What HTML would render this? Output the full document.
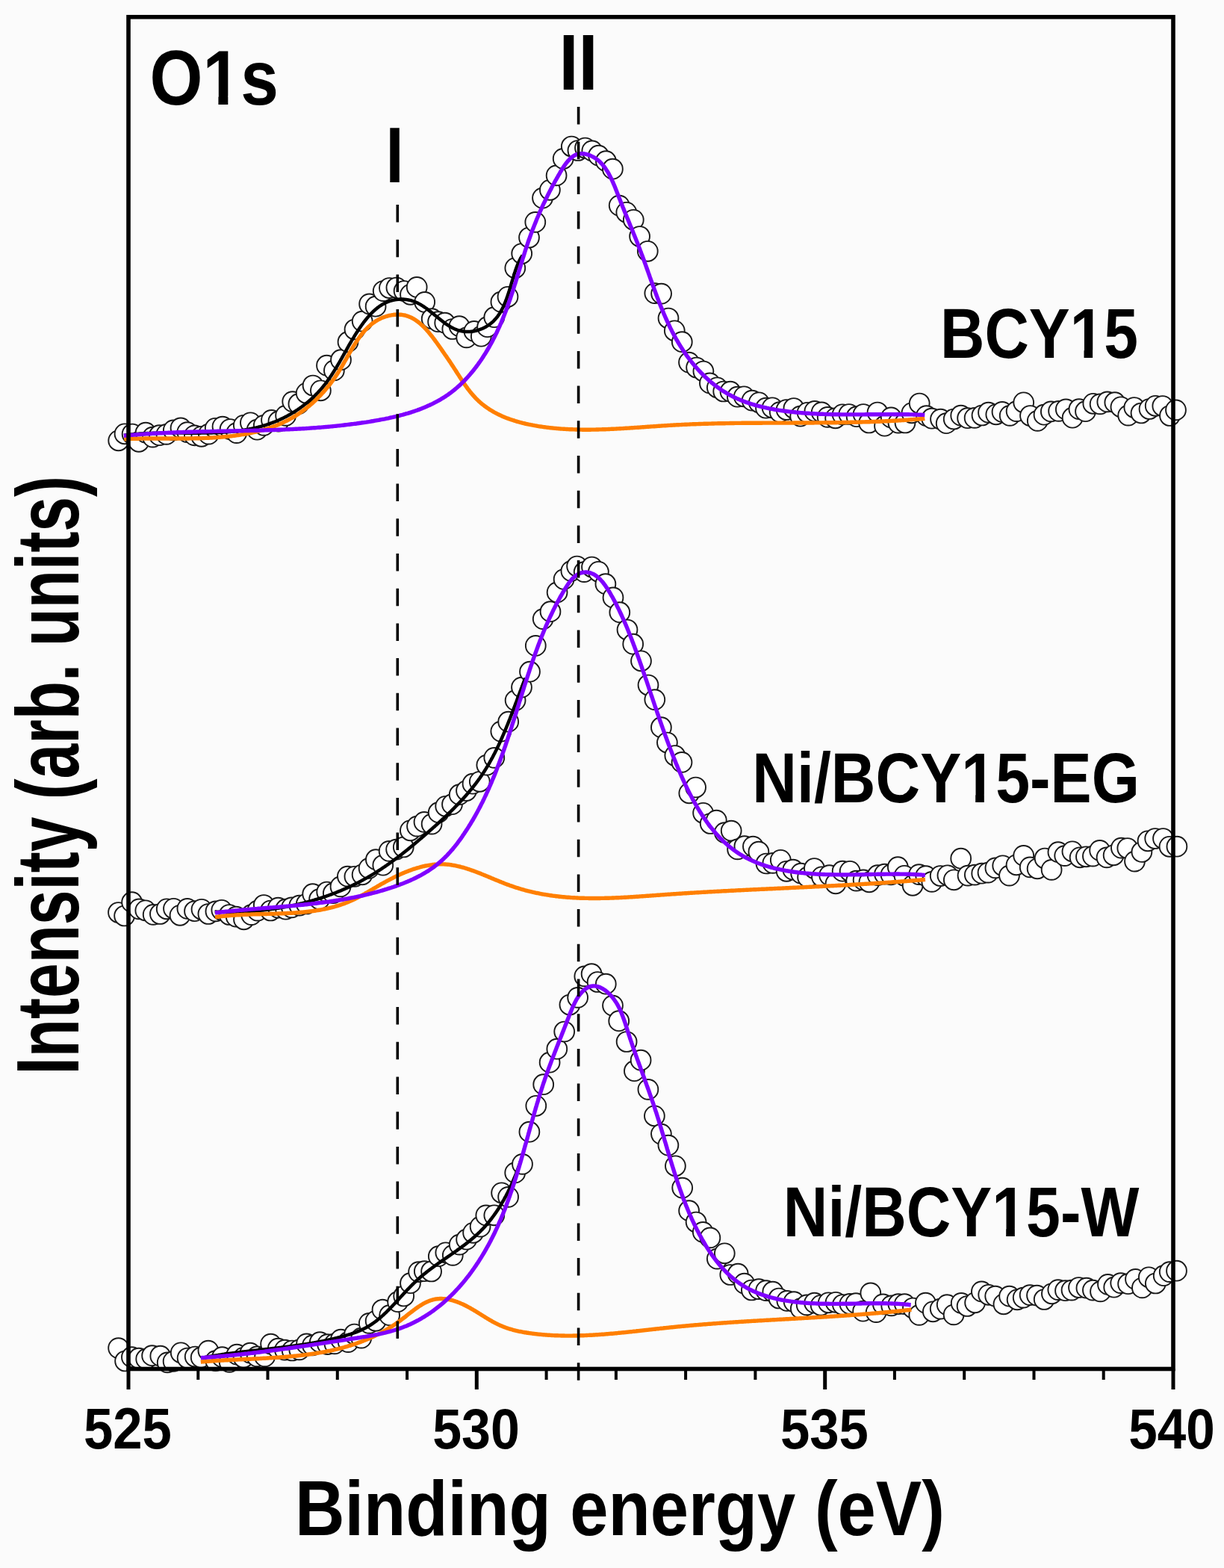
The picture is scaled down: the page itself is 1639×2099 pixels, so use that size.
<!DOCTYPE html>
<html><head><meta charset="utf-8"><title>O1s XPS spectra</title>
<style>html,body{margin:0;padding:0;background:#fbfbfb;}svg{display:block;}</style></head>
<body><svg width="1639" height="2099" viewBox="0 0 1639 2099"><rect x="0" y="0" width="1639" height="2099" fill="#fbfbfb"/>
<rect x="175" y="25.5" width="1393" height="1804.5" fill="#fbfbfb"/>
<g fill="#fff" stroke="#1a1a1a" stroke-width="1.9">
<circle cx="158.7" cy="589.8" r="13.4"/>
<circle cx="167.0" cy="580.8" r="13.4"/>
<circle cx="177.1" cy="581.0" r="13.4"/>
<circle cx="185.9" cy="591.3" r="13.4"/>
<circle cx="195.1" cy="579.2" r="13.4"/>
<circle cx="204.5" cy="585.1" r="13.4"/>
<circle cx="213.4" cy="582.7" r="13.4"/>
<circle cx="222.9" cy="581.4" r="13.4"/>
<circle cx="232.3" cy="575.9" r="13.4"/>
<circle cx="242.0" cy="572.9" r="13.4"/>
<circle cx="250.8" cy="578.6" r="13.4"/>
<circle cx="260.4" cy="582.9" r="13.4"/>
<circle cx="269.8" cy="584.3" r="13.4"/>
<circle cx="279.4" cy="581.1" r="13.4"/>
<circle cx="288.2" cy="573.3" r="13.4"/>
<circle cx="298.0" cy="571.1" r="13.4"/>
<circle cx="308.1" cy="574.5" r="13.4"/>
<circle cx="316.8" cy="579.6" r="13.4"/>
<circle cx="326.3" cy="569.3" r="13.4"/>
<circle cx="335.4" cy="565.8" r="13.4"/>
<circle cx="344.3" cy="575.2" r="13.4"/>
<circle cx="353.3" cy="569.4" r="13.4"/>
<circle cx="363.5" cy="562.4" r="13.4"/>
<circle cx="372.9" cy="564.2" r="13.4"/>
<circle cx="382.6" cy="556.4" r="13.4"/>
<circle cx="391.7" cy="537.6" r="13.4"/>
<circle cx="399.9" cy="540.7" r="13.4"/>
<circle cx="410.2" cy="526.3" r="13.4"/>
<circle cx="419.0" cy="516.0" r="13.4"/>
<circle cx="429.4" cy="522.8" r="13.4"/>
<circle cx="437.5" cy="489.2" r="13.4"/>
<circle cx="447.4" cy="495.9" r="13.4"/>
<circle cx="456.5" cy="481.7" r="13.4"/>
<circle cx="466.0" cy="457.7" r="13.4"/>
<circle cx="475.0" cy="441.0" r="13.4"/>
<circle cx="485.2" cy="430.1" r="13.4"/>
<circle cx="494.6" cy="406.9" r="13.4"/>
<circle cx="503.1" cy="410.2" r="13.4"/>
<circle cx="513.2" cy="389.6" r="13.4"/>
<circle cx="521.4" cy="385.5" r="13.4"/>
<circle cx="530.9" cy="385.0" r="13.4"/>
<circle cx="541.1" cy="389.5" r="13.4"/>
<circle cx="549.5" cy="394.3" r="13.4"/>
<circle cx="558.2" cy="384.4" r="13.4"/>
<circle cx="568.7" cy="404.4" r="13.4"/>
<circle cx="578.2" cy="426.7" r="13.4"/>
<circle cx="586.6" cy="430.7" r="13.4"/>
<circle cx="595.7" cy="432.2" r="13.4"/>
<circle cx="605.8" cy="440.5" r="13.4"/>
<circle cx="615.0" cy="436.6" r="13.4"/>
<circle cx="624.7" cy="451.9" r="13.4"/>
<circle cx="634.9" cy="443.4" r="13.4"/>
<circle cx="644.3" cy="450.2" r="13.4"/>
<circle cx="652.6" cy="437.7" r="13.4"/>
<circle cx="661.8" cy="424.7" r="13.4"/>
<circle cx="670.9" cy="404.2" r="13.4"/>
<circle cx="680.0" cy="397.3" r="13.4"/>
<circle cx="689.8" cy="358.8" r="13.4"/>
<circle cx="698.7" cy="339.5" r="13.4"/>
<circle cx="708.5" cy="318.0" r="13.4"/>
<circle cx="716.8" cy="297.4" r="13.4"/>
<circle cx="726.5" cy="265.1" r="13.4"/>
<circle cx="736.4" cy="254.3" r="13.4"/>
<circle cx="745.1" cy="234.9" r="13.4"/>
<circle cx="754.2" cy="212.4" r="13.4"/>
<circle cx="765.3" cy="196.0" r="13.4"/>
<circle cx="773.9" cy="201.5" r="13.4"/>
<circle cx="783.5" cy="198.0" r="13.4"/>
<circle cx="792.8" cy="201.9" r="13.4"/>
<circle cx="801.5" cy="208.2" r="13.4"/>
<circle cx="811.4" cy="215.7" r="13.4"/>
<circle cx="820.4" cy="226.2" r="13.4"/>
<circle cx="829.2" cy="275.1" r="13.4"/>
<circle cx="838.8" cy="284.3" r="13.4"/>
<circle cx="848.3" cy="294.3" r="13.4"/>
<circle cx="856.6" cy="316.5" r="13.4"/>
<circle cx="867.3" cy="336.3" r="13.4"/>
<circle cx="876.8" cy="392.6" r="13.4"/>
<circle cx="885.6" cy="393.1" r="13.4"/>
<circle cx="895.0" cy="426.0" r="13.4"/>
<circle cx="903.3" cy="442.8" r="13.4"/>
<circle cx="913.3" cy="457.7" r="13.4"/>
<circle cx="922.5" cy="485.1" r="13.4"/>
<circle cx="932.6" cy="492.0" r="13.4"/>
<circle cx="941.9" cy="497.0" r="13.4"/>
<circle cx="950.4" cy="512.9" r="13.4"/>
<circle cx="960.3" cy="518.8" r="13.4"/>
<circle cx="968.7" cy="524.0" r="13.4"/>
<circle cx="978.0" cy="524.2" r="13.4"/>
<circle cx="987.4" cy="531.2" r="13.4"/>
<circle cx="996.3" cy="530.8" r="13.4"/>
<circle cx="1007.1" cy="536.1" r="13.4"/>
<circle cx="1016.3" cy="538.8" r="13.4"/>
<circle cx="1025.5" cy="546.2" r="13.4"/>
<circle cx="1034.1" cy="545.8" r="13.4"/>
<circle cx="1044.2" cy="551.6" r="13.4"/>
<circle cx="1053.1" cy="548.5" r="13.4"/>
<circle cx="1062.9" cy="546.5" r="13.4"/>
<circle cx="1071.7" cy="557.2" r="13.4"/>
<circle cx="1081.1" cy="552.3" r="13.4"/>
<circle cx="1090.9" cy="550.4" r="13.4"/>
<circle cx="1100.2" cy="551.9" r="13.4"/>
<circle cx="1108.2" cy="558.4" r="13.4"/>
<circle cx="1118.6" cy="559.8" r="13.4"/>
<circle cx="1128.1" cy="554.8" r="13.4"/>
<circle cx="1136.8" cy="554.5" r="13.4"/>
<circle cx="1147.1" cy="557.7" r="13.4"/>
<circle cx="1156.1" cy="554.5" r="13.4"/>
<circle cx="1163.6" cy="566.0" r="13.4"/>
<circle cx="1175.0" cy="552.0" r="13.4"/>
<circle cx="1184.5" cy="570.2" r="13.4"/>
<circle cx="1193.2" cy="558.9" r="13.4"/>
<circle cx="1202.9" cy="566.1" r="13.4"/>
<circle cx="1212.0" cy="566.0" r="13.4"/>
<circle cx="1220.9" cy="552.8" r="13.4"/>
<circle cx="1231.2" cy="540.0" r="13.4"/>
<circle cx="1240.5" cy="556.6" r="13.4"/>
<circle cx="1247.7" cy="560.2" r="13.4"/>
<circle cx="1259.5" cy="561.1" r="13.4"/>
<circle cx="1267.2" cy="566.7" r="13.4"/>
<circle cx="1277.2" cy="561.0" r="13.4"/>
<circle cx="1286.7" cy="556.2" r="13.4"/>
<circle cx="1295.6" cy="559.7" r="13.4"/>
<circle cx="1305.1" cy="559.4" r="13.4"/>
<circle cx="1315.0" cy="556.0" r="13.4"/>
<circle cx="1323.5" cy="552.2" r="13.4"/>
<circle cx="1333.8" cy="554.8" r="13.4"/>
<circle cx="1342.0" cy="551.4" r="13.4"/>
<circle cx="1352.2" cy="556.4" r="13.4"/>
<circle cx="1361.1" cy="550.6" r="13.4"/>
<circle cx="1370.7" cy="538.8" r="13.4"/>
<circle cx="1379.5" cy="556.5" r="13.4"/>
<circle cx="1389.3" cy="563.4" r="13.4"/>
<circle cx="1398.0" cy="555.2" r="13.4"/>
<circle cx="1407.3" cy="550.9" r="13.4"/>
<circle cx="1417.6" cy="550.4" r="13.4"/>
<circle cx="1427.3" cy="547.9" r="13.4"/>
<circle cx="1436.1" cy="559.2" r="13.4"/>
<circle cx="1444.9" cy="547.7" r="13.4"/>
<circle cx="1453.5" cy="550.7" r="13.4"/>
<circle cx="1463.8" cy="540.3" r="13.4"/>
<circle cx="1473.1" cy="540.9" r="13.4"/>
<circle cx="1482.8" cy="537.9" r="13.4"/>
<circle cx="1492.8" cy="538.7" r="13.4"/>
<circle cx="1500.9" cy="544.8" r="13.4"/>
<circle cx="1510.7" cy="556.1" r="13.4"/>
<circle cx="1518.8" cy="545.5" r="13.4"/>
<circle cx="1528.0" cy="553.0" r="13.4"/>
<circle cx="1539.0" cy="547.5" r="13.4"/>
<circle cx="1547.2" cy="543.3" r="13.4"/>
<circle cx="1556.8" cy="543.5" r="13.4"/>
<circle cx="1566.5" cy="556.5" r="13.4"/>
<circle cx="1574.5" cy="548.9" r="13.4"/>
</g>
<g fill="#fff" stroke="#1a1a1a" stroke-width="1.9">
<circle cx="158.5" cy="1221.5" r="13.4"/>
<circle cx="166.6" cy="1226.0" r="13.4"/>
<circle cx="176.6" cy="1207.7" r="13.4"/>
<circle cx="186.3" cy="1216.9" r="13.4"/>
<circle cx="194.8" cy="1218.8" r="13.4"/>
<circle cx="205.2" cy="1224.4" r="13.4"/>
<circle cx="214.4" cy="1223.5" r="13.4"/>
<circle cx="223.2" cy="1216.8" r="13.4"/>
<circle cx="232.5" cy="1216.3" r="13.4"/>
<circle cx="241.0" cy="1225.3" r="13.4"/>
<circle cx="250.9" cy="1216.4" r="13.4"/>
<circle cx="260.5" cy="1219.7" r="13.4"/>
<circle cx="270.0" cy="1217.3" r="13.4"/>
<circle cx="278.9" cy="1223.5" r="13.4"/>
<circle cx="288.9" cy="1219.9" r="13.4"/>
<circle cx="296.8" cy="1218.3" r="13.4"/>
<circle cx="307.0" cy="1224.5" r="13.4"/>
<circle cx="316.2" cy="1227.1" r="13.4"/>
<circle cx="326.5" cy="1230.8" r="13.4"/>
<circle cx="336.6" cy="1224.6" r="13.4"/>
<circle cx="344.9" cy="1219.1" r="13.4"/>
<circle cx="353.3" cy="1211.5" r="13.4"/>
<circle cx="362.3" cy="1219.0" r="13.4"/>
<circle cx="372.4" cy="1215.1" r="13.4"/>
<circle cx="382.6" cy="1217.2" r="13.4"/>
<circle cx="390.5" cy="1214.9" r="13.4"/>
<circle cx="400.9" cy="1212.1" r="13.4"/>
<circle cx="410.3" cy="1210.0" r="13.4"/>
<circle cx="418.7" cy="1196.7" r="13.4"/>
<circle cx="427.6" cy="1203.7" r="13.4"/>
<circle cx="437.7" cy="1194.0" r="13.4"/>
<circle cx="446.3" cy="1195.7" r="13.4"/>
<circle cx="456.0" cy="1186.9" r="13.4"/>
<circle cx="465.4" cy="1173.1" r="13.4"/>
<circle cx="474.9" cy="1173.3" r="13.4"/>
<circle cx="485.1" cy="1170.8" r="13.4"/>
<circle cx="494.1" cy="1162.4" r="13.4"/>
<circle cx="503.4" cy="1150.7" r="13.4"/>
<circle cx="512.8" cy="1158.2" r="13.4"/>
<circle cx="521.1" cy="1139.4" r="13.4"/>
<circle cx="530.6" cy="1137.1" r="13.4"/>
<circle cx="540.3" cy="1134.0" r="13.4"/>
<circle cx="549.4" cy="1111.8" r="13.4"/>
<circle cx="558.5" cy="1106.1" r="13.4"/>
<circle cx="568.0" cy="1100.4" r="13.4"/>
<circle cx="578.1" cy="1103.1" r="13.4"/>
<circle cx="587.2" cy="1087.7" r="13.4"/>
<circle cx="596.7" cy="1079.3" r="13.4"/>
<circle cx="605.5" cy="1076.7" r="13.4"/>
<circle cx="615.2" cy="1063.7" r="13.4"/>
<circle cx="624.5" cy="1058.5" r="13.4"/>
<circle cx="633.0" cy="1049.2" r="13.4"/>
<circle cx="642.3" cy="1046.3" r="13.4"/>
<circle cx="651.8" cy="1024.1" r="13.4"/>
<circle cx="661.8" cy="1014.4" r="13.4"/>
<circle cx="670.8" cy="979.1" r="13.4"/>
<circle cx="680.7" cy="966.2" r="13.4"/>
<circle cx="690.1" cy="937.6" r="13.4"/>
<circle cx="698.5" cy="920.1" r="13.4"/>
<circle cx="709.5" cy="899.2" r="13.4"/>
<circle cx="717.3" cy="864.4" r="13.4"/>
<circle cx="727.2" cy="828.6" r="13.4"/>
<circle cx="737.0" cy="818.7" r="13.4"/>
<circle cx="746.1" cy="792.9" r="13.4"/>
<circle cx="755.1" cy="775.4" r="13.4"/>
<circle cx="764.9" cy="764.4" r="13.4"/>
<circle cx="772.6" cy="758.0" r="13.4"/>
<circle cx="782.2" cy="765.6" r="13.4"/>
<circle cx="792.5" cy="759.0" r="13.4"/>
<circle cx="801.4" cy="765.3" r="13.4"/>
<circle cx="810.9" cy="781.7" r="13.4"/>
<circle cx="821.0" cy="799.9" r="13.4"/>
<circle cx="829.8" cy="819.7" r="13.4"/>
<circle cx="840.0" cy="843.0" r="13.4"/>
<circle cx="847.7" cy="862.2" r="13.4"/>
<circle cx="858.5" cy="884.8" r="13.4"/>
<circle cx="868.0" cy="917.0" r="13.4"/>
<circle cx="876.8" cy="936.6" r="13.4"/>
<circle cx="885.4" cy="973.7" r="13.4"/>
<circle cx="893.4" cy="994.0" r="13.4"/>
<circle cx="903.8" cy="1011.5" r="13.4"/>
<circle cx="913.0" cy="1020.4" r="13.4"/>
<circle cx="922.8" cy="1061.8" r="13.4"/>
<circle cx="931.6" cy="1054.0" r="13.4"/>
<circle cx="941.6" cy="1088.3" r="13.4"/>
<circle cx="951.2" cy="1102.5" r="13.4"/>
<circle cx="959.3" cy="1098.1" r="13.4"/>
<circle cx="970.3" cy="1114.6" r="13.4"/>
<circle cx="979.2" cy="1112.1" r="13.4"/>
<circle cx="987.6" cy="1136.9" r="13.4"/>
<circle cx="996.9" cy="1132.7" r="13.4"/>
<circle cx="1008.4" cy="1133.1" r="13.4"/>
<circle cx="1015.9" cy="1140.2" r="13.4"/>
<circle cx="1026.0" cy="1156.0" r="13.4"/>
<circle cx="1034.9" cy="1155.4" r="13.4"/>
<circle cx="1045.3" cy="1151.3" r="13.4"/>
<circle cx="1053.2" cy="1166.3" r="13.4"/>
<circle cx="1061.9" cy="1164.2" r="13.4"/>
<circle cx="1072.6" cy="1169.1" r="13.4"/>
<circle cx="1081.6" cy="1174.2" r="13.4"/>
<circle cx="1090.4" cy="1162.5" r="13.4"/>
<circle cx="1100.5" cy="1173.8" r="13.4"/>
<circle cx="1110.6" cy="1171.6" r="13.4"/>
<circle cx="1119.0" cy="1182.8" r="13.4"/>
<circle cx="1128.1" cy="1166.2" r="13.4"/>
<circle cx="1138.1" cy="1166.3" r="13.4"/>
<circle cx="1146.7" cy="1179.1" r="13.4"/>
<circle cx="1156.1" cy="1177.9" r="13.4"/>
<circle cx="1163.9" cy="1180.8" r="13.4"/>
<circle cx="1175.2" cy="1171.7" r="13.4"/>
<circle cx="1184.5" cy="1170.1" r="13.4"/>
<circle cx="1193.0" cy="1170.8" r="13.4"/>
<circle cx="1202.3" cy="1160.7" r="13.4"/>
<circle cx="1211.0" cy="1172.3" r="13.4"/>
<circle cx="1222.1" cy="1185.3" r="13.4"/>
<circle cx="1230.6" cy="1170.6" r="13.4"/>
<circle cx="1239.7" cy="1172.6" r="13.4"/>
<circle cx="1247.8" cy="1180.4" r="13.4"/>
<circle cx="1259.2" cy="1172.5" r="13.4"/>
<circle cx="1268.9" cy="1171.8" r="13.4"/>
<circle cx="1277.3" cy="1177.8" r="13.4"/>
<circle cx="1286.7" cy="1149.2" r="13.4"/>
<circle cx="1296.0" cy="1172.1" r="13.4"/>
<circle cx="1305.3" cy="1171.1" r="13.4"/>
<circle cx="1314.7" cy="1169.2" r="13.4"/>
<circle cx="1323.0" cy="1168.1" r="13.4"/>
<circle cx="1332.9" cy="1161.9" r="13.4"/>
<circle cx="1342.7" cy="1158.8" r="13.4"/>
<circle cx="1351.5" cy="1172.1" r="13.4"/>
<circle cx="1361.0" cy="1157.8" r="13.4"/>
<circle cx="1370.7" cy="1145.4" r="13.4"/>
<circle cx="1379.2" cy="1160.9" r="13.4"/>
<circle cx="1389.1" cy="1162.8" r="13.4"/>
<circle cx="1399.1" cy="1149.0" r="13.4"/>
<circle cx="1408.1" cy="1164.4" r="13.4"/>
<circle cx="1416.9" cy="1140.7" r="13.4"/>
<circle cx="1425.7" cy="1145.6" r="13.4"/>
<circle cx="1435.9" cy="1139.8" r="13.4"/>
<circle cx="1446.1" cy="1147.8" r="13.4"/>
<circle cx="1454.4" cy="1146.8" r="13.4"/>
<circle cx="1463.4" cy="1146.1" r="13.4"/>
<circle cx="1472.6" cy="1138.4" r="13.4"/>
<circle cx="1482.0" cy="1147.9" r="13.4"/>
<circle cx="1491.1" cy="1144.8" r="13.4"/>
<circle cx="1501.4" cy="1135.1" r="13.4"/>
<circle cx="1509.8" cy="1135.5" r="13.4"/>
<circle cx="1519.5" cy="1153.1" r="13.4"/>
<circle cx="1528.9" cy="1140.5" r="13.4"/>
<circle cx="1537.0" cy="1125.8" r="13.4"/>
<circle cx="1546.7" cy="1122.5" r="13.4"/>
<circle cx="1557.5" cy="1122.5" r="13.4"/>
<circle cx="1566.0" cy="1133.3" r="13.4"/>
<circle cx="1575.9" cy="1133.2" r="13.4"/>
</g>
<g fill="#fff" stroke="#1a1a1a" stroke-width="1.9">
<circle cx="158.6" cy="1804.6" r="13.4"/>
<circle cx="167.6" cy="1822.0" r="13.4"/>
<circle cx="176.4" cy="1816.7" r="13.4"/>
<circle cx="185.8" cy="1818.2" r="13.4"/>
<circle cx="195.7" cy="1819.2" r="13.4"/>
<circle cx="203.6" cy="1814.7" r="13.4"/>
<circle cx="214.8" cy="1815.2" r="13.4"/>
<circle cx="224.2" cy="1823.9" r="13.4"/>
<circle cx="232.1" cy="1822.4" r="13.4"/>
<circle cx="242.2" cy="1810.8" r="13.4"/>
<circle cx="251.1" cy="1818.0" r="13.4"/>
<circle cx="261.2" cy="1816.0" r="13.4"/>
<circle cx="269.2" cy="1817.2" r="13.4"/>
<circle cx="278.9" cy="1808.1" r="13.4"/>
<circle cx="288.7" cy="1821.6" r="13.4"/>
<circle cx="297.5" cy="1816.7" r="13.4"/>
<circle cx="307.2" cy="1823.4" r="13.4"/>
<circle cx="317.2" cy="1813.2" r="13.4"/>
<circle cx="326.1" cy="1817.3" r="13.4"/>
<circle cx="335.0" cy="1811.1" r="13.4"/>
<circle cx="344.2" cy="1815.9" r="13.4"/>
<circle cx="354.6" cy="1815.9" r="13.4"/>
<circle cx="362.6" cy="1799.1" r="13.4"/>
<circle cx="372.3" cy="1805.2" r="13.4"/>
<circle cx="381.4" cy="1807.1" r="13.4"/>
<circle cx="391.2" cy="1808.0" r="13.4"/>
<circle cx="400.8" cy="1806.9" r="13.4"/>
<circle cx="410.5" cy="1798.9" r="13.4"/>
<circle cx="418.5" cy="1800.9" r="13.4"/>
<circle cx="428.3" cy="1796.7" r="13.4"/>
<circle cx="438.5" cy="1799.6" r="13.4"/>
<circle cx="448.0" cy="1798.9" r="13.4"/>
<circle cx="456.4" cy="1793.1" r="13.4"/>
<circle cx="466.2" cy="1796.6" r="13.4"/>
<circle cx="474.6" cy="1786.0" r="13.4"/>
<circle cx="483.8" cy="1791.1" r="13.4"/>
<circle cx="494.3" cy="1771.4" r="13.4"/>
<circle cx="503.1" cy="1768.3" r="13.4"/>
<circle cx="512.0" cy="1753.2" r="13.4"/>
<circle cx="521.6" cy="1760.7" r="13.4"/>
<circle cx="532.6" cy="1742.7" r="13.4"/>
<circle cx="540.7" cy="1735.0" r="13.4"/>
<circle cx="549.5" cy="1717.7" r="13.4"/>
<circle cx="560.6" cy="1702.6" r="13.4"/>
<circle cx="568.3" cy="1701.7" r="13.4"/>
<circle cx="577.6" cy="1702.0" r="13.4"/>
<circle cx="587.3" cy="1681.7" r="13.4"/>
<circle cx="596.8" cy="1676.8" r="13.4"/>
<circle cx="606.3" cy="1680.4" r="13.4"/>
<circle cx="615.2" cy="1666.1" r="13.4"/>
<circle cx="624.6" cy="1659.2" r="13.4"/>
<circle cx="633.6" cy="1650.3" r="13.4"/>
<circle cx="643.1" cy="1642.1" r="13.4"/>
<circle cx="650.8" cy="1626.9" r="13.4"/>
<circle cx="661.8" cy="1626.8" r="13.4"/>
<circle cx="671.6" cy="1596.8" r="13.4"/>
<circle cx="680.6" cy="1602.4" r="13.4"/>
<circle cx="689.7" cy="1569.9" r="13.4"/>
<circle cx="699.5" cy="1558.4" r="13.4"/>
<circle cx="708.9" cy="1515.2" r="13.4"/>
<circle cx="717.8" cy="1480.3" r="13.4"/>
<circle cx="727.7" cy="1451.7" r="13.4"/>
<circle cx="736.1" cy="1422.2" r="13.4"/>
<circle cx="745.8" cy="1404.2" r="13.4"/>
<circle cx="755.7" cy="1381.0" r="13.4"/>
<circle cx="762.9" cy="1345.0" r="13.4"/>
<circle cx="773.6" cy="1335.4" r="13.4"/>
<circle cx="782.8" cy="1306.9" r="13.4"/>
<circle cx="792.1" cy="1303.7" r="13.4"/>
<circle cx="800.1" cy="1314.5" r="13.4"/>
<circle cx="811.3" cy="1317.2" r="13.4"/>
<circle cx="820.5" cy="1346.1" r="13.4"/>
<circle cx="828.7" cy="1366.7" r="13.4"/>
<circle cx="839.1" cy="1394.5" r="13.4"/>
<circle cx="849.4" cy="1433.7" r="13.4"/>
<circle cx="858.1" cy="1419.2" r="13.4"/>
<circle cx="867.9" cy="1458.4" r="13.4"/>
<circle cx="876.4" cy="1493.8" r="13.4"/>
<circle cx="885.4" cy="1518.1" r="13.4"/>
<circle cx="894.9" cy="1533.1" r="13.4"/>
<circle cx="904.4" cy="1560.8" r="13.4"/>
<circle cx="913.7" cy="1590.1" r="13.4"/>
<circle cx="922.6" cy="1620.7" r="13.4"/>
<circle cx="932.1" cy="1636.0" r="13.4"/>
<circle cx="941.3" cy="1649.4" r="13.4"/>
<circle cx="950.9" cy="1656.9" r="13.4"/>
<circle cx="960.3" cy="1685.1" r="13.4"/>
<circle cx="970.3" cy="1677.8" r="13.4"/>
<circle cx="977.8" cy="1706.5" r="13.4"/>
<circle cx="988.2" cy="1705.2" r="13.4"/>
<circle cx="996.7" cy="1718.1" r="13.4"/>
<circle cx="1006.4" cy="1727.0" r="13.4"/>
<circle cx="1016.1" cy="1725.6" r="13.4"/>
<circle cx="1025.7" cy="1727.6" r="13.4"/>
<circle cx="1034.8" cy="1729.2" r="13.4"/>
<circle cx="1043.0" cy="1738.0" r="13.4"/>
<circle cx="1053.9" cy="1741.4" r="13.4"/>
<circle cx="1063.1" cy="1742.6" r="13.4"/>
<circle cx="1072.3" cy="1751.7" r="13.4"/>
<circle cx="1080.2" cy="1746.9" r="13.4"/>
<circle cx="1090.6" cy="1744.1" r="13.4"/>
<circle cx="1099.1" cy="1747.3" r="13.4"/>
<circle cx="1109.3" cy="1743.8" r="13.4"/>
<circle cx="1119.1" cy="1743.3" r="13.4"/>
<circle cx="1128.4" cy="1746.5" r="13.4"/>
<circle cx="1137.9" cy="1745.4" r="13.4"/>
<circle cx="1146.1" cy="1744.6" r="13.4"/>
<circle cx="1155.6" cy="1755.2" r="13.4"/>
<circle cx="1165.8" cy="1730.9" r="13.4"/>
<circle cx="1173.2" cy="1756.6" r="13.4"/>
<circle cx="1182.4" cy="1745.9" r="13.4"/>
<circle cx="1193.7" cy="1747.9" r="13.4"/>
<circle cx="1202.9" cy="1745.7" r="13.4"/>
<circle cx="1211.3" cy="1745.6" r="13.4"/>
<circle cx="1222.4" cy="1751.0" r="13.4"/>
<circle cx="1230.8" cy="1760.4" r="13.4"/>
<circle cx="1239.4" cy="1744.1" r="13.4"/>
<circle cx="1249.3" cy="1755.8" r="13.4"/>
<circle cx="1259.2" cy="1752.1" r="13.4"/>
<circle cx="1268.2" cy="1746.6" r="13.4"/>
<circle cx="1277.1" cy="1759.9" r="13.4"/>
<circle cx="1287.2" cy="1744.4" r="13.4"/>
<circle cx="1295.1" cy="1748.5" r="13.4"/>
<circle cx="1305.6" cy="1743.8" r="13.4"/>
<circle cx="1314.4" cy="1728.9" r="13.4"/>
<circle cx="1323.7" cy="1733.3" r="13.4"/>
<circle cx="1332.7" cy="1735.1" r="13.4"/>
<circle cx="1343.9" cy="1745.8" r="13.4"/>
<circle cx="1351.6" cy="1735.2" r="13.4"/>
<circle cx="1362.1" cy="1739.8" r="13.4"/>
<circle cx="1370.2" cy="1737.1" r="13.4"/>
<circle cx="1379.1" cy="1733.6" r="13.4"/>
<circle cx="1388.5" cy="1734.1" r="13.4"/>
<circle cx="1398.2" cy="1739.5" r="13.4"/>
<circle cx="1408.4" cy="1731.8" r="13.4"/>
<circle cx="1416.8" cy="1726.6" r="13.4"/>
<circle cx="1426.5" cy="1727.7" r="13.4"/>
<circle cx="1435.0" cy="1727.1" r="13.4"/>
<circle cx="1444.5" cy="1723.5" r="13.4"/>
<circle cx="1454.9" cy="1724.2" r="13.4"/>
<circle cx="1463.4" cy="1727.1" r="13.4"/>
<circle cx="1473.5" cy="1728.9" r="13.4"/>
<circle cx="1483.5" cy="1719.4" r="13.4"/>
<circle cx="1491.7" cy="1723.2" r="13.4"/>
<circle cx="1500.7" cy="1717.6" r="13.4"/>
<circle cx="1510.6" cy="1718.7" r="13.4"/>
<circle cx="1520.5" cy="1712.4" r="13.4"/>
<circle cx="1529.4" cy="1723.9" r="13.4"/>
<circle cx="1538.3" cy="1709.8" r="13.4"/>
<circle cx="1547.3" cy="1718.0" r="13.4"/>
<circle cx="1558.2" cy="1707.7" r="13.4"/>
<circle cx="1566.2" cy="1702.6" r="13.4"/>
<circle cx="1575.5" cy="1701.2" r="13.4"/>
</g>
<path d="M166.1,582.8 L166.8,582.7 L167.6,582.6 L168.3,582.5 L169.0,582.4 L169.8,582.3 L170.5,582.2 L171.2,582.1 L172.0,582.0 L172.7,581.9 L173.5,581.8 L174.2,581.8 L175.0,581.7 L175.7,581.6 L176.4,581.5 L177.2,581.4 L177.9,581.4 L178.7,581.3 L179.4,581.2 L180.2,581.2 L180.9,581.1 L181.7,581.0 L182.4,581.0 L183.2,580.9 L183.9,580.9 L184.7,580.8 L185.4,580.8 L186.2,580.7 L186.9,580.6 L187.7,580.6 L188.4,580.5 L189.2,580.5 L189.9,580.5 L190.7,580.4 L191.4,580.4 L192.2,580.3 L193.0,580.3 L193.7,580.2 L194.5,580.2 L195.2,580.2 L196.0,580.1 L196.7,580.1 L197.5,580.1 L198.3,580.0 L199.0,580.0 L199.8,580.0 L200.6,580.0 L201.3,579.9 L202.1,579.9 L202.8,579.9 L203.6,579.9 L204.4,579.8 L205.1,579.8 L205.9,579.8 L206.7,579.8 L207.4,579.8 L208.2,579.7 L209.0,579.7 L209.7,579.7 L210.5,579.7 L211.3,579.7 L212.0,579.7 L212.8,579.7 L213.6,579.6 L214.3,579.6 L215.1,579.6 L215.9,579.6 L216.6,579.6 L217.4,579.6 L218.2,579.6 L218.9,579.6 L219.7,579.6 L220.5,579.6 L221.3,579.6 L222.0,579.6 L222.8,579.6 L223.6,579.6 L224.3,579.6 L225.1,579.6 L225.9,579.6 L226.7,579.6 L227.4,579.6 L228.2,579.6 L229.0,579.6 L229.8,579.6 L230.5,579.6 L231.3,579.6 L232.1,579.6 L232.9,579.6 L233.6,579.6 L234.4,579.6 L235.2,579.6 L236.0,579.6 L236.7,579.6 L237.5,579.6 L238.3,579.6 L239.1,579.6 L239.8,579.6 L240.6,579.6 L241.4,579.6 L242.2,579.6 L242.9,579.6 L243.7,579.6 L244.5,579.6 L245.3,579.6 L246.0,579.6 L246.8,579.6 L247.6,579.6 L248.4,579.7 L249.1,579.7 L249.9,579.7 L250.7,579.7 L251.5,579.7 L252.3,579.7 L253.0,579.7 L253.8,579.7 L254.6,579.7 L255.4,579.7 L256.1,579.7 L256.9,579.7 L257.7,579.7 L258.5,579.7 L259.2,579.7 L260.0,579.7 L260.8,579.7 L261.6,579.7 L262.3,579.7 L263.1,579.7 L263.9,579.7 L264.7,579.7 L265.5,579.7 L266.2,579.7 L267.0,579.7 L267.8,579.7 L268.6,579.7 L269.3,579.6 L270.1,579.6 L270.9,579.6 L271.7,579.6 L272.4,579.6 L273.2,579.6 L274.0,579.6 L274.8,579.6 L275.5,579.6 L276.3,579.5 L277.1,579.5 L277.9,579.5 L278.6,579.5 L279.4,579.5 L280.2,579.5 L280.9,579.4 L281.7,579.4 L282.5,579.4 L283.3,579.4 L284.0,579.4 L284.8,579.3 L285.6,579.3 L286.4,579.3 L287.1,579.2 L287.9,579.2 L288.7,579.2 L289.4,579.2 L290.2,579.1 L291.0,579.1 L291.7,579.1 L292.5,579.0 L293.3,579.0 L294.0,578.9 L294.8,578.9 L295.6,578.9 L296.4,578.8 L297.1,578.8 L297.9,578.7 L298.7,578.7 L299.4,578.6 L300.2,578.6 L300.9,578.5 L301.7,578.5 L302.5,578.4 L303.2,578.3 L304.0,578.3 L304.8,578.2 L305.5,578.2 L306.3,578.1 L307.1,578.0 L307.8,578.0 L308.6,577.9 L309.3,577.8 L310.1,577.8 L310.9,577.7 L311.6,577.6 L312.4,577.5 L313.1,577.4 L313.9,577.4 L314.6,577.3 L315.4,577.2 L316.2,577.1 L316.9,577.0 L317.7,576.9 L318.4,576.8 L319.2,576.7 L319.9,576.6 L320.7,576.5 L321.4,576.4 L322.2,576.3 L322.9,576.2 L323.7,576.1 L324.4,576.0 L325.2,575.9 L325.9,575.8 L326.7,575.7 L327.4,575.5 L328.2,575.4 L328.9,575.3 L329.7,575.2 L330.4,575.0 L331.2,574.9 L331.9,574.8 L332.6,574.6 L333.4,574.5 L334.1,574.3 L334.9,574.2 L335.6,574.1 L336.3,573.9 L337.1,573.8 L337.8,573.6 L338.6,573.4 L339.3,573.3 L340.0,573.1 L340.8,573.0 L341.5,572.8 L342.2,572.6 L343.0,572.5 L343.7,572.3 L344.4,572.1 L345.2,571.9 L345.9,571.7 L346.6,571.6 L347.3,571.4 L348.1,571.2 L348.8,571.0 L349.5,570.8 L350.3,570.6 L351.0,570.4 L351.7,570.2 L352.4,570.0 L353.1,569.7 L353.9,569.5 L354.6,569.3 L355.3,569.1 L356.0,568.9 L356.7,568.6 L357.5,568.4 L358.2,568.2 L358.9,567.9 L359.6,567.7 L360.3,567.5 L361.0,567.2 L361.7,567.0 L362.4,566.7 L363.2,566.4 L363.9,566.2 L364.6,565.9 L365.3,565.7 L366.0,565.4 L366.7,565.1 L367.4,564.8 L368.1,564.6 L368.8,564.3 L369.5,564.0 L370.2,563.7 L370.9,563.4 L371.6,563.1 L372.3,562.8 L373.0,562.5 L373.7,562.2 L374.4,561.9 L375.1,561.6 L375.8,561.2 L376.4,560.9 L377.1,560.6 L377.8,560.3 L378.5,559.9 L379.2,559.6 L379.9,559.3 L380.6,558.9 L381.2,558.6 L381.9,558.2 L382.6,557.9 L383.3,557.5 L384.0,557.2 L384.6,556.8 L385.3,556.4 L386.0,556.1 L386.6,555.7 L387.3,555.3 L388.0,555.0 L388.6,554.6 L389.3,554.2 L390.0,553.8 L390.6,553.4 L391.3,553.0 L391.9,552.6 L392.6,552.2 L393.2,551.8 L393.9,551.4 L394.5,551.0 L395.2,550.6 L395.8,550.2 L396.5,549.8 L397.1,549.3 L397.8,548.9 L398.4,548.5 L399.0,548.1 L399.7,547.6 L400.3,547.2 L400.9,546.8 L401.6,546.3 L402.2,545.9 L402.8,545.4 L403.4,545.0 L404.1,544.5 L404.7,544.1 L405.3,543.6 L405.9,543.2 L406.5,542.7 L407.1,542.2 L407.7,541.8 L408.3,541.3 L408.9,540.8 L409.5,540.3 L410.1,539.9 L410.7,539.4 L411.3,538.9 L411.9,538.4 L412.5,537.9 L413.1,537.4 L413.7,536.9 L414.2,536.4 L414.8,535.9 L415.4,535.4 L416.0,534.9 L416.5,534.4 L417.1,533.9 L417.7,533.4 L418.2,532.9 L418.8,532.3 L419.3,531.8 L419.9,531.3 L420.5,530.8 L421.0,530.2 L421.5,529.7 L422.1,529.2 L422.6,528.6 L423.2,528.1 L423.7,527.5 L424.2,527.0 L424.8,526.5 L425.3,525.9 L425.8,525.4 L426.3,524.8 L426.8,524.3 L427.4,523.7 L427.9,523.1 L428.4,522.6 L428.9,522.0 L429.4,521.4 L429.9,520.9 L430.4,520.3 L430.9,519.7 L431.4,519.2 L431.8,518.6 L432.3,518.0 L432.8,517.4 L433.3,516.8 L433.7,516.2 L434.2,515.7 L434.7,515.1 L435.1,514.5 L435.6,513.9 L436.1,513.3 L436.5,512.7 L437.0,512.1 L437.4,511.5 L437.9,510.9 L438.3,510.3 L438.8,509.7 L439.2,509.1 L439.6,508.4 L440.1,507.8 L440.5,507.2 L440.9,506.6 L441.4,506.0 L441.8,505.4 L442.2,504.7 L442.6,504.1 L443.0,503.5 L443.5,502.9 L443.9,502.2 L444.3,501.6 L444.7,501.0 L445.1,500.3 L445.5,499.7 L445.9,499.1 L446.3,498.4 L446.7,497.8 L447.1,497.2 L447.5,496.5 L447.9,495.9 L448.3,495.2 L448.7,494.6 L449.1,494.0 L449.5,493.3 L449.9,492.7 L450.3,492.0 L450.7,491.4 L451.1,490.7 L451.5,490.1 L451.9,489.4 L452.2,488.8 L452.6,488.1 L453.0,487.4 L453.4,486.8 L453.8,486.1 L454.2,485.5 L454.5,484.8 L454.9,484.2 L455.3,483.5 L455.7,482.8 L456.0,482.2 L456.4,481.5 L456.8,480.8 L457.2,480.2 L457.6,479.5 L457.9,478.9 L458.3,478.2 L458.7,477.5 L459.1,476.9 L459.4,476.2 L459.8,475.5 L460.2,474.8 L460.6,474.2 L460.9,473.5 L461.3,472.8 L461.7,472.2 L462.1,471.5 L462.5,470.8 L462.8,470.2 L463.2,469.5 L463.6,468.8 L464.0,468.1 L464.4,467.5 L464.7,466.8 L465.1,466.1 L465.5,465.4 L465.9,464.8 L466.3,464.1 L466.6,463.4 L467.0,462.7 L467.4,462.1 L467.8,461.4 L468.2,460.7 L468.6,460.1 L469.0,459.4 L469.4,458.7 L469.8,458.0 L470.2,457.4 L470.5,456.7 L470.9,456.0 L471.3,455.3 L471.7,454.7 L472.1,454.0 L472.5,453.3 L473.0,452.7 L473.4,452.0 L473.8,451.3 L474.2,450.6 L474.6,450.0 L475.0,449.3 L475.4,448.6 L475.8,448.0 L476.3,447.3 L476.7,446.6 L477.1,446.0 L477.5,445.3 L478.0,444.6 L478.4,444.0 L478.8,443.3 L479.2,442.6 L479.7,442.0 L480.1,441.3 L480.6,440.7 L481.0,440.0 L481.5,439.3 L481.9,438.7 L482.4,438.0 L482.8,437.4 L483.3,436.7 L483.7,436.0 L484.2,435.4 L484.7,434.7 L485.1,434.1 L485.6,433.5 L486.1,432.8 L486.5,432.2 L487.0,431.5 L487.5,430.9 L488.0,430.3 L488.5,429.6 L489.0,429.0 L489.5,428.4 L490.0,427.8 L490.5,427.1 L491.0,426.5 L491.5,425.9 L492.0,425.3 L492.5,424.7 L493.0,424.1 L493.5,423.5 L494.0,422.9 L494.6,422.4 L495.1,421.8 L495.6,421.2 L496.1,420.6 L496.7,420.1 L497.2,419.5 L497.8,419.0 L498.3,418.4 L498.9,417.9 L499.4,417.3 L500.0,416.8 L500.5,416.3 L501.1,415.8 L501.7,415.3 L502.2,414.8 L502.8,414.3 L503.4,413.8 L504.0,413.3 L504.5,412.8 L505.1,412.3 L505.7,411.9 L506.3,411.4 L506.9,411.0 L507.5,410.5 L508.1,410.1 L508.7,409.7 L509.3,409.3 L509.9,408.9 L510.6,408.5 L511.2,408.1 L511.8,407.7 L512.4,407.3 L513.1,407.0 L513.7,406.6 L514.4,406.3 L515.0,405.9 L515.6,405.6 L516.3,405.3 L517.0,405.0 L517.6,404.7 L518.3,404.4 L519.0,404.1 L519.6,403.9 L520.3,403.6 L521.0,403.4 L521.7,403.1 L522.3,402.9 L523.0,402.7 L523.7,402.5 L524.4,402.3 L525.1,402.1 L525.8,401.9 L526.5,401.8 L527.2,401.6 L527.9,401.5 L528.6,401.3 L529.3,401.2 L530.0,401.1 L530.7,401.0 L531.5,400.9 L532.2,400.8 L532.9,400.8 L533.6,400.7 L534.3,400.7 L535.0,400.6 L535.8,400.6 L536.5,400.6 L537.2,400.6 L537.9,400.6 L538.6,400.6 L539.4,400.6 L540.1,400.6 L540.8,400.7 L541.5,400.7 L542.2,400.8 L543.0,400.9 L543.7,401.0 L544.4,401.1 L545.1,401.2 L545.8,401.3 L546.6,401.4 L547.3,401.6 L548.0,401.7 L548.7,401.9 L549.4,402.0 L550.1,402.2 L550.8,402.4 L551.5,402.6 L552.2,402.9 L552.9,403.1 L553.6,403.3 L554.3,403.6 L555.0,403.8 L555.7,404.1 L556.4,404.4 L557.1,404.7 L557.8,405.0 L558.5,405.3 L559.2,405.6 L559.8,406.0 L560.5,406.3 L561.2,406.7 L561.9,407.0 L562.5,407.4 L563.2,407.8 L563.9,408.2 L564.5,408.6 L565.2,409.0 L565.8,409.4 L566.5,409.8 L567.1,410.3 L567.8,410.7 L568.4,411.1 L569.1,411.6 L569.7,412.0 L570.4,412.5 L571.0,413.0 L571.7,413.4 L572.3,413.9 L572.9,414.4 L573.6,414.9 L574.2,415.4 L574.9,415.9 L575.5,416.4 L576.1,416.9 L576.8,417.4 L577.4,417.9 L578.0,418.4 L578.7,418.9 L579.3,419.4 L579.9,419.9 L580.5,420.4 L581.2,420.9 L581.8,421.5 L582.4,422.0 L583.1,422.5 L583.7,423.0 L584.3,423.5 L584.9,424.0 L585.6,424.6 L586.2,425.1 L586.8,425.6 L587.4,426.1 L588.1,426.6 L588.7,427.1 L589.3,427.6 L590.0,428.1 L590.6,428.6 L591.2,429.1 L591.9,429.6 L592.5,430.1 L593.1,430.6 L593.8,431.1 L594.4,431.6 L595.0,432.0 L595.7,432.5 L596.3,432.9 L596.9,433.4 L597.6,433.9 L598.2,434.3 L598.9,434.7 L599.5,435.2 L600.2,435.6 L600.8,436.0 L601.5,436.4 L602.1,436.8 L602.8,437.2 L603.4,437.6 L604.1,437.9 L604.7,438.3 L605.4,438.7 L606.1,439.0 L606.7,439.3 L607.4,439.7 L608.1,440.0 L608.7,440.3 L609.4,440.6 L610.1,440.8 L610.8,441.1 L611.4,441.4 L612.1,441.6 L612.8,441.9 L613.5,442.1 L614.2,442.3 L614.9,442.5 L615.6,442.7 L616.3,442.8 L617.0,443.0 L617.7,443.1 L618.4,443.3 L619.1,443.4 L619.8,443.5 L620.5,443.6 L621.2,443.7 L621.9,443.8 L622.7,443.9 L623.4,443.9 L624.1,444.0 L624.8,444.0 L625.5,444.0 L626.2,444.0 L626.9,444.0 L627.7,444.0 L628.4,444.0 L629.1,443.9 L629.8,443.9 L630.5,443.8 L631.2,443.8 L631.9,443.7 L632.6,443.6 L633.4,443.5 L634.1,443.4 L634.8,443.3 L635.5,443.1 L636.2,443.0 L636.9,442.8 L637.6,442.7 L638.3,442.5 L639.0,442.3 L639.7,442.1 L640.4,441.9 L641.0,441.7 L641.7,441.5 L642.4,441.2 L643.1,441.0 L643.8,440.7 L644.4,440.5 L645.1,440.2 L645.8,439.9 L646.4,439.6 L647.1,439.3 L647.7,439.0 L648.4,438.7 L649.0,438.3 L649.7,438.0 L650.3,437.6 L651.0,437.3 L651.6,436.9 L652.2,436.5 L652.8,436.1 L653.4,435.7 L654.0,435.3 L654.6,434.9 L655.2,434.5 L655.8,434.0 L656.4,433.6 L657.0,433.2 L657.6,432.7 L658.1,432.2 L658.7,431.7 L659.3,431.3 L659.8,430.8 L660.3,430.3 L660.9,429.8 L661.4,429.2 L661.9,428.7 L662.4,428.2 L662.9,427.6 L663.4,427.1 L663.9,426.5 L664.4,425.9 L664.9,425.4 L665.3,424.8 L665.8,424.2 L666.3,423.6 L666.7,423.0 L667.1,422.4 L667.6,421.8 L668.0,421.1 L668.4,420.5 L668.8,419.9 L669.3,419.2 L669.7,418.6 L670.1,417.9 L670.4,417.2 L670.8,416.6 L671.2,415.9 L671.6,415.2 L671.9,414.5 L672.3,413.8 L672.7,413.1 L673.0,412.4 L673.4,411.7 L673.7,411.0 L674.0,410.3 L674.4,409.6 L674.7,408.9 L675.0,408.1 L675.3,407.4 L675.7,406.7 L676.0,405.9 L676.3,405.2 L676.6,404.4 L676.9,403.7 L677.2,402.9 L677.5,402.2 L677.8,401.4 L678.0,400.6 L678.3,399.9 L678.6,399.1 L678.9,398.3 L679.1,397.6 L679.4,396.8 L679.7,396.0 L679.9,395.2 L680.2,394.5 L680.5,393.7 L680.7,392.9 L681.0,392.1 L681.2,391.3 L681.5,390.6 L681.7,389.8 L682.0,389.0 L682.2,388.2 L682.4,387.4 L682.7,386.6 L682.9,385.8 L683.2,385.0 L683.4,384.2 L683.6,383.5 L683.9,382.7 L684.1,381.9 L684.3,381.1 L684.6,380.3 L684.8,379.5 L685.0,378.7 L685.3,378.0 L685.5,377.2 L685.7,376.4 L685.9,375.6 L686.2,374.8 L686.4,374.1 L686.6,373.3 L686.9,372.5 L687.1,371.8 L687.3,371.0 L687.6,370.2 L687.8,369.5 L688.0,368.7 L688.3,367.9 L688.5,367.2 L688.7,366.4 L689.0,365.7 L689.2,365.0 L689.5,364.2 L689.7,363.5 L689.9,362.8 L690.2,362.0 L690.4,361.3 L690.7,360.6 L690.9,359.9 L691.2,359.2 L691.5,358.5 L691.7,357.8 L692.0,357.1 L692.2,356.4 L692.5,355.7 L692.8,355.0 L693.1,354.4 L693.3,353.7 L693.6,353.0 L693.9,352.4 L694.2,351.7 L694.5,351.1 L694.8,350.4 L695.1,349.8 L695.4,349.2 L695.7,348.6 L696.0,348.0 L696.3,347.4 L696.6,346.8 L696.9,346.2 L697.3,345.6 L697.6,345.0 L697.9,344.5 L698.3,343.9 L698.6,343.4 L699.0,342.8 L699.3,342.3 L699.7,341.8" fill="none" stroke="#000" stroke-width="4.5"/>
<path d="M166.2,587.8 L167.5,587.8 L168.7,587.7 L170.0,587.6 L171.2,587.6 L172.5,587.5 L173.8,587.5 L175.0,587.4 L176.3,587.4 L177.6,587.4 L178.8,587.3 L180.1,587.3 L181.4,587.3 L182.7,587.2 L184.0,587.2 L185.3,587.2 L186.5,587.1 L187.8,587.1 L189.1,587.1 L190.4,587.1 L191.7,587.1 L193.0,587.1 L194.4,587.0 L195.7,587.0 L197.0,587.0 L198.3,587.0 L199.6,587.0 L200.9,587.0 L202.3,587.0 L203.6,587.0 L204.9,587.0 L206.2,587.0 L207.6,587.0 L208.9,587.0 L210.2,587.0 L211.6,587.0 L212.9,587.0 L214.3,587.0 L215.6,587.0 L217.0,587.0 L218.3,587.0 L219.6,587.0 L221.0,587.0 L222.4,587.0 L223.7,587.0 L225.1,587.0 L226.4,587.0 L227.8,587.0 L229.1,587.0 L230.5,587.0 L231.9,587.0 L233.2,587.0 L234.6,587.0 L235.9,587.0 L237.3,587.0 L238.7,587.0 L240.0,587.0 L241.4,587.0 L242.8,587.0 L244.1,587.0 L245.5,587.0 L246.9,587.0 L248.3,587.0 L249.6,587.0 L251.0,587.0 L252.4,587.0 L253.7,586.9 L255.1,586.9 L256.5,586.9 L257.9,586.9 L259.2,586.9 L260.6,586.8 L262.0,586.8 L263.4,586.8 L264.7,586.7 L266.1,586.7 L267.5,586.7 L268.9,586.6 L270.2,586.6 L271.6,586.5 L273.0,586.5 L274.4,586.4 L275.7,586.4 L277.1,586.3 L278.5,586.2 L279.8,586.2 L281.2,586.1 L282.6,586.0 L284.0,586.0 L285.3,585.9 L286.7,585.8 L288.1,585.7 L289.4,585.6 L290.8,585.5 L292.2,585.4 L293.5,585.3 L294.9,585.2 L296.2,585.1 L297.6,585.0 L299.0,584.9 L300.3,584.8 L301.7,584.6 L303.0,584.5 L304.4,584.4 L305.7,584.2 L307.1,584.1 L308.4,583.9 L309.8,583.8 L311.1,583.6 L312.4,583.4 L313.8,583.3 L315.1,583.1 L316.5,582.9 L317.8,582.7 L319.1,582.5 L320.5,582.3 L321.8,582.1 L323.1,581.9 L324.4,581.7 L325.8,581.5 L327.1,581.3 L328.4,581.0 L329.7,580.8 L331.0,580.5 L332.3,580.3 L333.6,580.0 L334.9,579.8 L336.2,579.5 L337.5,579.2 L338.8,578.9 L340.1,578.6 L341.4,578.3 L342.7,578.0 L344.0,577.7 L345.3,577.4 L346.6,577.1 L347.8,576.7 L349.1,576.4 L350.4,576.0 L351.6,575.7 L352.9,575.3 L354.2,575.0 L355.4,574.6 L356.7,574.2 L357.9,573.8 L359.2,573.4 L360.4,573.0 L361.6,572.6 L362.9,572.1 L364.1,571.7 L365.3,571.3 L366.6,570.8 L367.8,570.4 L369.0,569.9 L370.2,569.4 L371.4,568.9 L372.6,568.4 L373.8,567.9 L375.0,567.4 L376.2,566.9 L377.4,566.4 L378.6,565.8 L379.7,565.3 L380.9,564.7 L382.1,564.1 L383.2,563.6 L384.4,563.0 L385.5,562.4 L386.7,561.8 L387.8,561.2 L389.0,560.5 L390.1,559.9 L391.2,559.3 L392.4,558.6 L393.5,557.9 L394.6,557.3 L395.7,556.6 L396.8,555.9 L397.9,555.2 L399.0,554.5 L400.1,553.7 L401.2,553.0 L402.2,552.3 L403.3,551.5 L404.4,550.8 L405.5,550.0 L406.5,549.2 L407.6,548.4 L408.6,547.6 L409.7,546.8 L410.7,546.0 L411.7,545.2 L412.7,544.3 L413.8,543.5 L414.8,542.7 L415.8,541.8 L416.8,540.9 L417.8,540.1 L418.8,539.2 L419.8,538.3 L420.7,537.4 L421.7,536.5 L422.7,535.6 L423.6,534.6 L424.6,533.7 L425.6,532.8 L426.5,531.8 L427.4,530.8 L428.4,529.9 L429.3,528.9 L430.2,527.9 L431.1,526.9 L432.1,525.9 L433.0,524.9 L433.9,523.9 L434.7,522.9 L435.6,521.9 L436.5,520.8 L437.4,519.8 L438.3,518.8 L439.1,517.7 L440.0,516.6 L440.8,515.6 L441.7,514.5 L442.5,513.4 L443.3,512.3 L444.2,511.2 L445.0,510.1 L445.8,509.0 L446.6,507.9 L447.4,506.7 L448.2,505.6 L449.0,504.5 L449.7,503.3 L450.5,502.2 L451.3,501.0 L452.0,499.8 L452.8,498.7 L453.5,497.5 L454.3,496.3 L455.0,495.1 L455.7,493.9 L456.4,492.7 L457.2,491.5 L457.9,490.3 L458.6,489.1 L459.3,487.9 L460.0,486.7 L460.7,485.4 L461.4,484.2 L462.1,483.0 L462.8,481.8 L463.5,480.6 L464.2,479.3 L464.9,478.1 L465.5,476.9 L466.2,475.7 L466.9,474.5 L467.6,473.3 L468.3,472.0 L469.0,470.8 L469.7,469.6 L470.4,468.4 L471.1,467.3 L471.8,466.1 L472.5,464.9 L473.2,463.7 L473.9,462.5 L474.7,461.4 L475.4,460.2 L476.1,459.1 L476.8,457.9 L477.6,456.8 L478.3,455.7 L479.1,454.6 L479.9,453.5 L480.6,452.4 L481.4,451.3 L482.2,450.2 L483.0,449.2 L483.8,448.1 L484.6,447.1 L485.4,446.1 L486.3,445.1 L487.1,444.1 L488.0,443.1 L488.8,442.1 L489.7,441.2 L490.6,440.3 L491.5,439.3 L492.4,438.4 L493.3,437.6 L494.3,436.7 L495.2,435.9 L496.2,435.0 L497.2,434.2 L498.2,433.4 L499.2,432.7 L500.2,431.9 L501.3,431.2 L502.3,430.5 L503.4,429.8 L504.5,429.1 L505.6,428.5 L506.7,427.8 L507.9,427.3 L509.1,426.7 L510.2,426.1 L511.4,425.6 L512.7,425.1 L513.9,424.6 L515.1,424.2 L516.4,423.8 L517.6,423.4 L518.9,423.0 L520.2,422.7 L521.4,422.4 L522.7,422.1 L524.0,421.9 L525.3,421.6 L526.6,421.5 L527.9,421.3 L529.2,421.2 L530.5,421.1 L531.8,421.1 L533.0,421.1 L534.3,421.1 L535.6,421.2 L536.9,421.3 L538.1,421.4 L539.4,421.6 L540.6,421.8 L541.9,422.0 L543.1,422.3 L544.3,422.7 L545.5,423.1 L546.7,423.5 L547.8,423.9 L549.0,424.4 L550.1,424.9 L551.3,425.5 L552.4,426.1 L553.5,426.7 L554.6,427.3 L555.7,428.0 L556.8,428.7 L557.8,429.5 L558.9,430.2 L559.9,431.0 L561.0,431.8 L562.0,432.7 L563.0,433.5 L564.0,434.4 L565.0,435.3 L566.0,436.3 L567.0,437.2 L567.9,438.2 L568.9,439.2 L569.8,440.2 L570.8,441.2 L571.7,442.2 L572.6,443.3 L573.5,444.3 L574.4,445.4 L575.3,446.5 L576.2,447.6 L577.1,448.7 L578.0,449.8 L578.9,450.9 L579.7,452.0 L580.6,453.2 L581.4,454.3 L582.3,455.4 L583.1,456.6 L583.9,457.7 L584.8,458.8 L585.6,460.0 L586.4,461.1 L587.2,462.2 L588.0,463.4 L588.8,464.5 L589.6,465.6 L590.4,466.7 L591.1,467.8 L591.9,468.9 L592.7,470.1 L593.5,471.2 L594.2,472.3 L595.0,473.4 L595.7,474.5 L596.5,475.6 L597.3,476.6 L598.0,477.7 L598.7,478.8 L599.5,479.9 L600.2,481.0 L601.0,482.1 L601.7,483.2 L602.5,484.3 L603.2,485.4 L603.9,486.5 L604.7,487.7 L605.4,488.8 L606.1,489.9 L606.9,491.0 L607.6,492.1 L608.3,493.3 L609.1,494.4 L609.8,495.5 L610.5,496.7 L611.3,497.8 L612.0,499.0 L612.7,500.1 L613.5,501.3 L614.2,502.4 L615.0,503.6 L615.7,504.8 L616.5,505.9 L617.2,507.1 L618.0,508.2 L618.7,509.4 L619.5,510.5 L620.3,511.7 L621.0,512.8 L621.8,513.9 L622.6,515.1 L623.4,516.2 L624.2,517.3 L625.0,518.4 L625.8,519.6 L626.6,520.7 L627.5,521.7 L628.3,522.8 L629.1,523.9 L630.0,525.0 L630.8,526.0 L631.7,527.1 L632.6,528.1 L633.5,529.1 L634.4,530.1 L635.3,531.1 L636.2,532.1 L637.1,533.1 L638.0,534.0 L639.0,534.9 L639.9,535.9 L640.9,536.8 L641.8,537.7 L642.8,538.5 L643.8,539.4 L644.8,540.2 L645.8,541.1 L646.9,541.9 L647.9,542.7 L648.9,543.5 L650.0,544.3 L651.0,545.0 L652.1,545.8 L653.2,546.5 L654.3,547.2 L655.3,548.0 L656.4,548.7 L657.6,549.3 L658.7,550.0 L659.8,550.7 L660.9,551.3 L662.1,552.0 L663.2,552.6 L664.4,553.2 L665.5,553.8 L666.7,554.4 L667.9,555.0 L669.0,555.5 L670.2,556.1 L671.4,556.6 L672.6,557.2 L673.8,557.7 L675.0,558.2 L676.2,558.7 L677.5,559.2 L678.7,559.7 L679.9,560.1 L681.1,560.6 L682.4,561.0 L683.6,561.5 L684.9,561.9 L686.1,562.3 L687.4,562.7 L688.7,563.1 L689.9,563.5 L691.2,563.9 L692.5,564.3 L693.8,564.7 L695.0,565.0 L696.3,565.4 L697.6,565.7 L698.9,566.0 L700.2,566.4 L701.5,566.7 L702.8,567.0 L704.1,567.3 L705.4,567.6 L706.7,567.9 L708.0,568.2 L709.3,568.4 L710.7,568.7 L712.0,568.9 L713.3,569.2 L714.6,569.4 L715.9,569.7 L717.3,569.9 L718.6,570.1 L719.9,570.4 L721.2,570.6 L722.6,570.8 L723.9,571.0 L725.2,571.2 L726.5,571.4 L727.9,571.6 L729.2,571.7 L730.5,571.9 L731.8,572.1 L733.2,572.3 L734.5,572.4 L735.8,572.6 L737.2,572.7 L738.5,572.9 L739.8,573.0 L741.1,573.1 L742.5,573.3 L743.8,573.4 L745.1,573.5 L746.5,573.6 L747.8,573.7 L749.1,573.9 L750.5,574.0 L751.8,574.1 L753.1,574.1 L754.5,574.2 L755.8,574.3 L757.1,574.4 L758.5,574.5 L759.8,574.5 L761.1,574.6 L762.5,574.7 L763.8,574.7 L765.1,574.8 L766.5,574.8 L767.8,574.9 L769.2,574.9 L770.5,575.0 L771.8,575.0 L773.2,575.0 L774.5,575.1 L775.8,575.1 L777.2,575.1 L778.5,575.1 L779.9,575.2 L781.2,575.2 L782.5,575.2 L783.9,575.2 L785.2,575.2 L786.6,575.2 L787.9,575.2 L789.2,575.2 L790.6,575.2 L791.9,575.1 L793.3,575.1 L794.6,575.1 L796.0,575.1 L797.3,575.1 L798.6,575.0 L800.0,575.0 L801.3,575.0 L802.7,574.9 L804.0,574.9 L805.4,574.9 L806.7,574.8 L808.0,574.8 L809.4,574.7 L810.7,574.7 L812.1,574.6 L813.4,574.6 L814.8,574.5 L816.1,574.5 L817.4,574.4 L818.8,574.3 L820.1,574.3 L821.5,574.2 L822.8,574.1 L824.2,574.1 L825.5,574.0 L826.9,573.9 L828.2,573.9 L829.5,573.8 L830.9,573.7 L832.2,573.6 L833.6,573.6 L834.9,573.5 L836.3,573.4 L837.6,573.3 L839.0,573.2 L840.3,573.1 L841.7,573.1 L843.0,573.0 L844.3,572.9 L845.7,572.8 L847.0,572.7 L848.4,572.6 L849.7,572.5 L851.1,572.4 L852.4,572.4 L853.8,572.3 L855.1,572.2 L856.5,572.1 L857.8,572.0 L859.2,571.9 L860.5,571.8 L861.8,571.7 L863.2,571.6 L864.5,571.5 L865.9,571.4 L867.2,571.3 L868.6,571.2 L869.9,571.1 L871.3,571.0 L872.6,570.9 L874.0,570.9 L875.3,570.8 L876.7,570.7 L878.0,570.6 L879.3,570.5 L880.7,570.4 L882.0,570.3 L883.4,570.2 L884.7,570.1 L886.1,570.0 L887.4,569.9 L888.8,569.9 L890.1,569.8 L891.5,569.7 L892.8,569.6 L894.1,569.5 L895.5,569.4 L896.8,569.4 L898.2,569.3 L899.5,569.2 L900.9,569.1 L902.2,569.0 L903.6,569.0 L904.9,568.9 L906.2,568.8 L907.6,568.8 L908.9,568.7 L910.3,568.6 L911.6,568.6 L913.0,568.5 L914.3,568.4 L915.6,568.4 L917.0,568.3 L918.3,568.2 L919.7,568.2 L921.0,568.1 L922.4,568.1 L923.7,568.0 L925.0,567.9 L926.4,567.9 L927.7,567.8 L929.1,567.8 L930.4,567.7 L931.7,567.7 L933.1,567.6 L934.4,567.6 L935.8,567.5 L937.1,567.5 L938.5,567.5 L939.8,567.4 L941.1,567.4 L942.5,567.3 L943.8,567.3 L945.2,567.2 L946.5,567.2 L947.8,567.2 L949.2,567.1 L950.5,567.1 L951.9,567.1 L953.2,567.0 L954.5,567.0 L955.9,567.0 L957.2,566.9 L958.6,566.9 L959.9,566.9 L961.2,566.8 L962.6,566.8 L963.9,566.8 L965.3,566.8 L966.6,566.7 L967.9,566.7 L969.3,566.7 L970.6,566.7 L972.0,566.6 L973.3,566.6 L974.6,566.6 L976.0,566.6 L977.3,566.5 L978.6,566.5 L980.0,566.5 L981.3,566.5 L982.7,566.5 L984.0,566.4 L985.3,566.4 L986.7,566.4 L988.0,566.4 L989.4,566.4 L990.7,566.4 L992.0,566.4 L993.4,566.3 L994.7,566.3 L996.0,566.3 L997.4,566.3 L998.7,566.3 L1000.1,566.3 L1001.4,566.3 L1002.7,566.3 L1004.1,566.2 L1005.4,566.2 L1006.7,566.2 L1008.1,566.2 L1009.4,566.2 L1010.8,566.2 L1012.1,566.2 L1013.4,566.2 L1014.8,566.2 L1016.1,566.2 L1017.4,566.2 L1018.8,566.2 L1020.1,566.2 L1021.5,566.1 L1022.8,566.1 L1024.1,566.1 L1025.5,566.1 L1026.8,566.1 L1028.1,566.1 L1029.5,566.1 L1030.8,566.1 L1032.2,566.1 L1033.5,566.1 L1034.8,566.1 L1036.2,566.1 L1037.5,566.1 L1038.8,566.1 L1040.2,566.1 L1041.5,566.1 L1042.8,566.1 L1044.2,566.1 L1045.5,566.1 L1046.9,566.1 L1048.2,566.1 L1049.5,566.1 L1050.9,566.1 L1052.2,566.1 L1053.5,566.1 L1054.9,566.1 L1056.2,566.1 L1057.5,566.1 L1058.9,566.1 L1060.2,566.1 L1061.6,566.1 L1062.9,566.0 L1064.2,566.0 L1065.6,566.0 L1066.9,566.0 L1068.2,566.0 L1069.6,566.0 L1070.9,566.0 L1072.3,566.0 L1073.6,566.0 L1074.9,566.0 L1076.3,566.0 L1077.6,566.0 L1078.9,566.0 L1080.3,566.0 L1081.6,566.0 L1082.9,566.0 L1084.3,566.0 L1085.6,566.0 L1087.0,566.0 L1088.3,566.0 L1089.6,566.0 L1091.0,565.9 L1092.3,565.9 L1093.6,565.9 L1095.0,565.9 L1096.3,565.9 L1097.6,565.9 L1099.0,565.9 L1100.3,565.9 L1101.7,565.9 L1103.0,565.9 L1104.3,565.8 L1105.7,565.8 L1107.0,565.8 L1108.3,565.8 L1109.7,565.8 L1111.0,565.8 L1112.4,565.8 L1113.7,565.8 L1115.0,565.7 L1116.4,565.7 L1117.7,565.7 L1119.0,565.7 L1120.4,565.7 L1121.7,565.6 L1123.1,565.6 L1124.4,565.6 L1125.7,565.6 L1127.1,565.6 L1128.4,565.5 L1129.7,565.5 L1131.1,565.5 L1132.4,565.5 L1133.8,565.5 L1135.1,565.4 L1136.4,565.4 L1137.8,565.4 L1139.1,565.3 L1140.4,565.3 L1141.8,565.3 L1143.1,565.3 L1144.5,565.2 L1145.8,565.2 L1147.1,565.2 L1148.5,565.1 L1149.8,565.1 L1151.2,565.1 L1152.5,565.0 L1153.8,565.0 L1155.2,564.9 L1156.5,564.9 L1157.8,564.9 L1159.2,564.8 L1160.5,564.8 L1161.9,564.7 L1163.2,564.7 L1164.5,564.7 L1165.9,564.6 L1167.2,564.6 L1168.6,564.5 L1169.9,564.5 L1171.2,564.4 L1172.6,564.4 L1173.9,564.3 L1175.3,564.3 L1176.6,564.2 L1177.9,564.2 L1179.3,564.1 L1180.6,564.0 L1182.0,564.0 L1183.3,563.9 L1184.6,563.9 L1186.0,563.8 L1187.3,563.7 L1188.7,563.7 L1190.0,563.6 L1191.3,563.5 L1192.7,563.5 L1194.0,563.4 L1195.4,563.3 L1196.7,563.3 L1198.1,563.2 L1199.4,563.1 L1200.7,563.0 L1202.1,563.0 L1203.4,562.9 L1204.8,562.8 L1206.1,562.7 L1207.4,562.6 L1208.8,562.6 L1210.1,562.5 L1211.5,562.4 L1212.8,562.3 L1214.2,562.2 L1215.5,562.1 L1216.8,562.0 L1218.2,561.9 L1219.5,561.8 L1220.9,561.7 L1222.2,561.6 L1223.6,561.5 L1224.9,561.4 L1226.2,561.3 L1227.6,561.2 L1228.9,561.1 L1230.3,561.0 L1231.6,560.9 L1233.0,560.8 L1234.3,560.7 L1235.7,560.6 L1237.0,560.5 L1238.3,560.3" fill="none" stroke="#ff7f00" stroke-width="5.4"/>
<path d="M165.8,583.3 L167.5,583.1 L169.2,583.0 L170.8,582.8 L172.5,582.7 L174.2,582.5 L175.8,582.4 L177.5,582.3 L179.1,582.1 L180.8,582.0 L182.5,581.9 L184.1,581.7 L185.8,581.6 L187.4,581.5 L189.1,581.4 L190.7,581.3 L192.4,581.1 L194.0,581.0 L195.7,580.9 L197.4,580.8 L199.0,580.7 L200.7,580.6 L202.3,580.5 L204.0,580.4 L205.6,580.3 L207.3,580.2 L208.9,580.1 L210.6,580.0 L212.2,579.9 L213.9,579.9 L215.5,579.8 L217.2,579.7 L218.8,579.6 L220.5,579.5 L222.1,579.4 L223.8,579.4 L225.4,579.3 L227.1,579.2 L228.7,579.2 L230.4,579.1 L232.0,579.0 L233.7,579.0 L235.3,578.9 L236.9,578.8 L238.6,578.8 L240.2,578.7 L241.9,578.6 L243.5,578.6 L245.2,578.5 L246.8,578.5 L248.5,578.4 L250.1,578.4 L251.7,578.3 L253.4,578.3 L255.0,578.2 L256.7,578.2 L258.3,578.1 L259.9,578.1 L261.6,578.0 L263.2,578.0 L264.9,577.9 L266.5,577.9 L268.1,577.9 L269.8,577.8 L271.4,577.8 L273.1,577.7 L274.7,577.7 L276.3,577.7 L278.0,577.6 L279.6,577.6 L281.3,577.6 L282.9,577.5 L284.5,577.5 L286.2,577.4 L287.8,577.4 L289.4,577.4 L291.1,577.3 L292.7,577.3 L294.3,577.3 L296.0,577.2 L297.6,577.2 L299.3,577.2 L300.9,577.1 L302.5,577.1 L304.2,577.1 L305.8,577.0 L307.4,577.0 L309.1,577.0 L310.7,577.0 L312.3,576.9 L314.0,576.9 L315.6,576.9 L317.2,576.8 L318.9,576.8 L320.5,576.8 L322.1,576.7 L323.8,576.7 L325.4,576.7 L327.0,576.6 L328.7,576.6 L330.3,576.5 L331.9,576.5 L333.6,576.5 L335.2,576.4 L336.8,576.4 L338.5,576.4 L340.1,576.3 L341.7,576.3 L343.4,576.2 L345.0,576.2 L346.6,576.2 L348.3,576.1 L349.9,576.1 L351.5,576.0 L353.2,576.0 L354.8,575.9 L356.4,575.9 L358.1,575.8 L359.7,575.8 L361.3,575.7 L363.0,575.7 L364.6,575.6 L366.2,575.6 L367.8,575.5 L369.5,575.4 L371.1,575.4 L372.7,575.3 L374.4,575.3 L376.0,575.2 L377.6,575.1 L379.3,575.1 L380.9,575.0 L382.5,574.9 L384.2,574.9 L385.8,574.8 L387.4,574.7 L389.1,574.6 L390.7,574.6 L392.3,574.5 L394.0,574.4 L395.6,574.3 L397.2,574.2 L398.9,574.1 L400.5,574.0 L402.1,574.0 L403.8,573.9 L405.4,573.8 L407.0,573.7 L408.7,573.6 L410.3,573.5 L411.9,573.4 L413.6,573.3 L415.2,573.1 L416.8,573.0 L418.5,572.9 L420.1,572.8 L421.7,572.7 L423.4,572.6 L425.0,572.4 L426.7,572.3 L428.3,572.2 L429.9,572.1 L431.6,571.9 L433.2,571.8 L434.8,571.6 L436.5,571.5 L438.1,571.4 L439.7,571.2 L441.4,571.1 L443.0,570.9 L444.7,570.8 L446.3,570.6 L447.9,570.4 L449.6,570.3 L451.2,570.1 L452.8,569.9 L454.5,569.8 L456.1,569.6 L457.8,569.4 L459.4,569.2 L461.0,569.0 L462.7,568.8 L464.3,568.6 L466.0,568.4 L467.6,568.2 L469.2,568.0 L470.9,567.8 L472.5,567.6 L474.2,567.4 L475.8,567.2 L477.5,567.0 L479.1,566.7 L480.7,566.5 L482.4,566.3 L484.0,566.0 L485.7,565.8 L487.3,565.6 L489.0,565.3 L490.6,565.1 L492.3,564.8 L493.9,564.6 L495.6,564.3 L497.2,564.0 L498.8,563.8 L500.5,563.5 L502.1,563.2 L503.8,562.9 L505.4,562.6 L507.1,562.3 L508.7,562.0 L510.4,561.7 L512.0,561.4 L513.6,561.1 L515.3,560.8 L516.9,560.4 L518.6,560.1 L520.2,559.8 L521.8,559.4 L523.4,559.0 L525.1,558.7 L526.7,558.3 L528.3,557.9 L529.9,557.6 L531.6,557.2 L533.2,556.8 L534.8,556.4 L536.4,555.9 L538.0,555.5 L539.6,555.1 L541.2,554.6 L542.8,554.2 L544.4,553.7 L545.9,553.3 L547.5,552.8 L549.1,552.3 L550.7,551.8 L552.2,551.3 L553.8,550.8 L555.3,550.3 L556.9,549.7 L558.4,549.2 L560.0,548.6 L561.5,548.1 L563.0,547.5 L564.5,546.9 L566.0,546.3 L567.6,545.7 L569.1,545.1 L570.5,544.4 L572.0,543.8 L573.5,543.1 L575.0,542.5 L576.4,541.8 L577.9,541.1 L579.4,540.4 L580.8,539.7 L582.2,538.9 L583.7,538.2 L585.1,537.4 L586.5,536.7 L587.9,535.9 L589.3,535.1 L590.7,534.3 L592.0,533.4 L593.4,532.6 L594.8,531.7 L596.1,530.9 L597.4,530.0 L598.8,529.1 L600.1,528.2 L601.4,527.2 L602.7,526.3 L604.0,525.3 L605.2,524.4 L606.5,523.4 L607.8,522.4 L609.0,521.4 L610.2,520.3 L611.5,519.3 L612.7,518.2 L613.9,517.1 L615.1,516.1 L616.3,515.0 L617.5,513.8 L618.6,512.7 L619.8,511.6 L620.9,510.4 L622.1,509.3 L623.2,508.1 L624.3,506.9 L625.4,505.7 L626.5,504.5 L627.6,503.3 L628.7,502.0 L629.8,500.8 L630.8,499.6 L631.9,498.3 L632.9,497.0 L634.0,495.7 L635.0,494.4 L636.0,493.1 L637.0,491.8 L638.0,490.5 L639.0,489.2 L640.0,487.8 L641.0,486.5 L641.9,485.1 L642.9,483.8 L643.8,482.4 L644.8,481.0 L645.7,479.6 L646.6,478.2 L647.5,476.8 L648.4,475.4 L649.3,474.0 L650.2,472.6 L651.1,471.1 L651.9,469.7 L652.8,468.3 L653.6,466.8 L654.5,465.3 L655.3,463.9 L656.1,462.4 L657.0,460.9 L657.8,459.5 L658.6,458.0 L659.4,456.5 L660.1,455.0 L660.9,453.5 L661.7,452.0 L662.4,450.5 L663.2,449.0 L663.9,447.5 L664.7,446.0 L665.4,444.5 L666.1,443.0 L666.8,441.4 L667.5,439.9 L668.2,438.4 L668.9,436.9 L669.6,435.3 L670.2,433.8 L670.9,432.3 L671.6,430.7 L672.2,429.2 L672.8,427.6 L673.5,426.1 L674.1,424.6 L674.7,423.0 L675.3,421.5 L675.9,420.0 L676.5,418.4 L677.1,416.9 L677.7,415.3 L678.3,413.8 L678.8,412.2 L679.4,410.7 L680.0,409.2 L680.5,407.6 L681.1,406.1 L681.6,404.5 L682.1,403.0 L682.7,401.4 L683.2,399.9 L683.7,398.4 L684.2,396.8 L684.7,395.3 L685.3,393.7 L685.8,392.2 L686.3,390.6 L686.8,389.1 L687.3,387.5 L687.8,386.0 L688.2,384.4 L688.7,382.9 L689.2,381.3 L689.7,379.8 L690.2,378.3 L690.7,376.7 L691.1,375.2 L691.6,373.6 L692.1,372.1 L692.6,370.5 L693.0,369.0 L693.5,367.4 L694.0,365.9 L694.5,364.3 L694.9,362.8 L695.4,361.3 L695.9,359.7 L696.3,358.2 L696.8,356.6 L697.3,355.1 L697.7,353.5 L698.2,352.0 L698.7,350.5 L699.2,348.9 L699.6,347.4 L700.1,345.8 L700.6,344.3 L701.1,342.8 L701.6,341.2 L702.1,339.7 L702.6,338.1 L703.0,336.6 L703.5,335.1 L704.0,333.5 L704.5,332.0 L705.1,330.5 L705.6,328.9 L706.1,327.4 L706.6,325.9 L707.1,324.3 L707.6,322.8 L708.2,321.3 L708.7,319.7 L709.3,318.2 L709.8,316.7 L710.4,315.2 L710.9,313.6 L711.5,312.1 L712.0,310.6 L712.6,309.0 L713.2,307.5 L713.8,306.0 L714.4,304.5 L715.0,303.0 L715.6,301.4 L716.2,299.9 L716.8,298.4 L717.4,296.9 L718.0,295.4 L718.6,293.8 L719.3,292.3 L719.9,290.8 L720.6,289.3 L721.2,287.8 L721.9,286.3 L722.5,284.8 L723.2,283.2 L723.9,281.7 L724.6,280.2 L725.2,278.7 L725.9,277.2 L726.6,275.7 L727.3,274.2 L728.0,272.7 L728.7,271.2 L729.5,269.7 L730.2,268.1 L730.9,266.6 L731.7,265.1 L732.4,263.6 L733.1,262.1 L733.9,260.6 L734.7,259.1 L735.4,257.6 L736.2,256.1 L737.0,254.6 L737.8,253.1 L738.5,251.6 L739.3,250.1 L740.1,248.6 L740.9,247.1 L741.8,245.6 L742.6,244.1 L743.4,242.6 L744.2,241.1 L745.1,239.6 L745.9,238.1 L746.8,236.6 L747.6,235.1 L748.5,233.6 L749.4,232.1 L750.2,230.6 L751.1,229.1 L752.0,227.6 L752.9,226.1 L753.8,224.7 L754.7,223.3 L755.7,221.9 L756.6,220.5 L757.6,219.2 L758.6,217.9 L759.6,216.6 L760.6,215.4 L761.7,214.3 L762.7,213.2 L763.8,212.1 L764.9,211.2 L766.1,210.2 L767.2,209.4 L768.4,208.6 L769.6,207.9 L770.9,207.3 L772.1,206.8 L773.4,206.4 L774.8,206.0 L776.1,205.8 L777.5,205.7 L779.0,205.6 L780.4,205.7 L781.9,205.8 L783.4,206.1 L784.9,206.4 L786.4,206.8 L787.9,207.2 L789.4,207.8 L790.8,208.4 L792.3,209.1 L793.7,209.8 L795.2,210.6 L796.5,211.4 L797.9,212.3 L799.2,213.3 L800.4,214.2 L801.7,215.3 L802.9,216.3 L804.0,217.4 L805.1,218.6 L806.2,219.8 L807.3,221.0 L808.3,222.3 L809.3,223.5 L810.3,224.9 L811.2,226.2 L812.1,227.6 L813.0,229.0 L813.9,230.4 L814.8,231.9 L815.6,233.4 L816.4,234.9 L817.2,236.4 L817.9,237.9 L818.7,239.5 L819.4,241.0 L820.1,242.6 L820.8,244.2 L821.5,245.8 L822.2,247.4 L822.9,249.0 L823.5,250.6 L824.2,252.3 L824.8,253.9 L825.5,255.5 L826.1,257.1 L826.7,258.8 L827.4,260.4 L828.0,262.0 L828.6,263.6 L829.2,265.2 L829.9,266.8 L830.5,268.4 L831.1,270.0 L831.7,271.6 L832.4,273.1 L833.0,274.7 L833.6,276.3 L834.2,277.8 L834.9,279.4 L835.5,280.9 L836.1,282.5 L836.7,284.0 L837.3,285.5 L838.0,287.1 L838.6,288.6 L839.2,290.1 L839.8,291.6 L840.5,293.1 L841.1,294.6 L841.7,296.1 L842.3,297.6 L842.9,299.1 L843.5,300.6 L844.1,302.1 L844.8,303.6 L845.4,305.1 L846.0,306.6 L846.6,308.1 L847.2,309.6 L847.8,311.1 L848.4,312.6 L849.0,314.0 L849.6,315.5 L850.2,317.0 L850.8,318.5 L851.4,320.0 L852.0,321.5 L852.6,323.0 L853.2,324.4 L853.8,325.9 L854.3,327.4 L854.9,328.9 L855.5,330.4 L856.1,331.9 L856.7,333.4 L857.2,334.9 L857.8,336.4 L858.4,337.9 L858.9,339.4 L859.5,340.9 L860.1,342.4 L860.6,344.0 L861.2,345.5 L861.7,347.0 L862.3,348.5 L862.8,350.1 L863.4,351.6 L863.9,353.1 L864.5,354.6 L865.0,356.2 L865.6,357.7 L866.1,359.3 L866.7,360.8 L867.2,362.3 L867.8,363.9 L868.3,365.4 L868.9,367.0 L869.4,368.5 L870.0,370.1 L870.5,371.6 L871.1,373.2 L871.6,374.7 L872.2,376.2 L872.7,377.8 L873.3,379.3 L873.8,380.9 L874.4,382.4 L875.0,384.0 L875.5,385.5 L876.1,387.1 L876.7,388.6 L877.2,390.2 L877.8,391.7 L878.4,393.3 L878.9,394.8 L879.5,396.4 L880.1,397.9 L880.7,399.5 L881.3,401.0 L881.9,402.6 L882.5,404.1 L883.1,405.6 L883.7,407.2 L884.3,408.7 L884.9,410.3 L885.5,411.8 L886.2,413.3 L886.8,414.8 L887.4,416.4 L888.1,417.9 L888.7,419.4 L889.3,420.9 L890.0,422.5 L890.7,424.0 L891.3,425.5 L892.0,427.0 L892.7,428.5 L893.4,430.0 L894.1,431.5 L894.8,433.0 L895.5,434.5 L896.2,436.0 L896.9,437.5 L897.6,439.0 L898.4,440.4 L899.1,441.9 L899.8,443.4 L900.6,444.9 L901.4,446.3 L902.1,447.8 L902.9,449.2 L903.7,450.7 L904.5,452.1 L905.3,453.6 L906.1,455.0 L907.0,456.4 L907.8,457.9 L908.6,459.3 L909.5,460.7 L910.4,462.1 L911.2,463.5 L912.1,464.9 L913.0,466.3 L913.9,467.7 L914.8,469.1 L915.7,470.5 L916.7,471.8 L917.6,473.2 L918.6,474.6 L919.5,475.9 L920.5,477.3 L921.5,478.6 L922.5,479.9 L923.5,481.3 L924.5,482.6 L925.5,483.9 L926.6,485.2 L927.6,486.5 L928.7,487.8 L929.7,489.0 L930.8,490.3 L931.9,491.5 L933.0,492.8 L934.1,494.0 L935.2,495.2 L936.3,496.5 L937.5,497.7 L938.6,498.9 L939.8,500.0 L940.9,501.2 L942.1,502.4 L943.3,503.5 L944.5,504.7 L945.7,505.8 L946.9,506.9 L948.1,508.0 L949.3,509.1 L950.6,510.2 L951.8,511.2 L953.1,512.3 L954.4,513.3 L955.6,514.4 L956.9,515.4 L958.2,516.4 L959.5,517.4 L960.8,518.3 L962.2,519.3 L963.5,520.2 L964.8,521.1 L966.2,522.1 L967.5,523.0 L968.9,523.8 L970.3,524.7 L971.7,525.5 L973.1,526.4 L974.5,527.2 L975.9,528.0 L977.3,528.8 L978.8,529.5 L980.2,530.3 L981.7,531.0 L983.1,531.7 L984.6,532.4 L986.0,533.1 L987.5,533.8 L989.0,534.4 L990.5,535.1 L992.0,535.7 L993.5,536.3 L995.0,536.9 L996.6,537.5 L998.1,538.1 L999.6,538.6 L1001.2,539.1 L1002.7,539.7 L1004.3,540.2 L1005.8,540.7 L1007.4,541.2 L1009.0,541.6 L1010.6,542.1 L1012.1,542.6 L1013.7,543.0 L1015.3,543.4 L1016.9,543.8 L1018.5,544.2 L1020.1,544.6 L1021.7,545.0 L1023.3,545.4 L1024.9,545.7 L1026.6,546.1 L1028.2,546.4 L1029.8,546.8 L1031.4,547.1 L1033.0,547.4 L1034.7,547.7 L1036.3,548.0 L1037.9,548.3 L1039.6,548.6 L1041.2,548.8 L1042.9,549.1 L1044.5,549.3 L1046.1,549.6 L1047.8,549.8 L1049.4,550.0 L1051.1,550.3 L1052.7,550.5 L1054.3,550.7 L1056.0,550.9 L1057.6,551.1 L1059.3,551.3 L1060.9,551.5 L1062.5,551.6 L1064.2,551.8 L1065.8,552.0 L1067.5,552.1 L1069.1,552.3 L1070.7,552.4 L1072.4,552.6 L1074.0,552.7 L1075.7,552.9 L1077.3,553.0 L1079.0,553.1 L1080.6,553.2 L1082.2,553.3 L1083.9,553.4 L1085.5,553.6 L1087.2,553.7 L1088.8,553.7 L1090.4,553.8 L1092.1,553.9 L1093.7,554.0 L1095.4,554.1 L1097.0,554.2 L1098.6,554.2 L1100.3,554.3 L1101.9,554.3 L1103.6,554.4 L1105.2,554.5 L1106.8,554.5 L1108.5,554.6 L1110.1,554.6 L1111.8,554.6 L1113.4,554.7 L1115.0,554.7 L1116.7,554.7 L1118.3,554.8 L1120.0,554.8 L1121.6,554.8 L1123.2,554.8 L1124.9,554.9 L1126.5,554.9 L1128.2,554.9 L1129.8,554.9 L1131.4,554.9 L1133.1,554.9 L1134.7,554.9 L1136.4,554.9 L1138.0,554.9 L1139.6,554.9 L1141.3,554.9 L1142.9,554.9 L1144.6,554.9 L1146.2,554.9 L1147.9,554.9 L1149.5,554.9 L1151.1,554.9 L1152.8,554.9 L1154.4,554.9 L1156.1,554.9 L1157.7,554.9 L1159.3,554.8 L1161.0,554.8 L1162.6,554.8 L1164.3,554.8 L1165.9,554.8 L1167.6,554.8 L1169.2,554.8 L1170.8,554.8 L1172.5,554.7 L1174.1,554.7 L1175.8,554.7 L1177.4,554.7 L1179.1,554.7 L1180.7,554.7 L1182.3,554.7 L1184.0,554.7 L1185.6,554.7 L1187.3,554.7 L1188.9,554.7 L1190.6,554.7 L1192.2,554.6 L1193.8,554.6 L1195.5,554.6 L1197.1,554.7 L1198.8,554.7 L1200.4,554.7 L1202.1,554.7 L1203.7,554.7 L1205.4,554.7 L1207.0,554.7 L1208.6,554.7 L1210.3,554.7 L1211.9,554.8 L1213.6,554.8 L1215.2,554.8 L1216.9,554.8 L1218.5,554.9 L1220.2,554.9 L1221.8,554.9 L1223.5,555.0 L1225.1,555.0 L1226.8,555.1 L1228.4,555.1 L1230.1,555.2 L1231.7,555.2 L1233.4,555.3 L1235.0,555.4 L1236.7,555.4 L1238.3,555.5" fill="none" stroke="#8000ff" stroke-width="5.4"/>
<path d="M287.6,1220.6 L288.2,1220.6 L288.9,1220.6 L289.5,1220.6 L290.2,1220.7 L290.8,1220.7 L291.4,1220.7 L292.1,1220.7 L292.7,1220.7 L293.4,1220.8 L294.0,1220.8 L294.6,1220.8 L295.3,1220.8 L295.9,1220.8 L296.6,1220.8 L297.2,1220.8 L297.8,1220.8 L298.5,1220.8 L299.1,1220.9 L299.8,1220.9 L300.4,1220.9 L301.0,1220.9 L301.7,1220.9 L302.3,1220.9 L303.0,1220.9 L303.6,1220.9 L304.2,1220.9 L304.9,1220.9 L305.5,1220.9 L306.2,1220.9 L306.8,1220.9 L307.4,1220.9 L308.1,1220.9 L308.7,1220.9 L309.4,1220.9 L310.0,1220.9 L310.6,1220.9 L311.3,1220.8 L311.9,1220.8 L312.5,1220.8 L313.2,1220.8 L313.8,1220.8 L314.4,1220.8 L315.1,1220.8 L315.7,1220.8 L316.4,1220.7 L317.0,1220.7 L317.6,1220.7 L318.3,1220.7 L318.9,1220.7 L319.5,1220.7 L320.2,1220.6 L320.8,1220.6 L321.4,1220.6 L322.1,1220.6 L322.7,1220.5 L323.3,1220.5 L324.0,1220.5 L324.6,1220.5 L325.3,1220.4 L325.9,1220.4 L326.5,1220.4 L327.2,1220.3 L327.8,1220.3 L328.4,1220.3 L329.1,1220.2 L329.7,1220.2 L330.3,1220.2 L330.9,1220.1 L331.6,1220.1 L332.2,1220.1 L332.8,1220.0 L333.5,1220.0 L334.1,1220.0 L334.7,1219.9 L335.4,1219.9 L336.0,1219.8 L336.6,1219.8 L337.3,1219.7 L337.9,1219.7 L338.5,1219.6 L339.2,1219.6 L339.8,1219.5 L340.4,1219.5 L341.0,1219.4 L341.7,1219.4 L342.3,1219.3 L342.9,1219.3 L343.6,1219.2 L344.2,1219.2 L344.8,1219.1 L345.4,1219.1 L346.1,1219.0 L346.7,1219.0 L347.3,1218.9 L347.9,1218.8 L348.6,1218.8 L349.2,1218.7 L349.8,1218.6 L350.5,1218.6 L351.1,1218.5 L351.7,1218.4 L352.3,1218.4 L353.0,1218.3 L353.6,1218.2 L354.2,1218.2 L354.8,1218.1 L355.5,1218.0 L356.1,1218.0 L356.7,1217.9 L357.3,1217.8 L357.9,1217.7 L358.6,1217.7 L359.2,1217.6 L359.8,1217.5 L360.4,1217.4 L361.1,1217.3 L361.7,1217.3 L362.3,1217.2 L362.9,1217.1 L363.5,1217.0 L364.2,1216.9 L364.8,1216.8 L365.4,1216.8 L366.0,1216.7 L366.7,1216.6 L367.3,1216.5 L367.9,1216.4 L368.5,1216.3 L369.1,1216.2 L369.7,1216.1 L370.4,1216.0 L371.0,1215.9 L371.6,1215.8 L372.2,1215.7 L372.8,1215.7 L373.5,1215.6 L374.1,1215.5 L374.7,1215.4 L375.3,1215.2 L375.9,1215.1 L376.5,1215.0 L377.1,1214.9 L377.8,1214.8 L378.4,1214.7 L379.0,1214.6 L379.6,1214.5 L380.2,1214.4 L380.8,1214.3 L381.4,1214.2 L382.1,1214.1 L382.7,1214.0 L383.3,1213.8 L383.9,1213.7 L384.5,1213.6 L385.1,1213.5 L385.7,1213.4 L386.3,1213.3 L387.0,1213.1 L387.6,1213.0 L388.2,1212.9 L388.8,1212.8 L389.4,1212.7 L390.0,1212.5 L390.6,1212.4 L391.2,1212.3 L391.8,1212.1 L392.4,1212.0 L393.1,1211.9 L393.7,1211.8 L394.3,1211.6 L394.9,1211.5 L395.5,1211.4 L396.1,1211.2 L396.7,1211.1 L397.3,1211.0 L397.9,1210.8 L398.5,1210.7 L399.1,1210.5 L399.7,1210.4 L400.3,1210.3 L400.9,1210.1 L401.5,1210.0 L402.1,1209.8 L402.7,1209.7 L403.3,1209.5 L403.9,1209.4 L404.5,1209.2 L405.1,1209.1 L405.7,1208.9 L406.3,1208.8 L406.9,1208.6 L407.5,1208.5 L408.1,1208.3 L408.7,1208.2 L409.3,1208.0 L409.9,1207.9 L410.5,1207.7 L411.1,1207.6 L411.7,1207.4 L412.3,1207.2 L412.9,1207.1 L413.5,1206.9 L414.1,1206.7 L414.7,1206.6 L415.3,1206.4 L415.9,1206.2 L416.5,1206.1 L417.1,1205.9 L417.7,1205.7 L418.3,1205.6 L418.9,1205.4 L419.5,1205.2 L420.1,1205.1 L420.7,1204.9 L421.3,1204.7 L421.9,1204.5 L422.4,1204.3 L423.0,1204.2 L423.6,1204.0 L424.2,1203.8 L424.8,1203.6 L425.4,1203.4 L426.0,1203.3 L426.6,1203.1 L427.2,1202.9 L427.8,1202.7 L428.3,1202.5 L428.9,1202.3 L429.5,1202.1 L430.1,1201.9 L430.7,1201.8 L431.3,1201.6 L431.9,1201.4 L432.4,1201.2 L433.0,1201.0 L433.6,1200.8 L434.2,1200.6 L434.8,1200.4 L435.4,1200.2 L436.0,1200.0 L436.5,1199.8 L437.1,1199.6 L437.7,1199.4 L438.3,1199.2 L438.9,1199.0 L439.4,1198.8 L440.0,1198.5 L440.6,1198.3 L441.2,1198.1 L441.8,1197.9 L442.3,1197.7 L442.9,1197.5 L443.5,1197.3 L444.1,1197.1 L444.6,1196.8 L445.2,1196.6 L445.8,1196.4 L446.4,1196.2 L447.0,1196.0 L447.5,1195.8 L448.1,1195.5 L448.7,1195.3 L449.3,1195.1 L449.8,1194.9 L450.4,1194.6 L451.0,1194.4 L451.5,1194.2 L452.1,1193.9 L452.7,1193.7 L453.3,1193.5 L453.8,1193.2 L454.4,1193.0 L455.0,1192.8 L455.5,1192.5 L456.1,1192.3 L456.7,1192.1 L457.2,1191.8 L457.8,1191.6 L458.4,1191.3 L458.9,1191.1 L459.5,1190.9 L460.1,1190.6 L460.6,1190.4 L461.2,1190.1 L461.8,1189.9 L462.3,1189.6 L462.9,1189.4 L463.5,1189.1 L464.0,1188.9 L464.6,1188.6 L465.1,1188.4 L465.7,1188.1 L466.3,1187.9 L466.8,1187.6 L467.4,1187.3 L467.9,1187.1 L468.5,1186.8 L469.1,1186.6 L469.6,1186.3 L470.2,1186.0 L470.7,1185.8 L471.3,1185.5 L471.8,1185.2 L472.4,1185.0 L473.0,1184.7 L473.5,1184.4 L474.1,1184.2 L474.6,1183.9 L475.2,1183.6 L475.7,1183.3 L476.3,1183.1 L476.8,1182.8 L477.4,1182.5 L477.9,1182.2 L478.5,1182.0 L479.0,1181.7 L479.6,1181.4 L480.1,1181.1 L480.7,1180.8 L481.2,1180.5 L481.8,1180.3 L482.3,1180.0 L482.9,1179.7 L483.4,1179.4 L484.0,1179.1 L484.5,1178.8 L485.1,1178.5 L485.6,1178.2 L486.1,1177.9 L486.7,1177.6 L487.2,1177.3 L487.8,1177.0 L488.3,1176.7 L488.9,1176.4 L489.4,1176.1 L489.9,1175.8 L490.5,1175.5 L491.0,1175.2 L491.6,1174.9 L492.1,1174.6 L492.6,1174.3 L493.2,1174.0 L493.7,1173.7 L494.2,1173.4 L494.8,1173.1 L495.3,1172.8 L495.9,1172.4 L496.4,1172.1 L496.9,1171.8 L497.5,1171.5 L498.0,1171.2 L498.5,1170.9 L499.0,1170.5 L499.6,1170.2 L500.1,1169.9 L500.6,1169.6 L501.2,1169.2 L501.7,1168.9 L502.2,1168.6 L502.8,1168.3 L503.3,1167.9 L503.8,1167.6 L504.3,1167.3 L504.9,1166.9 L505.4,1166.6 L505.9,1166.3 L506.4,1165.9 L507.0,1165.6 L507.5,1165.3 L508.0,1164.9 L508.5,1164.6 L509.1,1164.2 L509.6,1163.9 L510.1,1163.6 L510.6,1163.2 L511.1,1162.9 L511.7,1162.5 L512.2,1162.2 L512.7,1161.8 L513.2,1161.5 L513.7,1161.1 L514.2,1160.8 L514.8,1160.4 L515.3,1160.1 L515.8,1159.7 L516.3,1159.4 L516.8,1159.0 L517.3,1158.7 L517.9,1158.3 L518.4,1158.0 L518.9,1157.6 L519.4,1157.2 L519.9,1156.9 L520.4,1156.5 L520.9,1156.2 L521.4,1155.8 L521.9,1155.4 L522.5,1155.1 L523.0,1154.7 L523.5,1154.3 L524.0,1154.0 L524.5,1153.6 L525.0,1153.2 L525.5,1152.9 L526.0,1152.5 L526.5,1152.1 L527.0,1151.7 L527.5,1151.4 L528.0,1151.0 L528.5,1150.6 L529.0,1150.3 L529.6,1149.9 L530.1,1149.5 L530.6,1149.1 L531.1,1148.8 L531.6,1148.4 L532.1,1148.0 L532.6,1147.6 L533.1,1147.2 L533.6,1146.9 L534.1,1146.5 L534.6,1146.1 L535.1,1145.7 L535.6,1145.3 L536.1,1144.9 L536.6,1144.6 L537.1,1144.2 L537.6,1143.8 L538.1,1143.4 L538.6,1143.0 L539.0,1142.6 L539.5,1142.2 L540.0,1141.8 L540.5,1141.5 L541.0,1141.1 L541.5,1140.7 L542.0,1140.3 L542.5,1139.9 L543.0,1139.5 L543.5,1139.1 L544.0,1138.7 L544.5,1138.3 L545.0,1137.9 L545.5,1137.5 L546.0,1137.1 L546.5,1136.7 L546.9,1136.3 L547.4,1135.9 L547.9,1135.5 L548.4,1135.1 L548.9,1134.7 L549.4,1134.3 L549.9,1133.9 L550.4,1133.5 L550.9,1133.1 L551.3,1132.7 L551.8,1132.3 L552.3,1131.9 L552.8,1131.5 L553.3,1131.1 L553.8,1130.7 L554.3,1130.3 L554.7,1129.9 L555.2,1129.5 L555.7,1129.1 L556.2,1128.7 L556.7,1128.3 L557.2,1127.9 L557.6,1127.5 L558.1,1127.1 L558.6,1126.7 L559.1,1126.3 L559.6,1125.9 L560.1,1125.4 L560.5,1125.0 L561.0,1124.6 L561.5,1124.2 L562.0,1123.8 L562.5,1123.4 L562.9,1123.0 L563.4,1122.6 L563.9,1122.2 L564.4,1121.8 L564.9,1121.3 L565.3,1120.9 L565.8,1120.5 L566.3,1120.1 L566.8,1119.7 L567.3,1119.3 L567.7,1118.9 L568.2,1118.4 L568.7,1118.0 L569.2,1117.6 L569.6,1117.2 L570.1,1116.8 L570.6,1116.4 L571.1,1116.0 L571.5,1115.5 L572.0,1115.1 L572.5,1114.7 L573.0,1114.3 L573.4,1113.9 L573.9,1113.5 L574.4,1113.1 L574.9,1112.6 L575.3,1112.2 L575.8,1111.8 L576.3,1111.4 L576.7,1111.0 L577.2,1110.6 L577.7,1110.1 L578.2,1109.7 L578.6,1109.3 L579.1,1108.9 L579.6,1108.5 L580.0,1108.0 L580.5,1107.6 L581.0,1107.2 L581.5,1106.8 L581.9,1106.4 L582.4,1106.0 L582.9,1105.5 L583.3,1105.1 L583.8,1104.7 L584.3,1104.3 L584.7,1103.9 L585.2,1103.4 L585.7,1103.0 L586.1,1102.6 L586.6,1102.2 L587.1,1101.7 L587.5,1101.3 L588.0,1100.9 L588.5,1100.5 L588.9,1100.1 L589.4,1099.6 L589.8,1099.2 L590.3,1098.8 L590.8,1098.4 L591.2,1097.9 L591.7,1097.5 L592.1,1097.1 L592.6,1096.7 L593.1,1096.2 L593.5,1095.8 L594.0,1095.4 L594.4,1095.0 L594.9,1094.5 L595.4,1094.1 L595.8,1093.7 L596.3,1093.2 L596.7,1092.8 L597.2,1092.4 L597.6,1092.0 L598.1,1091.5 L598.5,1091.1 L599.0,1090.7 L599.4,1090.2 L599.9,1089.8 L600.3,1089.4 L600.8,1088.9 L601.2,1088.5 L601.7,1088.1 L602.1,1087.6 L602.6,1087.2 L603.0,1086.8 L603.5,1086.3 L603.9,1085.9 L604.4,1085.5 L604.8,1085.0 L605.2,1084.6 L605.7,1084.1 L606.1,1083.7 L606.6,1083.3 L607.0,1082.8 L607.5,1082.4 L607.9,1081.9 L608.3,1081.5 L608.8,1081.1 L609.2,1080.6 L609.6,1080.2 L610.1,1079.7 L610.5,1079.3 L610.9,1078.8 L611.4,1078.4 L611.8,1078.0 L612.2,1077.5 L612.7,1077.1 L613.1,1076.6 L613.5,1076.2 L614.0,1075.7 L614.4,1075.3 L614.8,1074.8 L615.2,1074.4 L615.7,1073.9 L616.1,1073.5 L616.5,1073.0 L616.9,1072.6 L617.4,1072.1 L617.8,1071.7 L618.2,1071.2 L618.6,1070.8 L619.0,1070.3 L619.5,1069.8 L619.9,1069.4 L620.3,1068.9 L620.7,1068.5 L621.1,1068.0 L621.5,1067.6 L622.0,1067.1 L622.4,1066.6 L622.8,1066.2 L623.2,1065.7 L623.6,1065.3 L624.0,1064.8 L624.4,1064.3 L624.8,1063.9 L625.2,1063.4 L625.6,1062.9 L626.0,1062.5 L626.4,1062.0 L626.8,1061.5 L627.2,1061.1 L627.6,1060.6 L628.0,1060.1 L628.4,1059.6 L628.8,1059.2 L629.2,1058.7 L629.6,1058.2 L630.0,1057.8 L630.4,1057.3 L630.8,1056.8 L631.2,1056.3 L631.6,1055.9 L632.0,1055.4 L632.4,1054.9 L632.7,1054.4 L633.1,1053.9 L633.5,1053.5 L633.9,1053.0 L634.3,1052.5 L634.6,1052.0 L635.0,1051.5 L635.4,1051.0 L635.8,1050.6 L636.2,1050.1 L636.5,1049.6 L636.9,1049.1 L637.3,1048.6 L637.7,1048.1 L638.0,1047.6 L638.4,1047.1 L638.8,1046.6 L639.1,1046.1 L639.5,1045.6 L639.9,1045.1 L640.2,1044.7 L640.6,1044.2 L640.9,1043.7 L641.3,1043.2 L641.7,1042.7 L642.0,1042.2 L642.4,1041.7 L642.7,1041.2 L643.1,1040.6 L643.4,1040.1 L643.8,1039.6 L644.1,1039.1 L644.5,1038.6 L644.8,1038.1 L645.2,1037.6 L645.5,1037.1 L645.9,1036.6 L646.2,1036.1 L646.5,1035.6 L646.9,1035.0 L647.2,1034.5 L647.6,1034.0 L647.9,1033.5 L648.2,1033.0 L648.6,1032.5 L648.9,1031.9 L649.2,1031.4 L649.6,1030.9 L649.9,1030.4 L650.2,1029.8 L650.5,1029.3 L650.9,1028.8 L651.2,1028.3 L651.5,1027.7 L651.8,1027.2 L652.1,1026.7 L652.5,1026.2 L652.8,1025.6 L653.1,1025.1 L653.4,1024.6 L653.7,1024.0 L654.0,1023.5 L654.4,1023.0 L654.7,1022.4 L655.0,1021.9 L655.3,1021.4 L655.6,1020.8 L655.9,1020.3 L656.2,1019.7 L656.5,1019.2 L656.8,1018.7 L657.1,1018.1 L657.4,1017.6 L657.7,1017.0 L658.0,1016.5 L658.3,1015.9 L658.6,1015.4 L658.9,1014.8 L659.2,1014.3 L659.5,1013.8 L659.8,1013.2 L660.1,1012.7 L660.4,1012.1 L660.7,1011.6 L660.9,1011.0 L661.2,1010.5 L661.5,1009.9 L661.8,1009.3 L662.1,1008.8 L662.4,1008.2 L662.7,1007.7 L662.9,1007.1 L663.2,1006.6 L663.5,1006.0 L663.8,1005.5 L664.1,1004.9 L664.3,1004.3 L664.6,1003.8 L664.9,1003.2 L665.2,1002.7 L665.4,1002.1 L665.7,1001.5 L666.0,1001.0 L666.3,1000.4 L666.5,999.8 L666.8,999.3 L667.1,998.7 L667.3,998.1 L667.6,997.6 L667.9,997.0 L668.1,996.4 L668.4,995.9 L668.7,995.3 L668.9,994.7 L669.2,994.2 L669.5,993.6 L669.7,993.0 L670.0,992.5 L670.2,991.9 L670.5,991.3 L670.7,990.8 L671.0,990.2 L671.3,989.6 L671.5,989.0 L671.8,988.5 L672.0,987.9 L672.3,987.3 L672.5,986.7 L672.8,986.2 L673.0,985.6 L673.3,985.0 L673.5,984.4 L673.8,983.9 L674.0,983.3 L674.3,982.7 L674.5,982.1 L674.8,981.5 L675.0,981.0 L675.3,980.4 L675.5,979.8 L675.8,979.2 L676.0,978.6 L676.3,978.1 L676.5,977.5 L676.7,976.9 L677.0,976.3 L677.2,975.7 L677.5,975.2 L677.7,974.6 L678.0,974.0 L678.2,973.4 L678.4,972.8 L678.7,972.2 L678.9,971.6 L679.1,971.1 L679.4,970.5 L679.6,969.9 L679.9,969.3 L680.1,968.7 L680.3,968.1 L680.6,967.6 L680.8,967.0 L681.0,966.4 L681.3,965.8 L681.5,965.2 L681.7,964.6 L682.0,964.0 L682.2,963.4 L682.4,962.9 L682.7,962.3 L682.9,961.7 L683.1,961.1 L683.3,960.5 L683.6,959.9 L683.8,959.3 L684.0,958.7 L684.3,958.2 L684.5,957.6 L684.7,957.0 L684.9,956.4 L685.2,955.8 L685.4,955.2 L685.6,954.6 L685.9,954.0 L686.1,953.4 L686.3,952.8 L686.5,952.3 L686.8,951.7 L687.0,951.1 L687.2,950.5 L687.4,949.9 L687.7,949.3 L687.9,948.7 L688.1,948.1 L688.3,947.5 L688.5,946.9 L688.8,946.4 L689.0,945.8 L689.2,945.2 L689.4,944.6 L689.7,944.0 L689.9,943.4 L690.1,942.8 L690.3,942.2 L690.5,941.6 L690.8,941.0 L691.0,940.5 L691.2,939.9 L691.4,939.3 L691.7,938.7 L691.9,938.1 L692.1,937.5 L692.3,936.9 L692.5,936.3 L692.8,935.7 L693.0,935.1 L693.2,934.6 L693.4,934.0 L693.6,933.4 L693.9,932.8 L694.1,932.2 L694.3,931.6 L694.5,931.0 L694.7,930.4 L695.0,929.8 L695.2,929.3 L695.4,928.7 L695.6,928.1 L695.8,927.5 L696.1,926.9 L696.3,926.3 L696.5,925.7 L696.7,925.1 L696.9,924.6 L697.2,924.0 L697.4,923.4 L697.6,922.8 L697.8,922.2 L698.0,921.6 L698.3,921.0 L698.5,920.5 L698.7,919.9 L698.9,919.3 L699.1,918.7 L699.4,918.1 L699.6,917.5 L699.8,917.0 L700.0,916.4 L700.3,915.8 L700.5,915.2 L700.7,914.6 L700.9,914.0 L701.1,913.5 L701.4,912.9 L701.6,912.3 L701.8,911.7 L702.0,911.1 L702.3,910.6 L702.5,910.0 L702.7,909.4 L702.9,908.8 L703.2,908.2 L703.4,907.7" fill="none" stroke="#000" stroke-width="4.5"/>
<path d="M288.1,1227.7 L289.1,1227.6 L290.1,1227.4 L291.2,1227.3 L292.2,1227.2 L293.3,1227.0 L294.3,1226.9 L295.4,1226.8 L296.4,1226.6 L297.5,1226.5 L298.5,1226.4 L299.6,1226.3 L300.6,1226.2 L301.7,1226.1 L302.8,1226.0 L303.8,1225.9 L304.9,1225.8 L305.9,1225.7 L307.0,1225.6 L308.1,1225.5 L309.1,1225.4 L310.2,1225.3 L311.3,1225.3 L312.4,1225.2 L313.4,1225.1 L314.5,1225.0 L315.6,1225.0 L316.7,1224.9 L317.7,1224.8 L318.8,1224.8 L319.9,1224.7 L321.0,1224.7 L322.1,1224.6 L323.1,1224.5 L324.2,1224.5 L325.3,1224.4 L326.4,1224.4 L327.5,1224.3 L328.6,1224.3 L329.7,1224.3 L330.7,1224.2 L331.8,1224.2 L332.9,1224.1 L334.0,1224.1 L335.1,1224.1 L336.2,1224.0 L337.3,1224.0 L338.4,1223.9 L339.5,1223.9 L340.6,1223.9 L341.7,1223.9 L342.8,1223.8 L343.9,1223.8 L345.0,1223.8 L346.1,1223.7 L347.2,1223.7 L348.3,1223.7 L349.4,1223.6 L350.5,1223.6 L351.6,1223.6 L352.7,1223.6 L353.8,1223.5 L354.9,1223.5 L356.0,1223.5 L357.1,1223.5 L358.2,1223.4 L359.3,1223.4 L360.4,1223.4 L361.5,1223.3 L362.6,1223.3 L363.7,1223.3 L364.8,1223.3 L365.9,1223.2 L367.0,1223.2 L368.1,1223.2 L369.2,1223.1 L370.3,1223.1 L371.4,1223.1 L372.5,1223.0 L373.6,1223.0 L374.7,1222.9 L375.8,1222.9 L376.9,1222.9 L378.0,1222.8 L379.1,1222.8 L380.2,1222.7 L381.3,1222.7 L382.4,1222.6 L383.5,1222.6 L384.6,1222.5 L385.7,1222.5 L386.8,1222.4 L387.9,1222.4 L389.0,1222.3 L390.1,1222.2 L391.2,1222.2 L392.3,1222.1 L393.4,1222.0 L394.5,1222.0 L395.5,1221.9 L396.6,1221.8 L397.7,1221.7 L398.8,1221.6 L399.9,1221.6 L401.0,1221.5 L402.1,1221.4 L403.2,1221.3 L404.3,1221.2 L405.3,1221.1 L406.4,1221.0 L407.5,1220.9 L408.6,1220.8 L409.7,1220.7 L410.7,1220.5 L411.8,1220.4 L412.9,1220.3 L414.0,1220.2 L415.1,1220.0 L416.1,1219.9 L417.2,1219.8 L418.3,1219.6 L419.3,1219.5 L420.4,1219.3 L421.5,1219.2 L422.5,1219.0 L423.6,1218.9 L424.7,1218.7 L425.7,1218.5 L426.8,1218.3 L427.8,1218.2 L428.9,1218.0 L430.0,1217.8 L431.0,1217.6 L432.1,1217.4 L433.1,1217.2 L434.2,1217.0 L435.2,1216.8 L436.3,1216.5 L437.3,1216.3 L438.3,1216.1 L439.4,1215.8 L440.4,1215.6 L441.5,1215.4 L442.5,1215.1 L443.5,1214.9 L444.6,1214.6 L445.6,1214.3 L446.6,1214.0 L447.6,1213.8 L448.7,1213.5 L449.7,1213.2 L450.7,1212.9 L451.7,1212.6 L452.7,1212.3 L453.7,1212.0 L454.8,1211.6 L455.8,1211.3 L456.8,1211.0 L457.8,1210.6 L458.8,1210.3 L459.8,1209.9 L460.8,1209.6 L461.8,1209.2 L462.8,1208.8 L463.7,1208.5 L464.7,1208.1 L465.7,1207.7 L466.7,1207.3 L467.7,1206.9 L468.7,1206.4 L469.6,1206.0 L470.6,1205.6 L471.6,1205.1 L472.5,1204.7 L473.5,1204.2 L474.5,1203.8 L475.4,1203.3 L476.4,1202.9 L477.3,1202.4 L478.3,1201.9 L479.2,1201.4 L480.2,1200.9 L481.1,1200.4 L482.1,1199.9 L483.0,1199.4 L484.0,1198.9 L484.9,1198.4 L485.9,1197.9 L486.8,1197.3 L487.8,1196.8 L488.7,1196.3 L489.6,1195.7 L490.6,1195.2 L491.5,1194.7 L492.5,1194.1 L493.4,1193.6 L494.3,1193.0 L495.3,1192.5 L496.2,1191.9 L497.2,1191.4 L498.1,1190.8 L499.0,1190.3 L500.0,1189.7 L500.9,1189.2 L501.9,1188.6 L502.8,1188.1 L503.8,1187.5 L504.7,1187.0 L505.6,1186.4 L506.6,1185.9 L507.5,1185.3 L508.5,1184.8 L509.4,1184.2 L510.4,1183.7 L511.3,1183.1 L512.3,1182.6 L513.3,1182.1 L514.2,1181.5 L515.2,1181.0 L516.1,1180.5 L517.1,1179.9 L518.1,1179.4 L519.0,1178.9 L520.0,1178.4 L521.0,1177.9 L522.0,1177.3 L522.9,1176.8 L523.9,1176.3 L524.9,1175.8 L525.9,1175.3 L526.8,1174.8 L527.8,1174.3 L528.8,1173.9 L529.8,1173.4 L530.8,1172.9 L531.8,1172.4 L532.8,1172.0 L533.7,1171.5 L534.7,1171.0 L535.7,1170.6 L536.7,1170.1 L537.7,1169.7 L538.7,1169.3 L539.7,1168.8 L540.7,1168.4 L541.7,1168.0 L542.7,1167.6 L543.7,1167.2 L544.7,1166.8 L545.7,1166.4 L546.7,1166.0 L547.7,1165.6 L548.8,1165.2 L549.8,1164.9 L550.8,1164.5 L551.8,1164.1 L552.8,1163.8 L553.8,1163.4 L554.8,1163.1 L555.8,1162.8 L556.8,1162.5 L557.9,1162.1 L558.9,1161.8 L559.9,1161.5 L560.9,1161.3 L561.9,1161.0 L563.0,1160.7 L564.0,1160.4 L565.0,1160.2 L566.0,1159.9 L567.0,1159.7 L568.1,1159.5 L569.1,1159.2 L570.1,1159.0 L571.1,1158.8 L572.2,1158.6 L573.2,1158.5 L574.2,1158.3 L575.2,1158.1 L576.3,1158.0 L577.3,1157.8 L578.3,1157.7 L579.3,1157.5 L580.4,1157.4 L581.4,1157.3 L582.4,1157.2 L583.5,1157.1 L584.5,1157.1 L585.5,1157.0 L586.5,1156.9 L587.6,1156.9 L588.6,1156.9 L589.6,1156.9 L590.7,1156.8 L591.7,1156.9 L592.7,1156.9 L593.7,1156.9 L594.8,1156.9 L595.8,1157.0 L596.8,1157.0 L597.9,1157.1 L598.9,1157.2 L599.9,1157.3 L601.0,1157.4 L602.0,1157.5 L603.0,1157.7 L604.0,1157.8 L605.1,1158.0 L606.1,1158.1 L607.1,1158.3 L608.2,1158.5 L609.2,1158.7 L610.2,1158.9 L611.2,1159.1 L612.3,1159.3 L613.3,1159.5 L614.3,1159.8 L615.4,1160.0 L616.4,1160.3 L617.4,1160.6 L618.4,1160.8 L619.5,1161.1 L620.5,1161.4 L621.5,1161.7 L622.6,1162.0 L623.6,1162.3 L624.6,1162.6 L625.6,1163.0 L626.7,1163.3 L627.7,1163.6 L628.7,1164.0 L629.8,1164.3 L630.8,1164.7 L631.8,1165.1 L632.8,1165.4 L633.9,1165.8 L634.9,1166.2 L635.9,1166.5 L637.0,1166.9 L638.0,1167.3 L639.0,1167.7 L640.1,1168.1 L641.1,1168.5 L642.1,1168.9 L643.2,1169.3 L644.2,1169.7 L645.2,1170.2 L646.2,1170.6 L647.3,1171.0 L648.3,1171.4 L649.3,1171.8 L650.4,1172.3 L651.4,1172.7 L652.4,1173.1 L653.5,1173.5 L654.5,1174.0 L655.5,1174.4 L656.6,1174.8 L657.6,1175.3 L658.6,1175.7 L659.7,1176.1 L660.7,1176.6 L661.7,1177.0 L662.8,1177.4 L663.8,1177.9 L664.9,1178.3 L665.9,1178.7 L666.9,1179.1 L668.0,1179.6 L669.0,1180.0 L670.0,1180.4 L671.1,1180.8 L672.1,1181.2 L673.2,1181.6 L674.2,1182.1 L675.2,1182.5 L676.3,1182.9 L677.3,1183.3 L678.4,1183.7 L679.4,1184.1 L680.4,1184.4 L681.5,1184.8 L682.5,1185.2 L683.6,1185.6 L684.6,1185.9 L685.7,1186.3 L686.7,1186.7 L687.7,1187.0 L688.8,1187.4 L689.8,1187.7 L690.9,1188.1 L691.9,1188.4 L693.0,1188.7 L694.0,1189.0 L695.1,1189.4 L696.1,1189.7 L697.2,1190.0 L698.2,1190.3 L699.3,1190.6 L700.3,1190.9 L701.4,1191.2 L702.4,1191.5 L703.5,1191.8 L704.5,1192.1 L705.6,1192.3 L706.6,1192.6 L707.7,1192.9 L708.7,1193.1 L709.8,1193.4 L710.8,1193.6 L711.9,1193.9 L712.9,1194.1 L714.0,1194.4 L715.0,1194.6 L716.1,1194.8 L717.1,1195.1 L718.2,1195.3 L719.3,1195.5 L720.3,1195.7 L721.4,1195.9 L722.4,1196.2 L723.5,1196.4 L724.5,1196.6 L725.6,1196.8 L726.7,1197.0 L727.7,1197.1 L728.8,1197.3 L729.8,1197.5 L730.9,1197.7 L732.0,1197.9 L733.0,1198.0 L734.1,1198.2 L735.1,1198.4 L736.2,1198.5 L737.3,1198.7 L738.3,1198.8 L739.4,1199.0 L740.4,1199.1 L741.5,1199.3 L742.6,1199.4 L743.6,1199.5 L744.7,1199.7 L745.8,1199.8 L746.8,1199.9 L747.9,1200.0 L748.9,1200.2 L750.0,1200.3 L751.1,1200.4 L752.1,1200.5 L753.2,1200.6 L754.3,1200.7 L755.3,1200.8 L756.4,1200.9 L757.5,1201.0 L758.5,1201.1 L759.6,1201.2 L760.7,1201.2 L761.7,1201.3 L762.8,1201.4 L763.9,1201.5 L765.0,1201.6 L766.0,1201.6 L767.1,1201.7 L768.2,1201.7 L769.2,1201.8 L770.3,1201.9 L771.4,1201.9 L772.4,1202.0 L773.5,1202.0 L774.6,1202.1 L775.7,1202.1 L776.7,1202.2 L777.8,1202.2 L778.9,1202.2 L779.9,1202.3 L781.0,1202.3 L782.1,1202.3 L783.2,1202.4 L784.2,1202.4 L785.3,1202.4 L786.4,1202.4 L787.4,1202.4 L788.5,1202.5 L789.6,1202.5 L790.7,1202.5 L791.7,1202.5 L792.8,1202.5 L793.9,1202.5 L795.0,1202.5 L796.0,1202.5 L797.1,1202.5 L798.2,1202.5 L799.3,1202.5 L800.3,1202.5 L801.4,1202.5 L802.5,1202.5 L803.6,1202.5 L804.6,1202.4 L805.7,1202.4 L806.8,1202.4 L807.9,1202.4 L809.0,1202.4 L810.0,1202.3 L811.1,1202.3 L812.2,1202.3 L813.3,1202.2 L814.3,1202.2 L815.4,1202.2 L816.5,1202.1 L817.6,1202.1 L818.7,1202.1 L819.7,1202.0 L820.8,1202.0 L821.9,1202.0 L823.0,1201.9 L824.0,1201.9 L825.1,1201.8 L826.2,1201.8 L827.3,1201.7 L828.4,1201.7 L829.4,1201.6 L830.5,1201.6 L831.6,1201.5 L832.7,1201.5 L833.8,1201.4 L834.8,1201.4 L835.9,1201.3 L837.0,1201.2 L838.1,1201.2 L839.2,1201.1 L840.2,1201.1 L841.3,1201.0 L842.4,1200.9 L843.5,1200.9 L844.6,1200.8 L845.7,1200.7 L846.7,1200.7 L847.8,1200.6 L848.9,1200.5 L850.0,1200.5 L851.1,1200.4 L852.1,1200.3 L853.2,1200.2 L854.3,1200.2 L855.4,1200.1 L856.5,1200.0 L857.5,1199.9 L858.6,1199.9 L859.7,1199.8 L860.8,1199.7 L861.9,1199.6 L863.0,1199.6 L864.0,1199.5 L865.1,1199.4 L866.2,1199.3 L867.3,1199.3 L868.4,1199.2 L869.5,1199.1 L870.5,1199.0 L871.6,1199.0 L872.7,1198.9 L873.8,1198.8 L874.9,1198.7 L875.9,1198.6 L877.0,1198.6 L878.1,1198.5 L879.2,1198.4 L880.3,1198.3 L881.4,1198.2 L882.4,1198.2 L883.5,1198.1 L884.6,1198.0 L885.7,1197.9 L886.8,1197.9 L887.9,1197.8 L888.9,1197.7 L890.0,1197.6 L891.1,1197.5 L892.2,1197.5 L893.3,1197.4 L894.4,1197.3 L895.4,1197.2 L896.5,1197.2 L897.6,1197.1 L898.7,1197.0 L899.8,1196.9 L900.9,1196.9 L901.9,1196.8 L903.0,1196.7 L904.1,1196.7 L905.2,1196.6 L906.3,1196.5 L907.3,1196.4 L908.4,1196.4 L909.5,1196.3 L910.6,1196.2 L911.7,1196.2 L912.8,1196.1 L913.8,1196.0 L914.9,1195.9 L916.0,1195.9 L917.1,1195.8 L918.2,1195.7 L919.3,1195.7 L920.3,1195.6 L921.4,1195.5 L922.5,1195.5 L923.6,1195.4 L924.7,1195.3 L925.7,1195.3 L926.8,1195.2 L927.9,1195.1 L929.0,1195.1 L930.1,1195.0 L931.2,1194.9 L932.2,1194.9 L933.3,1194.8 L934.4,1194.8 L935.5,1194.7 L936.6,1194.6 L937.7,1194.6 L938.7,1194.5 L939.8,1194.4 L940.9,1194.4 L942.0,1194.3 L943.1,1194.3 L944.1,1194.2 L945.2,1194.1 L946.3,1194.1 L947.4,1194.0 L948.5,1193.9 L949.6,1193.9 L950.6,1193.8 L951.7,1193.8 L952.8,1193.7 L953.9,1193.6 L955.0,1193.6 L956.0,1193.5 L957.1,1193.5 L958.2,1193.4 L959.3,1193.4 L960.4,1193.3 L961.5,1193.2 L962.5,1193.2 L963.6,1193.1 L964.7,1193.1 L965.8,1193.0 L966.9,1192.9 L967.9,1192.9 L969.0,1192.8 L970.1,1192.8 L971.2,1192.7 L972.3,1192.7 L973.4,1192.6 L974.4,1192.6 L975.5,1192.5 L976.6,1192.4 L977.7,1192.4 L978.8,1192.3 L979.8,1192.3 L980.9,1192.2 L982.0,1192.2 L983.1,1192.1 L984.2,1192.1 L985.3,1192.0 L986.3,1191.9 L987.4,1191.9 L988.5,1191.8 L989.6,1191.8 L990.7,1191.7 L991.7,1191.7 L992.8,1191.6 L993.9,1191.6 L995.0,1191.5 L996.1,1191.5 L997.1,1191.4 L998.2,1191.4 L999.3,1191.3 L1000.4,1191.3 L1001.5,1191.2 L1002.6,1191.1 L1003.6,1191.1 L1004.7,1191.0 L1005.8,1191.0 L1006.9,1190.9 L1008.0,1190.9 L1009.0,1190.8 L1010.1,1190.8 L1011.2,1190.7 L1012.3,1190.7 L1013.4,1190.6 L1014.4,1190.6 L1015.5,1190.5 L1016.6,1190.5 L1017.7,1190.4 L1018.8,1190.4 L1019.9,1190.3 L1020.9,1190.3 L1022.0,1190.2 L1023.1,1190.2 L1024.2,1190.1 L1025.3,1190.1 L1026.3,1190.0 L1027.4,1190.0 L1028.5,1189.9 L1029.6,1189.9 L1030.7,1189.8 L1031.7,1189.8 L1032.8,1189.7 L1033.9,1189.7 L1035.0,1189.6 L1036.1,1189.6 L1037.1,1189.5 L1038.2,1189.5 L1039.3,1189.4 L1040.4,1189.4 L1041.5,1189.3 L1042.6,1189.3 L1043.6,1189.2 L1044.7,1189.2 L1045.8,1189.1 L1046.9,1189.1 L1048.0,1189.0 L1049.0,1189.0 L1050.1,1188.9 L1051.2,1188.9 L1052.3,1188.8 L1053.4,1188.8 L1054.4,1188.7 L1055.5,1188.7 L1056.6,1188.6 L1057.7,1188.5 L1058.8,1188.5 L1059.8,1188.4 L1060.9,1188.4 L1062.0,1188.3 L1063.1,1188.3 L1064.2,1188.2 L1065.2,1188.2 L1066.3,1188.1 L1067.4,1188.1 L1068.5,1188.0 L1069.6,1188.0 L1070.6,1187.9 L1071.7,1187.9 L1072.8,1187.8 L1073.9,1187.8 L1075.0,1187.7 L1076.0,1187.7 L1077.1,1187.6 L1078.2,1187.6 L1079.3,1187.5 L1080.4,1187.5 L1081.4,1187.4 L1082.5,1187.4 L1083.6,1187.3 L1084.7,1187.3 L1085.8,1187.2 L1086.8,1187.2 L1087.9,1187.1 L1089.0,1187.1 L1090.1,1187.0 L1091.2,1186.9 L1092.2,1186.9 L1093.3,1186.8 L1094.4,1186.8 L1095.5,1186.7 L1096.6,1186.7 L1097.6,1186.6 L1098.7,1186.6 L1099.8,1186.5 L1100.9,1186.5 L1102.0,1186.4 L1103.0,1186.4 L1104.1,1186.3 L1105.2,1186.2 L1106.3,1186.2 L1107.4,1186.1 L1108.4,1186.1 L1109.5,1186.0 L1110.6,1186.0 L1111.7,1185.9 L1112.8,1185.9 L1113.8,1185.8 L1114.9,1185.7 L1116.0,1185.7 L1117.1,1185.6 L1118.2,1185.6 L1119.2,1185.5 L1120.3,1185.5 L1121.4,1185.4 L1122.5,1185.3 L1123.6,1185.3 L1124.6,1185.2 L1125.7,1185.2 L1126.8,1185.1 L1127.9,1185.1 L1129.0,1185.0 L1130.0,1184.9 L1131.1,1184.9 L1132.2,1184.8 L1133.3,1184.8 L1134.4,1184.7 L1135.4,1184.6 L1136.5,1184.6 L1137.6,1184.5 L1138.7,1184.5 L1139.8,1184.4 L1140.8,1184.3 L1141.9,1184.3 L1143.0,1184.2 L1144.1,1184.1 L1145.2,1184.1 L1146.2,1184.0 L1147.3,1184.0 L1148.4,1183.9 L1149.5,1183.8 L1150.5,1183.8 L1151.6,1183.7 L1152.7,1183.6 L1153.8,1183.6 L1154.9,1183.5 L1155.9,1183.5 L1157.0,1183.4 L1158.1,1183.3 L1159.2,1183.3 L1160.3,1183.2 L1161.3,1183.1 L1162.4,1183.1 L1163.5,1183.0 L1164.6,1182.9 L1165.7,1182.9 L1166.7,1182.8 L1167.8,1182.7 L1168.9,1182.7 L1170.0,1182.6 L1171.0,1182.5 L1172.1,1182.4 L1173.2,1182.4 L1174.3,1182.3 L1175.4,1182.2 L1176.4,1182.2 L1177.5,1182.1 L1178.6,1182.0 L1179.7,1182.0 L1180.8,1181.9 L1181.8,1181.8 L1182.9,1181.7 L1184.0,1181.7 L1185.1,1181.6 L1186.1,1181.5 L1187.2,1181.4 L1188.3,1181.4 L1189.4,1181.3 L1190.5,1181.2 L1191.5,1181.1 L1192.6,1181.1 L1193.7,1181.0 L1194.8,1180.9 L1195.9,1180.8 L1196.9,1180.8 L1198.0,1180.7 L1199.1,1180.6 L1200.2,1180.5 L1201.2,1180.4 L1202.3,1180.4 L1203.4,1180.3 L1204.5,1180.2 L1205.6,1180.1 L1206.6,1180.0 L1207.7,1180.0 L1208.8,1179.9 L1209.9,1179.8 L1211.0,1179.7 L1212.0,1179.6 L1213.1,1179.6 L1214.2,1179.5 L1215.3,1179.4 L1216.3,1179.3 L1217.4,1179.2 L1218.5,1179.1 L1219.6,1179.1 L1220.7,1179.0 L1221.7,1178.9 L1222.8,1178.8 L1223.9,1178.7 L1225.0,1178.6 L1226.0,1178.5 L1227.1,1178.4 L1228.2,1178.4 L1229.3,1178.3 L1230.4,1178.2 L1231.4,1178.1 L1232.5,1178.0 L1233.6,1177.9 L1234.7,1177.8 L1235.7,1177.7 L1236.8,1177.6 L1237.9,1177.5 L1239.0,1177.4" fill="none" stroke="#ff7f00" stroke-width="5.4"/>
<path d="M288.0,1221.9 L289.6,1221.7 L291.2,1221.6 L292.8,1221.4 L294.4,1221.2 L296.0,1221.0 L297.6,1220.8 L299.2,1220.7 L300.8,1220.5 L302.4,1220.3 L304.1,1220.1 L305.7,1220.0 L307.3,1219.8 L308.9,1219.6 L310.5,1219.5 L312.1,1219.3 L313.7,1219.2 L315.3,1219.0 L317.0,1218.9 L318.6,1218.7 L320.2,1218.6 L321.8,1218.4 L323.4,1218.3 L325.0,1218.1 L326.6,1218.0 L328.2,1217.8 L329.9,1217.7 L331.5,1217.6 L333.1,1217.4 L334.7,1217.3 L336.3,1217.1 L337.9,1217.0 L339.5,1216.9 L341.1,1216.7 L342.8,1216.6 L344.4,1216.5 L346.0,1216.3 L347.6,1216.2 L349.2,1216.1 L350.8,1215.9 L352.4,1215.8 L354.0,1215.7 L355.7,1215.5 L357.3,1215.4 L358.9,1215.3 L360.5,1215.2 L362.1,1215.0 L363.7,1214.9 L365.3,1214.8 L366.9,1214.6 L368.5,1214.5 L370.2,1214.4 L371.8,1214.2 L373.4,1214.1 L375.0,1214.0 L376.6,1213.8 L378.2,1213.7 L379.8,1213.5 L381.4,1213.4 L383.0,1213.3 L384.6,1213.1 L386.2,1213.0 L387.9,1212.8 L389.5,1212.7 L391.1,1212.6 L392.7,1212.4 L394.3,1212.3 L395.9,1212.1 L397.5,1212.0 L399.1,1211.8 L400.7,1211.6 L402.3,1211.5 L403.9,1211.3 L405.5,1211.2 L407.1,1211.0 L408.7,1210.8 L410.3,1210.7 L411.9,1210.5 L413.5,1210.3 L415.1,1210.1 L416.7,1210.0 L418.3,1209.8 L419.9,1209.6 L421.5,1209.4 L423.1,1209.2 L424.7,1209.0 L426.3,1208.8 L427.9,1208.6 L429.5,1208.4 L431.1,1208.2 L432.7,1208.0 L434.3,1207.8 L435.9,1207.6 L437.5,1207.4 L439.1,1207.2 L440.7,1207.0 L442.3,1206.7 L443.9,1206.5 L445.5,1206.3 L447.1,1206.0 L448.7,1205.8 L450.2,1205.5 L451.8,1205.3 L453.4,1205.0 L455.0,1204.8 L456.6,1204.5 L458.2,1204.2 L459.8,1204.0 L461.4,1203.7 L462.9,1203.4 L464.5,1203.1 L466.1,1202.8 L467.7,1202.5 L469.3,1202.2 L470.8,1201.9 L472.4,1201.6 L474.0,1201.3 L475.6,1201.0 L477.2,1200.7 L478.7,1200.3 L480.3,1200.0 L481.9,1199.7 L483.5,1199.3 L485.0,1199.0 L486.6,1198.6 L488.2,1198.2 L489.7,1197.9 L491.3,1197.5 L492.9,1197.1 L494.4,1196.7 L496.0,1196.3 L497.6,1195.9 L499.1,1195.5 L500.7,1195.1 L502.3,1194.7 L503.8,1194.3 L505.4,1193.9 L507.0,1193.4 L508.5,1193.0 L510.1,1192.5 L511.6,1192.1 L513.2,1191.6 L514.7,1191.2 L516.3,1190.7 L517.8,1190.2 L519.4,1189.7 L521.0,1189.2 L522.5,1188.7 L524.0,1188.2 L525.6,1187.7 L527.1,1187.2 L528.7,1186.6 L530.2,1186.1 L531.8,1185.5 L533.3,1185.0 L534.8,1184.4 L536.4,1183.8 L537.9,1183.2 L539.4,1182.7 L541.0,1182.1 L542.5,1181.4 L544.0,1180.8 L545.5,1180.2 L547.0,1179.5 L548.5,1178.9 L550.0,1178.2 L551.5,1177.6 L553.0,1176.9 L554.4,1176.2 L555.9,1175.5 L557.4,1174.8 L558.8,1174.0 L560.3,1173.3 L561.7,1172.5 L563.1,1171.8 L564.5,1171.0 L566.0,1170.2 L567.4,1169.4 L568.7,1168.6 L570.1,1167.8 L571.5,1166.9 L572.9,1166.1 L574.2,1165.2 L575.6,1164.3 L576.9,1163.4 L578.2,1162.5 L579.5,1161.6 L580.8,1160.7 L582.1,1159.7 L583.4,1158.7 L584.7,1157.7 L585.9,1156.7 L587.1,1155.7 L588.4,1154.7 L589.6,1153.6 L590.8,1152.6 L592.0,1151.5 L593.1,1150.4 L594.3,1149.3 L595.4,1148.2 L596.6,1147.1 L597.7,1145.9 L598.8,1144.8 L599.9,1143.6 L601.0,1142.4 L602.1,1141.2 L603.2,1140.0 L604.2,1138.8 L605.3,1137.6 L606.3,1136.4 L607.4,1135.1 L608.4,1133.9 L609.4,1132.6 L610.4,1131.4 L611.4,1130.1 L612.4,1128.8 L613.3,1127.5 L614.3,1126.2 L615.3,1124.9 L616.2,1123.6 L617.2,1122.3 L618.1,1121.0 L619.0,1119.7 L619.9,1118.3 L620.8,1117.0 L621.7,1115.7 L622.6,1114.3 L623.5,1113.0 L624.4,1111.6 L625.3,1110.3 L626.2,1108.9 L627.0,1107.6 L627.9,1106.2 L628.7,1104.8 L629.6,1103.5 L630.4,1102.1 L631.2,1100.7 L632.1,1099.3 L632.9,1098.0 L633.7,1096.6 L634.5,1095.2 L635.3,1093.8 L636.1,1092.4 L636.9,1091.0 L637.7,1089.6 L638.4,1088.2 L639.2,1086.8 L640.0,1085.3 L640.7,1083.9 L641.5,1082.5 L642.2,1081.1 L643.0,1079.7 L643.7,1078.2 L644.4,1076.8 L645.1,1075.4 L645.9,1073.9 L646.6,1072.5 L647.3,1071.0 L648.0,1069.6 L648.7,1068.1 L649.4,1066.7 L650.1,1065.2 L650.8,1063.8 L651.4,1062.3 L652.1,1060.9 L652.8,1059.4 L653.4,1057.9 L654.1,1056.5 L654.8,1055.0 L655.4,1053.5 L656.0,1052.0 L656.7,1050.6 L657.3,1049.1 L658.0,1047.6 L658.6,1046.1 L659.2,1044.6 L659.8,1043.1 L660.5,1041.6 L661.1,1040.1 L661.7,1038.7 L662.3,1037.2 L662.9,1035.7 L663.5,1034.2 L664.1,1032.7 L664.7,1031.1 L665.3,1029.6 L665.8,1028.1 L666.4,1026.6 L667.0,1025.1 L667.6,1023.6 L668.1,1022.1 L668.7,1020.6 L669.3,1019.0 L669.8,1017.5 L670.4,1016.0 L670.9,1014.5 L671.5,1013.0 L672.0,1011.4 L672.6,1009.9 L673.1,1008.4 L673.7,1006.9 L674.2,1005.3 L674.8,1003.8 L675.3,1002.3 L675.8,1000.7 L676.4,999.2 L676.9,997.7 L677.4,996.1 L677.9,994.6 L678.4,993.0 L679.0,991.5 L679.5,990.0 L680.0,988.4 L680.5,986.9 L681.0,985.3 L681.5,983.8 L682.0,982.2 L682.5,980.7 L683.0,979.1 L683.6,977.6 L684.1,976.1 L684.6,974.5 L685.1,973.0 L685.5,971.4 L686.0,969.9 L686.5,968.3 L687.0,966.8 L687.5,965.2 L688.0,963.7 L688.5,962.1 L689.0,960.6 L689.5,959.0 L690.0,957.5 L690.5,955.9 L691.0,954.4 L691.4,952.8 L691.9,951.3 L692.4,949.7 L692.9,948.2 L693.4,946.6 L693.9,945.1 L694.4,943.5 L694.8,941.9 L695.3,940.4 L695.8,938.8 L696.3,937.3 L696.8,935.8 L697.3,934.2 L697.7,932.7 L698.2,931.1 L698.7,929.6 L699.2,928.0 L699.7,926.5 L700.2,924.9 L700.7,923.4 L701.2,921.8 L701.6,920.3 L702.1,918.7 L702.6,917.2 L703.1,915.7 L703.6,914.1 L704.1,912.6 L704.6,911.0 L705.1,909.5 L705.6,908.0 L706.1,906.4 L706.6,904.9 L707.1,903.4 L707.6,901.8 L708.1,900.3 L708.6,898.8 L709.1,897.2 L709.6,895.7 L710.1,894.2 L710.6,892.7 L711.1,891.1 L711.7,889.6 L712.2,888.1 L712.7,886.6 L713.2,885.1 L713.7,883.5 L714.3,882.0 L714.8,880.5 L715.3,879.0 L715.9,877.5 L716.4,876.0 L716.9,874.5 L717.5,873.0 L718.0,871.5 L718.6,870.0 L719.1,868.5 L719.7,867.0 L720.2,865.5 L720.8,864.0 L721.3,862.5 L721.9,861.0 L722.5,859.5 L723.0,858.0 L723.6,856.5 L724.2,855.1 L724.8,853.6 L725.3,852.1 L725.9,850.6 L726.5,849.2 L727.1,847.7 L727.7,846.2 L728.3,844.7 L728.9,843.3 L729.5,841.8 L730.2,840.3 L730.8,838.9 L731.4,837.4 L732.1,835.9 L732.7,834.5 L733.3,833.0 L734.0,831.6 L734.7,830.1 L735.3,828.6 L736.0,827.2 L736.7,825.7 L737.4,824.2 L738.1,822.8 L738.8,821.3 L739.5,819.8 L740.2,818.4 L740.9,816.9 L741.6,815.4 L742.4,814.0 L743.1,812.5 L743.9,811.0 L744.6,809.6 L745.4,808.1 L746.2,806.6 L747.0,805.2 L747.8,803.7 L748.6,802.2 L749.4,800.7 L750.2,799.2 L751.1,797.8 L751.9,796.3 L752.8,794.8 L753.6,793.3 L754.5,791.8 L755.4,790.3 L756.3,788.8 L757.2,787.3 L758.1,785.9 L759.1,784.4 L760.0,783.0 L761.0,781.6 L762.0,780.2 L763.0,778.9 L764.0,777.6 L765.1,776.3 L766.1,775.1 L767.2,774.0 L768.4,772.9 L769.5,771.8 L770.7,770.9 L771.9,770.0 L773.1,769.2 L774.4,768.5 L775.7,767.8 L777.0,767.3 L778.3,766.8 L779.7,766.5 L781.1,766.2 L782.5,766.1 L783.9,766.0 L785.3,766.0 L786.6,766.1 L788.0,766.3 L789.3,766.6 L790.6,766.9 L791.9,767.4 L793.1,767.9 L794.4,768.5 L795.6,769.2 L796.8,769.9 L798.0,770.7 L799.1,771.5 L800.3,772.5 L801.4,773.4 L802.5,774.5 L803.6,775.5 L804.7,776.7 L805.7,777.8 L806.8,779.1 L807.8,780.3 L808.8,781.6 L809.8,783.0 L810.8,784.3 L811.7,785.7 L812.7,787.1 L813.6,788.6 L814.6,790.0 L815.5,791.5 L816.4,793.0 L817.3,794.5 L818.1,796.1 L819.0,797.6 L819.9,799.1 L820.7,800.6 L821.5,802.2 L822.4,803.7 L823.2,805.2 L824.0,806.8 L824.8,808.3 L825.6,809.8 L826.3,811.4 L827.1,812.9 L827.9,814.4 L828.6,815.9 L829.4,817.5 L830.1,819.0 L830.8,820.5 L831.5,822.0 L832.2,823.5 L832.9,825.0 L833.6,826.6 L834.3,828.1 L835.0,829.6 L835.7,831.1 L836.3,832.6 L837.0,834.1 L837.6,835.6 L838.3,837.1 L838.9,838.6 L839.6,840.2 L840.2,841.7 L840.8,843.2 L841.4,844.7 L842.0,846.2 L842.6,847.7 L843.2,849.2 L843.8,850.7 L844.4,852.2 L845.0,853.7 L845.6,855.2 L846.2,856.7 L846.7,858.2 L847.3,859.7 L847.9,861.2 L848.4,862.7 L849.0,864.2 L849.6,865.7 L850.1,867.2 L850.7,868.7 L851.2,870.2 L851.8,871.7 L852.3,873.2 L852.8,874.7 L853.4,876.1 L853.9,877.6 L854.4,879.1 L855.0,880.6 L855.5,882.1 L856.0,883.6 L856.6,885.1 L857.1,886.6 L857.6,888.1 L858.1,889.6 L858.7,891.1 L859.2,892.6 L859.7,894.1 L860.2,895.6 L860.7,897.1 L861.3,898.6 L861.8,900.1 L862.3,901.6 L862.8,903.1 L863.3,904.5 L863.8,906.0 L864.3,907.5 L864.8,909.0 L865.4,910.5 L865.9,912.0 L866.4,913.5 L866.9,915.0 L867.4,916.5 L867.9,918.0 L868.4,919.5 L868.9,921.0 L869.4,922.5 L869.9,924.0 L870.4,925.5 L870.9,927.0 L871.4,928.5 L871.9,930.0 L872.4,931.5 L873.0,933.0 L873.5,934.5 L874.0,936.0 L874.5,937.5 L875.0,939.0 L875.5,940.5 L876.0,942.0 L876.5,943.5 L877.0,945.0 L877.5,946.5 L878.1,948.0 L878.6,949.5 L879.1,951.0 L879.6,952.5 L880.1,954.0 L880.6,955.5 L881.2,957.0 L881.7,958.5 L882.2,960.0 L882.7,961.5 L883.3,963.1 L883.8,964.6 L884.3,966.1 L884.8,967.6 L885.4,969.1 L885.9,970.6 L886.4,972.1 L887.0,973.6 L887.5,975.1 L888.1,976.7 L888.6,978.2 L889.1,979.7 L889.7,981.2 L890.2,982.7 L890.8,984.2 L891.4,985.8 L891.9,987.3 L892.5,988.8 L893.0,990.3 L893.6,991.9 L894.2,993.4 L894.7,994.9 L895.3,996.4 L895.9,998.0 L896.5,999.5 L897.0,1001.0 L897.6,1002.5 L898.2,1004.1 L898.8,1005.6 L899.4,1007.1 L900.0,1008.7 L900.6,1010.2 L901.2,1011.7 L901.8,1013.3 L902.4,1014.8 L903.0,1016.4 L903.7,1017.9 L904.3,1019.4 L904.9,1021.0 L905.5,1022.5 L906.2,1024.1 L906.8,1025.6 L907.4,1027.1 L908.1,1028.7 L908.7,1030.2 L909.4,1031.8 L910.1,1033.3 L910.7,1034.8 L911.4,1036.4 L912.1,1037.9 L912.7,1039.4 L913.4,1041.0 L914.1,1042.5 L914.8,1044.0 L915.5,1045.5 L916.2,1047.1 L916.9,1048.6 L917.6,1050.1 L918.3,1051.6 L919.0,1053.1 L919.8,1054.6 L920.5,1056.1 L921.2,1057.6 L922.0,1059.1 L922.7,1060.6 L923.5,1062.1 L924.2,1063.6 L925.0,1065.0 L925.8,1066.5 L926.6,1068.0 L927.3,1069.4 L928.1,1070.9 L928.9,1072.3 L929.7,1073.8 L930.5,1075.2 L931.4,1076.7 L932.2,1078.1 L933.0,1079.5 L933.8,1080.9 L934.7,1082.3 L935.5,1083.7 L936.4,1085.1 L937.2,1086.5 L938.1,1087.9 L939.0,1089.3 L939.9,1090.6 L940.7,1092.0 L941.6,1093.3 L942.5,1094.7 L943.4,1096.0 L944.4,1097.3 L945.3,1098.6 L946.2,1100.0 L947.2,1101.3 L948.1,1102.5 L949.1,1103.8 L950.0,1105.1 L951.0,1106.4 L952.0,1107.6 L953.0,1108.9 L954.0,1110.1 L955.0,1111.3 L956.0,1112.5 L957.0,1113.7 L958.0,1114.9 L959.0,1116.1 L960.1,1117.3 L961.1,1118.4 L962.2,1119.6 L963.3,1120.7 L964.3,1121.8 L965.4,1122.9 L966.5,1124.0 L967.6,1125.1 L968.7,1126.2 L969.9,1127.2 L971.0,1128.3 L972.1,1129.3 L973.3,1130.3 L974.5,1131.4 L975.6,1132.3 L976.8,1133.3 L978.0,1134.3 L979.2,1135.2 L980.4,1136.2 L981.6,1137.1 L982.8,1138.0 L984.1,1138.9 L985.3,1139.8 L986.6,1140.7 L987.8,1141.5 L989.1,1142.4 L990.4,1143.2 L991.7,1144.0 L993.0,1144.8 L994.3,1145.6 L995.6,1146.3 L997.0,1147.1 L998.3,1147.8 L999.7,1148.5 L1001.0,1149.2 L1002.4,1149.9 L1003.8,1150.6 L1005.2,1151.2 L1006.6,1151.9 L1008.0,1152.5 L1009.4,1153.1 L1010.9,1153.7 L1012.3,1154.3 L1013.7,1154.9 L1015.2,1155.5 L1016.6,1156.0 L1018.1,1156.5 L1019.6,1157.1 L1021.1,1157.6 L1022.6,1158.1 L1024.0,1158.6 L1025.6,1159.1 L1027.1,1159.5 L1028.6,1160.0 L1030.1,1160.4 L1031.6,1160.8 L1033.2,1161.3 L1034.7,1161.7 L1036.3,1162.1 L1037.8,1162.5 L1039.4,1162.8 L1041.0,1163.2 L1042.5,1163.5 L1044.1,1163.9 L1045.7,1164.2 L1047.3,1164.5 L1048.9,1164.9 L1050.5,1165.2 L1052.1,1165.5 L1053.7,1165.7 L1055.3,1166.0 L1057.0,1166.3 L1058.6,1166.5 L1060.2,1166.8 L1061.8,1167.0 L1063.5,1167.3 L1065.1,1167.5 L1066.8,1167.7 L1068.4,1167.9 L1070.1,1168.1 L1071.7,1168.3 L1073.4,1168.5 L1075.1,1168.6 L1076.7,1168.8 L1078.4,1169.0 L1080.1,1169.1 L1081.8,1169.2 L1083.5,1169.4 L1085.1,1169.5 L1086.8,1169.6 L1088.5,1169.8 L1090.2,1169.9 L1091.9,1170.0 L1093.6,1170.1 L1095.3,1170.2 L1097.0,1170.2 L1098.7,1170.3 L1100.4,1170.4 L1102.1,1170.5 L1103.8,1170.5 L1105.5,1170.6 L1107.2,1170.6 L1108.9,1170.7 L1110.6,1170.7 L1112.3,1170.8 L1114.0,1170.8 L1115.8,1170.8 L1117.5,1170.9 L1119.2,1170.9 L1120.9,1170.9 L1122.6,1170.9 L1124.3,1170.9 L1126.0,1171.0 L1127.7,1171.0 L1129.4,1171.0 L1131.1,1171.0 L1132.9,1171.0 L1134.6,1170.9 L1136.3,1170.9 L1138.0,1170.9 L1139.7,1170.9 L1141.4,1170.9 L1143.1,1170.9 L1144.8,1170.9 L1146.5,1170.8 L1148.2,1170.8 L1149.9,1170.8 L1151.5,1170.8 L1153.2,1170.7 L1154.9,1170.7 L1156.6,1170.7 L1158.3,1170.6 L1160.0,1170.6 L1161.6,1170.6 L1163.3,1170.5 L1165.0,1170.5 L1166.6,1170.5 L1168.3,1170.4 L1170.0,1170.4 L1171.6,1170.4 L1173.3,1170.4 L1174.9,1170.3 L1176.5,1170.3 L1178.2,1170.3 L1179.8,1170.2 L1181.4,1170.2 L1183.1,1170.2 L1184.7,1170.2 L1186.3,1170.1 L1187.9,1170.1 L1189.5,1170.1 L1191.1,1170.1 L1192.7,1170.1 L1194.3,1170.1 L1195.9,1170.1 L1197.5,1170.0 L1199.0,1170.0 L1200.6,1170.0 L1202.2,1170.0 L1203.7,1170.0 L1205.3,1170.1 L1206.8,1170.1 L1208.4,1170.1 L1209.9,1170.1 L1211.4,1170.1 L1212.9,1170.2 L1214.4,1170.2 L1215.9,1170.2 L1217.4,1170.3 L1218.9,1170.3 L1220.4,1170.4 L1221.9,1170.4 L1223.3,1170.5 L1224.8,1170.5 L1226.2,1170.6 L1227.7,1170.7 L1229.1,1170.8 L1230.5,1170.9 L1231.9,1170.9 L1233.3,1171.0 L1234.7,1171.1 L1236.1,1171.3 L1237.5,1171.4 L1238.9,1171.5" fill="none" stroke="#8000ff" stroke-width="5.4"/>
<path d="M269.2,1818.0 L269.7,1817.9 L270.3,1817.8 L270.9,1817.7 L271.4,1817.5 L272.0,1817.4 L272.5,1817.3 L273.1,1817.2 L273.7,1817.1 L274.3,1817.0 L274.8,1816.9 L275.4,1816.8 L276.0,1816.7 L276.5,1816.6 L277.1,1816.5 L277.7,1816.4 L278.2,1816.3 L278.8,1816.2 L279.4,1816.1 L280.0,1816.0 L280.5,1815.9 L281.1,1815.8 L281.7,1815.7 L282.2,1815.6 L282.8,1815.5 L283.4,1815.4 L284.0,1815.3 L284.5,1815.2 L285.1,1815.1 L285.7,1815.0 L286.3,1814.9 L286.8,1814.8 L287.4,1814.7 L288.0,1814.6 L288.6,1814.6 L289.2,1814.5 L289.7,1814.4 L290.3,1814.3 L290.9,1814.2 L291.5,1814.1 L292.1,1814.0 L292.6,1813.9 L293.2,1813.8 L293.8,1813.7 L294.4,1813.7 L295.0,1813.6 L295.5,1813.5 L296.1,1813.4 L296.7,1813.3 L297.3,1813.2 L297.9,1813.1 L298.5,1813.1 L299.0,1813.0 L299.6,1812.9 L300.2,1812.8 L300.8,1812.7 L301.4,1812.7 L302.0,1812.6 L302.5,1812.5 L303.1,1812.4 L303.7,1812.3 L304.3,1812.2 L304.9,1812.2 L305.5,1812.1 L306.1,1812.0 L306.7,1811.9 L307.2,1811.9 L307.8,1811.8 L308.4,1811.7 L309.0,1811.6 L309.6,1811.5 L310.2,1811.5 L310.8,1811.4 L311.4,1811.3 L311.9,1811.2 L312.5,1811.2 L313.1,1811.1 L313.7,1811.0 L314.3,1810.9 L314.9,1810.9 L315.5,1810.8 L316.1,1810.7 L316.7,1810.6 L317.3,1810.6 L317.9,1810.5 L318.5,1810.4 L319.0,1810.4 L319.6,1810.3 L320.2,1810.2 L320.8,1810.1 L321.4,1810.1 L322.0,1810.0 L322.6,1809.9 L323.2,1809.9 L323.8,1809.8 L324.4,1809.7 L325.0,1809.6 L325.6,1809.6 L326.2,1809.5 L326.8,1809.4 L327.4,1809.4 L328.0,1809.3 L328.6,1809.2 L329.2,1809.2 L329.7,1809.1 L330.3,1809.0 L330.9,1809.0 L331.5,1808.9 L332.1,1808.8 L332.7,1808.8 L333.3,1808.7 L333.9,1808.6 L334.5,1808.5 L335.1,1808.5 L335.7,1808.4 L336.3,1808.3 L336.9,1808.3 L337.5,1808.2 L338.1,1808.1 L338.7,1808.1 L339.3,1808.0 L339.9,1807.9 L340.5,1807.9 L341.1,1807.8 L341.7,1807.7 L342.3,1807.7 L342.9,1807.6 L343.5,1807.5 L344.1,1807.5 L344.7,1807.4 L345.3,1807.3 L345.9,1807.3 L346.5,1807.2 L347.1,1807.1 L347.7,1807.1 L348.3,1807.0 L348.9,1806.9 L349.5,1806.9 L350.1,1806.8 L350.7,1806.7 L351.3,1806.7 L351.9,1806.6 L352.5,1806.5 L353.1,1806.5 L353.7,1806.4 L354.3,1806.3 L354.9,1806.3 L355.5,1806.2 L356.1,1806.1 L356.7,1806.1 L357.3,1806.0 L357.9,1805.9 L358.5,1805.9 L359.1,1805.8 L359.7,1805.7 L360.3,1805.7 L360.9,1805.6 L361.5,1805.5 L362.1,1805.5 L362.7,1805.4 L363.3,1805.3 L363.9,1805.3 L364.5,1805.2 L365.1,1805.1 L365.7,1805.1 L366.3,1805.0 L366.9,1804.9 L367.5,1804.8 L368.1,1804.8 L368.7,1804.7 L369.3,1804.6 L369.9,1804.6 L370.6,1804.5 L371.2,1804.4 L371.8,1804.4 L372.4,1804.3 L373.0,1804.2 L373.6,1804.1 L374.2,1804.1 L374.8,1804.0 L375.4,1803.9 L376.0,1803.9 L376.6,1803.8 L377.2,1803.7 L377.8,1803.6 L378.4,1803.6 L379.0,1803.5 L379.6,1803.4 L380.2,1803.3 L380.8,1803.3 L381.4,1803.2 L382.0,1803.1 L382.6,1803.0 L383.2,1803.0 L383.8,1802.9 L384.4,1802.8 L385.0,1802.7 L385.6,1802.7 L386.2,1802.6 L386.8,1802.5 L387.4,1802.4 L388.0,1802.3 L388.6,1802.3 L389.2,1802.2 L389.8,1802.1 L390.4,1802.0 L391.0,1802.0 L391.6,1801.9 L392.2,1801.8 L392.8,1801.7 L393.4,1801.6 L394.0,1801.5 L394.6,1801.5 L395.2,1801.4 L395.8,1801.3 L396.4,1801.2 L397.0,1801.1 L397.6,1801.0 L398.2,1801.0 L398.8,1800.9 L399.4,1800.8 L400.0,1800.7 L400.6,1800.6 L401.2,1800.5 L401.8,1800.4 L402.4,1800.4 L403.0,1800.3 L403.6,1800.2 L404.2,1800.1 L404.8,1800.0 L405.4,1799.9 L406.0,1799.8 L406.6,1799.7 L407.2,1799.6 L407.8,1799.5 L408.4,1799.5 L409.0,1799.4 L409.6,1799.3 L410.2,1799.2 L410.7,1799.1 L411.3,1799.0 L411.9,1798.9 L412.5,1798.8 L413.1,1798.7 L413.7,1798.6 L414.3,1798.5 L414.9,1798.4 L415.5,1798.3 L416.1,1798.2 L416.7,1798.1 L417.3,1798.0 L417.9,1797.9 L418.5,1797.8 L419.1,1797.7 L419.7,1797.6 L420.3,1797.5 L420.9,1797.4 L421.4,1797.3 L422.0,1797.2 L422.6,1797.1 L423.2,1797.0 L423.8,1796.8 L424.4,1796.7 L425.0,1796.6 L425.6,1796.5 L426.2,1796.4 L426.8,1796.3 L427.4,1796.2 L428.0,1796.1 L428.5,1796.0 L429.1,1795.8 L429.7,1795.7 L430.3,1795.6 L430.9,1795.5 L431.5,1795.4 L432.1,1795.3 L432.7,1795.1 L433.2,1795.0 L433.8,1794.9 L434.4,1794.8 L435.0,1794.7 L435.6,1794.5 L436.2,1794.4 L436.8,1794.3 L437.4,1794.2 L437.9,1794.0 L438.5,1793.9 L439.1,1793.8 L439.7,1793.7 L440.3,1793.5 L440.9,1793.4 L441.4,1793.3 L442.0,1793.2 L442.6,1793.0 L443.2,1792.9 L443.8,1792.8 L444.4,1792.6 L444.9,1792.5 L445.5,1792.4 L446.1,1792.2 L446.7,1792.1 L447.3,1791.9 L447.8,1791.8 L448.4,1791.7 L449.0,1791.5 L449.6,1791.4 L450.2,1791.2 L450.7,1791.1 L451.3,1791.0 L451.9,1790.8 L452.5,1790.7 L453.1,1790.5 L453.6,1790.4 L454.2,1790.2 L454.8,1790.1 L455.4,1789.9 L455.9,1789.8 L456.5,1789.6 L457.1,1789.5 L457.7,1789.3 L458.2,1789.2 L458.8,1789.0 L459.4,1788.8 L459.9,1788.7 L460.5,1788.5 L461.1,1788.4 L461.7,1788.2 L462.2,1788.0 L462.8,1787.9 L463.4,1787.7 L463.9,1787.5 L464.5,1787.4 L465.1,1787.2 L465.6,1787.0 L466.2,1786.9 L466.8,1786.7 L467.3,1786.5 L467.9,1786.3 L468.5,1786.2 L469.0,1786.0 L469.6,1785.8 L470.1,1785.6 L470.7,1785.4 L471.3,1785.3 L471.8,1785.1 L472.4,1784.9 L472.9,1784.7 L473.5,1784.5 L474.0,1784.3 L474.6,1784.1 L475.1,1783.9 L475.7,1783.7 L476.2,1783.5 L476.8,1783.3 L477.3,1783.1 L477.9,1782.9 L478.4,1782.7 L479.0,1782.4 L479.5,1782.2 L480.0,1782.0 L480.6,1781.8 L481.1,1781.6 L481.6,1781.3 L482.2,1781.1 L482.7,1780.9 L483.2,1780.6 L483.8,1780.4 L484.3,1780.2 L484.8,1779.9 L485.3,1779.7 L485.9,1779.4 L486.4,1779.2 L486.9,1778.9 L487.4,1778.7 L487.9,1778.4 L488.4,1778.1 L489.0,1777.9 L489.5,1777.6 L490.0,1777.3 L490.5,1777.1 L491.0,1776.8 L491.5,1776.5 L492.0,1776.2 L492.5,1775.9 L493.0,1775.6 L493.5,1775.4 L494.0,1775.1 L494.5,1774.8 L494.9,1774.5 L495.4,1774.2 L495.9,1773.8 L496.4,1773.5 L496.9,1773.2 L497.4,1772.9 L497.8,1772.6 L498.3,1772.3 L498.8,1771.9 L499.3,1771.6 L499.7,1771.3 L500.2,1771.0 L500.7,1770.6 L501.1,1770.3 L501.6,1769.9 L502.1,1769.6 L502.5,1769.3 L503.0,1768.9 L503.4,1768.6 L503.9,1768.2 L504.4,1767.9 L504.8,1767.5 L505.3,1767.1 L505.7,1766.8 L506.2,1766.4 L506.6,1766.0 L507.1,1765.7 L507.5,1765.3 L508.0,1764.9 L508.4,1764.6 L508.8,1764.2 L509.3,1763.8 L509.7,1763.4 L510.2,1763.0 L510.6,1762.7 L511.0,1762.3 L511.5,1761.9 L511.9,1761.5 L512.3,1761.1 L512.8,1760.7 L513.2,1760.3 L513.6,1759.9 L514.1,1759.5 L514.5,1759.1 L514.9,1758.7 L515.4,1758.3 L515.8,1757.9 L516.2,1757.5 L516.6,1757.1 L517.1,1756.7 L517.5,1756.3 L517.9,1755.9 L518.3,1755.5 L518.7,1755.0 L519.2,1754.6 L519.6,1754.2 L520.0,1753.8 L520.4,1753.4 L520.8,1752.9 L521.3,1752.5 L521.7,1752.1 L522.1,1751.7 L522.5,1751.3 L522.9,1750.8 L523.3,1750.4 L523.7,1750.0 L524.2,1749.5 L524.6,1749.1 L525.0,1748.7 L525.4,1748.2 L525.8,1747.8 L526.2,1747.4 L526.6,1746.9 L527.0,1746.5 L527.4,1746.1 L527.9,1745.6 L528.3,1745.2 L528.7,1744.8 L529.1,1744.3 L529.5,1743.9 L529.9,1743.4 L530.3,1743.0 L530.7,1742.6 L531.1,1742.1 L531.5,1741.7 L531.9,1741.2 L532.3,1740.8 L532.8,1740.3 L533.2,1739.9 L533.6,1739.5 L534.0,1739.0 L534.4,1738.6 L534.8,1738.1 L535.2,1737.7 L535.6,1737.2 L536.0,1736.8 L536.4,1736.3 L536.8,1735.9 L537.2,1735.5 L537.7,1735.0 L538.1,1734.6 L538.5,1734.1 L538.9,1733.7 L539.3,1733.2 L539.7,1732.8 L540.1,1732.3 L540.5,1731.9 L540.9,1731.4 L541.3,1731.0 L541.8,1730.6 L542.2,1730.1 L542.6,1729.7 L543.0,1729.2 L543.4,1728.8 L543.8,1728.3 L544.2,1727.9 L544.6,1727.5 L545.1,1727.0 L545.5,1726.6 L545.9,1726.1 L546.3,1725.7 L546.7,1725.3 L547.2,1724.8 L547.6,1724.4 L548.0,1724.0 L548.4,1723.5 L548.8,1723.1 L549.3,1722.7 L549.7,1722.2 L550.1,1721.8 L550.5,1721.4 L551.0,1720.9 L551.4,1720.5 L551.8,1720.1 L552.2,1719.7 L552.7,1719.2 L553.1,1718.8 L553.5,1718.4 L554.0,1718.0 L554.4,1717.5 L554.8,1717.1 L555.3,1716.7 L555.7,1716.3 L556.1,1715.9 L556.6,1715.5 L557.0,1715.1 L557.5,1714.6 L557.9,1714.2 L558.3,1713.8 L558.8,1713.4 L559.2,1713.0 L559.7,1712.6 L560.1,1712.2 L560.6,1711.8 L561.0,1711.4 L561.5,1711.0 L561.9,1710.6 L562.4,1710.2 L562.8,1709.8 L563.3,1709.4 L563.8,1709.0 L564.2,1708.6 L564.7,1708.3 L565.1,1707.9 L565.6,1707.5 L566.1,1707.1 L566.5,1706.7 L567.0,1706.3 L567.4,1706.0 L567.9,1705.6 L568.4,1705.2 L568.8,1704.8 L569.3,1704.4 L569.8,1704.1 L570.3,1703.7 L570.7,1703.3 L571.2,1702.9 L571.7,1702.6 L572.1,1702.2 L572.6,1701.8 L573.1,1701.5 L573.6,1701.1 L574.0,1700.7 L574.5,1700.4 L575.0,1700.0 L575.5,1699.6 L576.0,1699.3 L576.4,1698.9 L576.9,1698.6 L577.4,1698.2 L577.9,1697.8 L578.4,1697.5 L578.8,1697.1 L579.3,1696.8 L579.8,1696.4 L580.3,1696.0 L580.8,1695.7 L581.3,1695.3 L581.8,1695.0 L582.2,1694.6 L582.7,1694.3 L583.2,1693.9 L583.7,1693.6 L584.2,1693.2 L584.7,1692.9 L585.2,1692.5 L585.7,1692.2 L586.1,1691.8 L586.6,1691.5 L587.1,1691.1 L587.6,1690.8 L588.1,1690.4 L588.6,1690.1 L589.1,1689.7 L589.6,1689.4 L590.1,1689.1 L590.6,1688.7 L591.1,1688.4 L591.5,1688.0 L592.0,1687.7 L592.5,1687.3 L593.0,1687.0 L593.5,1686.7 L594.0,1686.3 L594.5,1686.0 L595.0,1685.6 L595.5,1685.3 L596.0,1684.9 L596.5,1684.6 L597.0,1684.3 L597.5,1683.9 L598.0,1683.6 L598.4,1683.2 L598.9,1682.9 L599.4,1682.6 L599.9,1682.2 L600.4,1681.9 L600.9,1681.5 L601.4,1681.2 L601.9,1680.9 L602.4,1680.5 L602.9,1680.2 L603.4,1679.8 L603.9,1679.5 L604.3,1679.2 L604.8,1678.8 L605.3,1678.5 L605.8,1678.1 L606.3,1677.8 L606.8,1677.4 L607.3,1677.1 L607.8,1676.8 L608.3,1676.4 L608.8,1676.1 L609.2,1675.7 L609.7,1675.4 L610.2,1675.0 L610.7,1674.7 L611.2,1674.4 L611.7,1674.0 L612.2,1673.7 L612.6,1673.3 L613.1,1673.0 L613.6,1672.6 L614.1,1672.3 L614.6,1671.9 L615.1,1671.6 L615.5,1671.2 L616.0,1670.9 L616.5,1670.5 L617.0,1670.2 L617.5,1669.8 L617.9,1669.5 L618.4,1669.1 L618.9,1668.8 L619.4,1668.4 L619.8,1668.1 L620.3,1667.7 L620.8,1667.4 L621.3,1667.0 L621.7,1666.7 L622.2,1666.3 L622.7,1665.9 L623.2,1665.6 L623.6,1665.2 L624.1,1664.9 L624.6,1664.5 L625.0,1664.1 L625.5,1663.8 L626.0,1663.4 L626.4,1663.0 L626.9,1662.7 L627.3,1662.3 L627.8,1661.9 L628.3,1661.6 L628.7,1661.2 L629.2,1660.8 L629.6,1660.5 L630.1,1660.1 L630.6,1659.7 L631.0,1659.3 L631.5,1659.0 L631.9,1658.6 L632.4,1658.2 L632.8,1657.8 L633.3,1657.4 L633.7,1657.1 L634.1,1656.7 L634.6,1656.3 L635.0,1655.9 L635.5,1655.5 L635.9,1655.1 L636.4,1654.7 L636.8,1654.4 L637.2,1654.0 L637.7,1653.6 L638.1,1653.2 L638.5,1652.8 L639.0,1652.4 L639.4,1652.0 L639.8,1651.6 L640.2,1651.2 L640.7,1650.8 L641.1,1650.4 L641.5,1650.0 L641.9,1649.6 L642.4,1649.2 L642.8,1648.7 L643.2,1648.3 L643.6,1647.9 L644.0,1647.5 L644.4,1647.1 L644.8,1646.7 L645.3,1646.2 L645.7,1645.8 L646.1,1645.4 L646.5,1645.0 L646.9,1644.5 L647.3,1644.1 L647.7,1643.7 L648.1,1643.3 L648.5,1642.8 L648.9,1642.4 L649.3,1642.0 L649.7,1641.5 L650.0,1641.1 L650.4,1640.6 L650.8,1640.2 L651.2,1639.8 L651.6,1639.3 L652.0,1638.9 L652.4,1638.4 L652.7,1638.0 L653.1,1637.5 L653.5,1637.1 L653.9,1636.6 L654.2,1636.2 L654.6,1635.7 L655.0,1635.3 L655.4,1634.8 L655.7,1634.4 L656.1,1633.9 L656.5,1633.4 L656.8,1633.0 L657.2,1632.5 L657.6,1632.0 L657.9,1631.6 L658.3,1631.1 L658.6,1630.6 L659.0,1630.2 L659.3,1629.7 L659.7,1629.2 L660.0,1628.8 L660.4,1628.3 L660.7,1627.8 L661.1,1627.3 L661.4,1626.8 L661.8,1626.4 L662.1,1625.9 L662.5,1625.4 L662.8,1624.9 L663.2,1624.4 L663.5,1623.9 L663.8,1623.5 L664.2,1623.0 L664.5,1622.5 L664.8,1622.0 L665.2,1621.5 L665.5,1621.0 L665.8,1620.5 L666.2,1620.0 L666.5,1619.5 L666.8,1619.0 L667.1,1618.5 L667.5,1618.0 L667.8,1617.5 L668.1,1617.0 L668.4,1616.5 L668.7,1616.0 L669.0,1615.5 L669.4,1615.0 L669.7,1614.5 L670.0,1614.0 L670.3,1613.5 L670.6,1613.0 L670.9,1612.5 L671.2,1612.0 L671.5,1611.5 L671.8,1610.9 L672.1,1610.4 L672.4,1609.9 L672.7,1609.4 L673.0,1608.9 L673.3,1608.4 L673.6,1607.8 L673.9,1607.3 L674.2,1606.8 L674.5,1606.3 L674.8,1605.8 L675.1,1605.2 L675.4,1604.7 L675.7,1604.2 L676.0,1603.7 L676.3,1603.1 L676.5,1602.6 L676.8,1602.1 L677.1,1601.6 L677.4,1601.0 L677.7,1600.5 L677.9,1600.0 L678.2,1599.4 L678.5,1598.9 L678.8,1598.4 L679.1,1597.8 L679.3,1597.3 L679.6,1596.8 L679.9,1596.2 L680.1,1595.7 L680.4,1595.1 L680.7,1594.6 L680.9,1594.1 L681.2,1593.5 L681.5,1593.0 L681.7,1592.4 L682.0,1591.9 L682.3,1591.4 L682.5,1590.8 L682.8,1590.3 L683.0,1589.7 L683.3,1589.2 L683.5,1588.6 L683.8,1588.1 L684.0,1587.5 L684.3,1587.0 L684.5,1586.5 L684.8,1585.9 L685.0,1585.4 L685.3,1584.8 L685.5,1584.3 L685.8,1583.7 L686.0,1583.1 L686.3,1582.6 L686.5,1582.0 L686.8,1581.5 L687.0,1580.9 L687.2,1580.4 L687.5,1579.8 L687.7,1579.3 L687.9,1578.7 L688.2,1578.2 L688.4,1577.6 L688.6,1577.0 L688.9,1576.5 L689.1,1575.9 L689.3,1575.4 L689.6,1574.8 L689.8,1574.3 L690.0,1573.7 L690.2,1573.1 L690.5,1572.6 L690.7,1572.0 L690.9,1571.5 L691.1,1570.9 L691.3,1570.3 L691.6,1569.8 L691.8,1569.2 L692.0,1568.6 L692.2,1568.1 L692.4,1567.5 L692.6,1567.0 L692.9,1566.4 L693.1,1565.8 L693.3,1565.3 L693.5,1564.7 L693.7,1564.1 L693.9,1563.6 L694.1,1563.0 L694.3,1562.4 L694.5,1561.9 L694.7,1561.3 L694.9,1560.7 L695.1,1560.2 L695.3,1559.6 L695.5,1559.0 L695.7,1558.5 L695.9,1557.9 L696.1,1557.3 L696.3,1556.8 L696.5,1556.2 L696.7,1555.6 L696.9,1555.1 L697.1,1554.5" fill="none" stroke="#000" stroke-width="4.5"/>
<path d="M268.8,1823.1 L269.9,1823.0 L271.0,1822.9 L272.1,1822.8 L273.1,1822.7 L274.2,1822.6 L275.3,1822.5 L276.4,1822.5 L277.5,1822.4 L278.6,1822.3 L279.7,1822.2 L280.8,1822.1 L281.9,1822.1 L282.9,1822.0 L284.0,1821.9 L285.1,1821.8 L286.2,1821.8 L287.3,1821.7 L288.4,1821.6 L289.5,1821.5 L290.6,1821.5 L291.7,1821.4 L292.8,1821.3 L293.9,1821.3 L295.0,1821.2 L296.1,1821.1 L297.2,1821.1 L298.3,1821.0 L299.4,1821.0 L300.5,1820.9 L301.6,1820.8 L302.7,1820.8 L303.8,1820.7 L304.9,1820.7 L306.0,1820.6 L307.1,1820.5 L308.2,1820.5 L309.3,1820.4 L310.4,1820.4 L311.5,1820.3 L312.6,1820.3 L313.7,1820.2 L314.8,1820.2 L315.9,1820.1 L317.0,1820.1 L318.1,1820.0 L319.2,1819.9 L320.3,1819.9 L321.4,1819.8 L322.5,1819.8 L323.6,1819.7 L324.7,1819.7 L325.8,1819.6 L326.9,1819.6 L328.0,1819.5 L329.1,1819.5 L330.2,1819.4 L331.3,1819.4 L332.4,1819.3 L333.5,1819.3 L334.6,1819.2 L335.7,1819.2 L336.8,1819.1 L337.9,1819.1 L339.0,1819.0 L340.1,1819.0 L341.2,1818.9 L342.3,1818.9 L343.4,1818.8 L344.6,1818.7 L345.7,1818.7 L346.8,1818.6 L347.9,1818.6 L349.0,1818.5 L350.1,1818.5 L351.2,1818.4 L352.3,1818.3 L353.4,1818.3 L354.5,1818.2 L355.6,1818.2 L356.7,1818.1 L357.8,1818.0 L358.9,1818.0 L360.0,1817.9 L361.1,1817.8 L362.2,1817.8 L363.3,1817.7 L364.4,1817.6 L365.5,1817.6 L366.6,1817.5 L367.7,1817.4 L368.8,1817.4 L369.9,1817.3 L371.0,1817.2 L372.1,1817.1 L373.2,1817.1 L374.3,1817.0 L375.4,1816.9 L376.5,1816.8 L377.6,1816.7 L378.7,1816.6 L379.8,1816.6 L380.8,1816.5 L381.9,1816.4 L383.0,1816.3 L384.1,1816.2 L385.2,1816.1 L386.3,1816.0 L387.4,1815.9 L388.5,1815.8 L389.6,1815.7 L390.7,1815.6 L391.8,1815.5 L392.9,1815.4 L393.9,1815.3 L395.0,1815.2 L396.1,1815.1 L397.2,1815.0 L398.3,1814.9 L399.4,1814.7 L400.5,1814.6 L401.6,1814.5 L402.6,1814.4 L403.7,1814.2 L404.8,1814.1 L405.9,1814.0 L407.0,1813.9 L408.0,1813.7 L409.1,1813.6 L410.2,1813.4 L411.3,1813.3 L412.4,1813.2 L413.4,1813.0 L414.5,1812.9 L415.6,1812.7 L416.7,1812.6 L417.7,1812.4 L418.8,1812.3 L419.9,1812.1 L421.0,1811.9 L422.0,1811.8 L423.1,1811.6 L424.2,1811.4 L425.2,1811.2 L426.3,1811.1 L427.4,1810.9 L428.4,1810.7 L429.5,1810.5 L430.6,1810.3 L431.6,1810.1 L432.7,1810.0 L433.8,1809.8 L434.8,1809.6 L435.9,1809.4 L436.9,1809.1 L438.0,1808.9 L439.0,1808.7 L440.1,1808.5 L441.2,1808.3 L442.2,1808.1 L443.3,1807.8 L444.3,1807.6 L445.4,1807.4 L446.4,1807.1 L447.5,1806.9 L448.5,1806.7 L449.5,1806.4 L450.6,1806.2 L451.6,1805.9 L452.7,1805.7 L453.7,1805.4 L454.8,1805.1 L455.8,1804.9 L456.8,1804.6 L457.9,1804.3 L458.9,1804.1 L459.9,1803.8 L461.0,1803.5 L462.0,1803.2 L463.0,1802.9 L464.1,1802.6 L465.1,1802.3 L466.1,1802.0 L467.1,1801.7 L468.2,1801.4 L469.2,1801.1 L470.2,1800.7 L471.2,1800.4 L472.2,1800.1 L473.3,1799.8 L474.3,1799.4 L475.3,1799.1 L476.3,1798.7 L477.3,1798.4 L478.3,1798.0 L479.3,1797.7 L480.3,1797.3 L481.3,1796.9 L482.4,1796.6 L483.4,1796.2 L484.4,1795.8 L485.4,1795.4 L486.4,1795.0 L487.4,1794.6 L488.3,1794.2 L489.3,1793.8 L490.3,1793.4 L491.3,1793.0 L492.3,1792.6 L493.3,1792.2 L494.3,1791.8 L495.3,1791.3 L496.3,1790.9 L497.2,1790.4 L498.2,1790.0 L499.2,1789.6 L500.2,1789.1 L501.1,1788.6 L502.1,1788.2 L503.1,1787.7 L504.1,1787.2 L505.0,1786.7 L506.0,1786.3 L507.0,1785.8 L507.9,1785.3 L508.9,1784.8 L509.8,1784.3 L510.8,1783.7 L511.8,1783.2 L512.7,1782.7 L513.7,1782.2 L514.6,1781.6 L515.6,1781.1 L516.5,1780.5 L517.5,1780.0 L518.4,1779.4 L519.3,1778.9 L520.3,1778.3 L521.2,1777.7 L522.2,1777.2 L523.1,1776.6 L524.0,1776.0 L525.0,1775.4 L525.9,1774.8 L526.8,1774.2 L527.7,1773.6 L528.7,1772.9 L529.6,1772.3 L530.5,1771.7 L531.4,1771.0 L532.3,1770.4 L533.2,1769.8 L534.1,1769.1 L535.1,1768.4 L536.0,1767.8 L536.9,1767.1 L537.8,1766.4 L538.7,1765.7 L539.6,1765.0 L540.5,1764.3 L541.4,1763.7 L542.3,1763.0 L543.2,1762.3 L544.0,1761.6 L544.9,1760.8 L545.8,1760.1 L546.7,1759.4 L547.6,1758.7 L548.5,1758.0 L549.4,1757.4 L550.3,1756.7 L551.2,1756.0 L552.1,1755.3 L553.0,1754.6 L553.9,1753.9 L554.7,1753.3 L555.6,1752.6 L556.5,1752.0 L557.4,1751.3 L558.3,1750.7 L559.2,1750.0 L560.1,1749.4 L561.0,1748.8 L562.0,1748.2 L562.9,1747.6 L563.8,1747.1 L564.7,1746.5 L565.6,1746.0 L566.5,1745.4 L567.4,1744.9 L568.4,1744.4 L569.3,1743.9 L570.2,1743.5 L571.2,1743.0 L572.1,1742.6 L573.0,1742.2 L574.0,1741.8 L574.9,1741.4 L575.9,1741.0 L576.8,1740.7 L577.8,1740.4 L578.8,1740.1 L579.7,1739.8 L580.7,1739.6 L581.7,1739.4 L582.7,1739.2 L583.7,1739.0 L584.7,1738.9 L585.7,1738.7 L586.7,1738.7 L587.7,1738.6 L588.7,1738.5 L589.8,1738.5 L590.8,1738.5 L591.8,1738.5 L592.8,1738.6 L593.9,1738.6 L594.9,1738.7 L595.9,1738.8 L597.0,1739.0 L598.0,1739.1 L599.1,1739.3 L600.1,1739.5 L601.2,1739.7 L602.2,1739.9 L603.3,1740.1 L604.3,1740.4 L605.3,1740.6 L606.4,1740.9 L607.4,1741.2 L608.5,1741.6 L609.5,1741.9 L610.6,1742.3 L611.6,1742.6 L612.7,1743.0 L613.7,1743.4 L614.7,1743.8 L615.8,1744.2 L616.8,1744.7 L617.8,1745.1 L618.8,1745.6 L619.9,1746.0 L620.9,1746.5 L621.9,1747.0 L622.9,1747.5 L623.9,1748.0 L624.9,1748.5 L625.9,1749.0 L626.9,1749.6 L627.9,1750.1 L628.9,1750.7 L629.9,1751.2 L630.8,1751.8 L631.8,1752.3 L632.8,1752.9 L633.8,1753.5 L634.8,1754.1 L635.7,1754.7 L636.7,1755.2 L637.7,1755.8 L638.6,1756.4 L639.6,1757.0 L640.6,1757.6 L641.5,1758.2 L642.5,1758.8 L643.5,1759.4 L644.4,1760.0 L645.4,1760.6 L646.4,1761.2 L647.3,1761.8 L648.3,1762.4 L649.3,1763.0 L650.2,1763.6 L651.2,1764.2 L652.2,1764.8 L653.1,1765.4 L654.1,1766.0 L655.1,1766.5 L656.0,1767.1 L657.0,1767.7 L658.0,1768.2 L658.9,1768.8 L659.9,1769.3 L660.9,1769.9 L661.9,1770.4 L662.8,1770.9 L663.8,1771.4 L664.8,1771.9 L665.8,1772.4 L666.8,1772.9 L667.8,1773.4 L668.8,1773.8 L669.8,1774.3 L670.8,1774.7 L671.8,1775.1 L672.8,1775.5 L673.8,1775.9 L674.8,1776.3 L675.8,1776.7 L676.8,1777.1 L677.9,1777.5 L678.9,1777.8 L679.9,1778.2 L680.9,1778.5 L682.0,1778.8 L683.0,1779.1 L684.0,1779.4 L685.1,1779.7 L686.1,1780.0 L687.1,1780.3 L688.2,1780.6 L689.2,1780.8 L690.3,1781.1 L691.3,1781.3 L692.4,1781.6 L693.4,1781.8 L694.5,1782.1 L695.5,1782.3 L696.6,1782.5 L697.6,1782.7 L698.7,1782.9 L699.7,1783.1 L700.8,1783.3 L701.9,1783.5 L702.9,1783.7 L704.0,1783.8 L705.1,1784.0 L706.1,1784.2 L707.2,1784.3 L708.2,1784.5 L709.3,1784.6 L710.4,1784.8 L711.4,1784.9 L712.5,1785.1 L713.6,1785.2 L714.7,1785.4 L715.7,1785.5 L716.8,1785.6 L717.9,1785.7 L718.9,1785.9 L720.0,1786.0 L721.1,1786.1 L722.1,1786.2 L723.2,1786.3 L724.3,1786.4 L725.4,1786.5 L726.4,1786.6 L727.5,1786.7 L728.6,1786.8 L729.7,1786.9 L730.7,1787.0 L731.8,1787.0 L732.9,1787.1 L734.0,1787.2 L735.0,1787.3 L736.1,1787.3 L737.2,1787.4 L738.3,1787.5 L739.3,1787.5 L740.4,1787.6 L741.5,1787.6 L742.6,1787.7 L743.7,1787.7 L744.7,1787.8 L745.8,1787.8 L746.9,1787.8 L748.0,1787.9 L749.1,1787.9 L750.2,1787.9 L751.2,1788.0 L752.3,1788.0 L753.4,1788.0 L754.5,1788.0 L755.6,1788.0 L756.7,1788.1 L757.7,1788.1 L758.8,1788.1 L759.9,1788.1 L761.0,1788.1 L762.1,1788.1 L763.2,1788.1 L764.3,1788.1 L765.3,1788.1 L766.4,1788.1 L767.5,1788.0 L768.6,1788.0 L769.7,1788.0 L770.8,1788.0 L771.9,1788.0 L773.0,1788.0 L774.0,1787.9 L775.1,1787.9 L776.2,1787.9 L777.3,1787.8 L778.4,1787.8 L779.5,1787.8 L780.6,1787.7 L781.7,1787.7 L782.8,1787.6 L783.9,1787.6 L785.0,1787.5 L786.0,1787.5 L787.1,1787.4 L788.2,1787.4 L789.3,1787.3 L790.4,1787.3 L791.5,1787.2 L792.6,1787.2 L793.7,1787.1 L794.8,1787.0 L795.9,1787.0 L797.0,1786.9 L798.1,1786.8 L799.2,1786.8 L800.3,1786.7 L801.4,1786.6 L802.4,1786.5 L803.5,1786.5 L804.6,1786.4 L805.7,1786.3 L806.8,1786.2 L807.9,1786.2 L809.0,1786.1 L810.1,1786.0 L811.2,1785.9 L812.3,1785.8 L813.4,1785.7 L814.5,1785.6 L815.6,1785.5 L816.7,1785.4 L817.8,1785.3 L818.9,1785.3 L820.0,1785.2 L821.1,1785.1 L822.2,1785.0 L823.3,1784.9 L824.4,1784.8 L825.5,1784.7 L826.6,1784.6 L827.7,1784.4 L828.8,1784.3 L829.9,1784.2 L831.0,1784.1 L832.1,1784.0 L833.2,1783.9 L834.3,1783.8 L835.4,1783.7 L836.5,1783.6 L837.6,1783.5 L838.7,1783.4 L839.8,1783.2 L840.9,1783.1 L842.0,1783.0 L843.1,1782.9 L844.1,1782.8 L845.2,1782.7 L846.3,1782.6 L847.4,1782.4 L848.5,1782.3 L849.6,1782.2 L850.7,1782.1 L851.8,1782.0 L852.9,1781.8 L854.0,1781.7 L855.1,1781.6 L856.2,1781.5 L857.3,1781.4 L858.4,1781.2 L859.5,1781.1 L860.6,1781.0 L861.7,1780.9 L862.8,1780.7 L863.9,1780.6 L865.0,1780.5 L866.1,1780.4 L867.2,1780.3 L868.3,1780.1 L869.4,1780.0 L870.5,1779.9 L871.6,1779.8 L872.7,1779.6 L873.8,1779.5 L874.9,1779.4 L876.0,1779.3 L877.1,1779.2 L878.2,1779.0 L879.3,1778.9 L880.4,1778.8 L881.5,1778.7 L882.6,1778.6 L883.7,1778.4 L884.8,1778.3 L885.9,1778.2 L887.0,1778.1 L888.1,1778.0 L889.2,1777.8 L890.3,1777.7 L891.4,1777.6 L892.5,1777.5 L893.6,1777.4 L894.7,1777.3 L895.8,1777.1 L896.9,1777.0 L898.0,1776.9 L899.1,1776.8 L900.1,1776.7 L901.2,1776.6 L902.3,1776.5 L903.4,1776.4 L904.5,1776.2 L905.6,1776.1 L906.7,1776.0 L907.8,1775.9 L908.9,1775.8 L910.0,1775.7 L911.1,1775.6 L912.2,1775.5 L913.3,1775.4 L914.4,1775.3 L915.5,1775.2 L916.6,1775.1 L917.7,1775.0 L918.8,1774.9 L919.8,1774.8 L920.9,1774.7 L922.0,1774.6 L923.1,1774.5 L924.2,1774.4 L925.3,1774.3 L926.4,1774.2 L927.5,1774.1 L928.6,1774.0 L929.7,1773.9 L930.8,1773.8 L931.9,1773.7 L932.9,1773.6 L934.0,1773.6 L935.1,1773.5 L936.2,1773.4 L937.3,1773.3 L938.4,1773.2 L939.5,1773.1 L940.6,1773.0 L941.7,1772.9 L942.8,1772.8 L943.9,1772.8 L944.9,1772.7 L946.0,1772.6 L947.1,1772.5 L948.2,1772.4 L949.3,1772.3 L950.4,1772.2 L951.5,1772.2 L952.6,1772.1 L953.7,1772.0 L954.7,1771.9 L955.8,1771.8 L956.9,1771.7 L958.0,1771.7 L959.1,1771.6 L960.2,1771.5 L961.3,1771.4 L962.4,1771.4 L963.5,1771.3 L964.5,1771.2 L965.6,1771.1 L966.7,1771.0 L967.8,1771.0 L968.9,1770.9 L970.0,1770.8 L971.1,1770.7 L972.2,1770.7 L973.2,1770.6 L974.3,1770.5 L975.4,1770.4 L976.5,1770.4 L977.6,1770.3 L978.7,1770.2 L979.8,1770.1 L980.9,1770.1 L981.9,1770.0 L983.0,1769.9 L984.1,1769.9 L985.2,1769.8 L986.3,1769.7 L987.4,1769.7 L988.5,1769.6 L989.5,1769.5 L990.6,1769.4 L991.7,1769.4 L992.8,1769.3 L993.9,1769.2 L995.0,1769.2 L996.1,1769.1 L997.1,1769.0 L998.2,1769.0 L999.3,1768.9 L1000.4,1768.8 L1001.5,1768.8 L1002.6,1768.7 L1003.7,1768.6 L1004.7,1768.6 L1005.8,1768.5 L1006.9,1768.4 L1008.0,1768.4 L1009.1,1768.3 L1010.2,1768.2 L1011.3,1768.2 L1012.3,1768.1 L1013.4,1768.1 L1014.5,1768.0 L1015.6,1767.9 L1016.7,1767.9 L1017.8,1767.8 L1018.9,1767.7 L1019.9,1767.7 L1021.0,1767.6 L1022.1,1767.6 L1023.2,1767.5 L1024.3,1767.4 L1025.4,1767.4 L1026.5,1767.3 L1027.5,1767.2 L1028.6,1767.2 L1029.7,1767.1 L1030.8,1767.1 L1031.9,1767.0 L1033.0,1766.9 L1034.0,1766.9 L1035.1,1766.8 L1036.2,1766.7 L1037.3,1766.7 L1038.4,1766.6 L1039.5,1766.6 L1040.6,1766.5 L1041.6,1766.4 L1042.7,1766.4 L1043.8,1766.3 L1044.9,1766.3 L1046.0,1766.2 L1047.1,1766.1 L1048.1,1766.1 L1049.2,1766.0 L1050.3,1766.0 L1051.4,1765.9 L1052.5,1765.8 L1053.6,1765.8 L1054.7,1765.7 L1055.7,1765.7 L1056.8,1765.6 L1057.9,1765.5 L1059.0,1765.5 L1060.1,1765.4 L1061.2,1765.4 L1062.3,1765.3 L1063.3,1765.2 L1064.4,1765.2 L1065.5,1765.1 L1066.6,1765.0 L1067.7,1765.0 L1068.8,1764.9 L1069.8,1764.9 L1070.9,1764.8 L1072.0,1764.7 L1073.1,1764.7 L1074.2,1764.6 L1075.3,1764.6 L1076.4,1764.5 L1077.4,1764.4 L1078.5,1764.4 L1079.6,1764.3 L1080.7,1764.2 L1081.8,1764.2 L1082.9,1764.1 L1084.0,1764.1 L1085.0,1764.0 L1086.1,1763.9 L1087.2,1763.9 L1088.3,1763.8 L1089.4,1763.7 L1090.5,1763.7 L1091.6,1763.6 L1092.6,1763.5 L1093.7,1763.5 L1094.8,1763.4 L1095.9,1763.4 L1097.0,1763.3 L1098.1,1763.2 L1099.2,1763.2 L1100.2,1763.1 L1101.3,1763.0 L1102.4,1763.0 L1103.5,1762.9 L1104.6,1762.8 L1105.7,1762.8 L1106.8,1762.7 L1107.9,1762.6 L1108.9,1762.6 L1110.0,1762.5 L1111.1,1762.4 L1112.2,1762.3 L1113.3,1762.3 L1114.4,1762.2 L1115.5,1762.1 L1116.5,1762.1 L1117.6,1762.0 L1118.7,1761.9 L1119.8,1761.9 L1120.9,1761.8 L1122.0,1761.7 L1123.1,1761.6 L1124.2,1761.6 L1125.3,1761.5 L1126.3,1761.4 L1127.4,1761.3 L1128.5,1761.3 L1129.6,1761.2 L1130.7,1761.1 L1131.8,1761.1 L1132.9,1761.0 L1134.0,1760.9 L1135.1,1760.8 L1136.1,1760.7 L1137.2,1760.7 L1138.3,1760.6 L1139.4,1760.5 L1140.5,1760.4 L1141.6,1760.4 L1142.7,1760.3 L1143.8,1760.2 L1144.9,1760.1 L1145.9,1760.0 L1147.0,1760.0 L1148.1,1759.9 L1149.2,1759.8 L1150.3,1759.7 L1151.4,1759.6 L1152.5,1759.5 L1153.6,1759.5 L1154.7,1759.4 L1155.8,1759.3 L1156.9,1759.2 L1157.9,1759.1 L1159.0,1759.0 L1160.1,1758.9 L1161.2,1758.9 L1162.3,1758.8 L1163.4,1758.7 L1164.5,1758.6 L1165.6,1758.5 L1166.7,1758.4 L1167.8,1758.3 L1168.9,1758.2 L1170.0,1758.1 L1171.1,1758.0 L1172.1,1758.0 L1173.2,1757.9 L1174.3,1757.8 L1175.4,1757.7 L1176.5,1757.6 L1177.6,1757.5 L1178.7,1757.4 L1179.8,1757.3 L1180.9,1757.2 L1182.0,1757.1 L1183.1,1757.0 L1184.2,1756.9 L1185.3,1756.8 L1186.4,1756.7 L1187.5,1756.6 L1188.6,1756.5 L1189.7,1756.4 L1190.8,1756.3 L1191.9,1756.2 L1193.0,1756.1 L1194.0,1756.0 L1195.1,1755.8 L1196.2,1755.7 L1197.3,1755.6 L1198.4,1755.5 L1199.5,1755.4 L1200.6,1755.3 L1201.7,1755.2 L1202.8,1755.1 L1203.9,1755.0 L1205.0,1754.9 L1206.1,1754.7 L1207.2,1754.6 L1208.3,1754.5 L1209.4,1754.4 L1210.5,1754.3 L1211.6,1754.2 L1212.7,1754.0 L1213.8,1753.9 L1214.9,1753.8 L1216.0,1753.7 L1217.1,1753.6 L1218.2,1753.4 L1219.3,1753.3 L1220.4,1753.2" fill="none" stroke="#ff7f00" stroke-width="5.4"/>
<path d="M268.9,1817.6 L270.6,1817.5 L272.4,1817.4 L274.1,1817.3 L275.8,1817.1 L277.5,1817.0 L279.2,1816.9 L281.0,1816.8 L282.7,1816.6 L284.4,1816.5 L286.1,1816.4 L287.8,1816.2 L289.5,1816.1 L291.2,1815.9 L292.9,1815.8 L294.6,1815.7 L296.3,1815.5 L298.0,1815.4 L299.7,1815.2 L301.3,1815.1 L303.0,1814.9 L304.7,1814.7 L306.4,1814.6 L308.1,1814.4 L309.8,1814.3 L311.4,1814.1 L313.1,1813.9 L314.8,1813.7 L316.5,1813.6 L318.1,1813.4 L319.8,1813.2 L321.5,1813.1 L323.1,1812.9 L324.8,1812.7 L326.5,1812.5 L328.1,1812.3 L329.8,1812.1 L331.4,1812.0 L333.1,1811.8 L334.8,1811.6 L336.4,1811.4 L338.1,1811.2 L339.7,1811.0 L341.4,1810.8 L343.0,1810.6 L344.7,1810.4 L346.3,1810.2 L348.0,1810.0 L349.6,1809.8 L351.3,1809.6 L352.9,1809.4 L354.6,1809.2 L356.2,1808.9 L357.8,1808.7 L359.5,1808.5 L361.1,1808.3 L362.8,1808.1 L364.4,1807.9 L366.1,1807.7 L367.7,1807.4 L369.3,1807.2 L371.0,1807.0 L372.6,1806.8 L374.3,1806.6 L375.9,1806.3 L377.5,1806.1 L379.2,1805.9 L380.8,1805.6 L382.5,1805.4 L384.1,1805.2 L385.7,1805.0 L387.4,1804.7 L389.0,1804.5 L390.7,1804.3 L392.3,1804.0 L393.9,1803.8 L395.6,1803.5 L397.2,1803.3 L398.9,1803.1 L400.5,1802.8 L402.1,1802.6 L403.8,1802.3 L405.4,1802.1 L407.1,1801.9 L408.7,1801.6 L410.3,1801.4 L412.0,1801.1 L413.6,1800.9 L415.3,1800.6 L416.9,1800.4 L418.6,1800.1 L420.2,1799.9 L421.9,1799.6 L423.5,1799.4 L425.2,1799.1 L426.8,1798.9 L428.5,1798.6 L430.1,1798.4 L431.8,1798.1 L433.4,1797.9 L435.1,1797.6 L436.7,1797.4 L438.4,1797.1 L440.1,1796.9 L441.7,1796.6 L443.4,1796.4 L445.0,1796.1 L446.7,1795.9 L448.4,1795.6 L450.0,1795.4 L451.7,1795.1 L453.4,1794.8 L455.1,1794.6 L456.7,1794.3 L458.4,1794.1 L460.1,1793.8 L461.8,1793.6 L463.4,1793.3 L465.1,1793.1 L466.8,1792.8 L468.5,1792.5 L470.2,1792.3 L471.9,1792.0 L473.6,1791.8 L475.3,1791.5 L477.0,1791.3 L478.7,1791.0 L480.3,1790.7 L482.0,1790.5 L483.7,1790.2 L485.4,1789.9 L487.1,1789.6 L488.8,1789.4 L490.5,1789.1 L492.2,1788.8 L493.9,1788.5 L495.6,1788.2 L497.3,1787.9 L499.0,1787.6 L500.6,1787.3 L502.3,1786.9 L504.0,1786.6 L505.7,1786.3 L507.3,1785.9 L509.0,1785.6 L510.7,1785.2 L512.3,1784.8 L514.0,1784.4 L515.6,1784.1 L517.3,1783.7 L518.9,1783.2 L520.6,1782.8 L522.2,1782.4 L523.8,1781.9 L525.4,1781.5 L527.0,1781.0 L528.7,1780.5 L530.3,1780.0 L531.8,1779.5 L533.4,1779.0 L535.0,1778.4 L536.6,1777.9 L538.1,1777.3 L539.7,1776.7 L541.2,1776.1 L542.8,1775.5 L544.3,1774.9 L545.8,1774.2 L547.3,1773.5 L548.8,1772.9 L550.3,1772.2 L551.8,1771.5 L553.3,1770.8 L554.8,1770.0 L556.3,1769.3 L557.7,1768.5 L559.2,1767.8 L560.6,1767.0 L562.1,1766.2 L563.5,1765.4 L564.9,1764.5 L566.3,1763.7 L567.7,1762.9 L569.1,1762.0 L570.5,1761.1 L571.9,1760.2 L573.3,1759.3 L574.6,1758.4 L576.0,1757.5 L577.3,1756.6 L578.7,1755.6 L580.0,1754.7 L581.4,1753.7 L582.7,1752.7 L584.0,1751.7 L585.3,1750.7 L586.6,1749.7 L587.9,1748.7 L589.2,1747.6 L590.4,1746.6 L591.7,1745.5 L593.0,1744.5 L594.2,1743.4 L595.4,1742.3 L596.7,1741.2 L597.9,1740.1 L599.1,1739.0 L600.3,1737.8 L601.5,1736.7 L602.7,1735.5 L603.9,1734.4 L605.1,1733.2 L606.3,1732.0 L607.5,1730.9 L608.6,1729.7 L609.8,1728.5 L610.9,1727.2 L612.1,1726.0 L613.2,1724.8 L614.3,1723.6 L615.4,1722.3 L616.5,1721.1 L617.6,1719.8 L618.7,1718.5 L619.8,1717.2 L620.9,1716.0 L621.9,1714.7 L623.0,1713.4 L624.0,1712.1 L625.1,1710.7 L626.1,1709.4 L627.2,1708.1 L628.2,1706.8 L629.2,1705.4 L630.2,1704.1 L631.2,1702.7 L632.2,1701.3 L633.2,1700.0 L634.2,1698.6 L635.1,1697.2 L636.1,1695.8 L637.1,1694.4 L638.0,1693.0 L638.9,1691.6 L639.9,1690.2 L640.8,1688.8 L641.7,1687.4 L642.6,1685.9 L643.5,1684.5 L644.4,1683.1 L645.3,1681.6 L646.2,1680.2 L647.1,1678.7 L647.9,1677.3 L648.8,1675.8 L649.6,1674.4 L650.5,1672.9 L651.3,1671.4 L652.1,1670.0 L653.0,1668.5 L653.8,1667.0 L654.6,1665.5 L655.4,1664.0 L656.2,1662.5 L657.0,1661.0 L657.7,1659.5 L658.5,1658.0 L659.3,1656.5 L660.0,1655.0 L660.8,1653.5 L661.5,1652.0 L662.3,1650.5 L663.0,1649.0 L663.7,1647.4 L664.4,1645.9 L665.1,1644.4 L665.8,1642.8 L666.5,1641.3 L667.2,1639.8 L667.9,1638.2 L668.6,1636.7 L669.2,1635.1 L669.9,1633.6 L670.6,1632.1 L671.2,1630.5 L671.9,1628.9 L672.5,1627.4 L673.2,1625.8 L673.8,1624.3 L674.4,1622.7 L675.0,1621.1 L675.7,1619.6 L676.3,1618.0 L676.9,1616.4 L677.5,1614.9 L678.1,1613.3 L678.7,1611.7 L679.2,1610.1 L679.8,1608.6 L680.4,1607.0 L681.0,1605.4 L681.5,1603.8 L682.1,1602.2 L682.7,1600.6 L683.2,1599.0 L683.8,1597.4 L684.3,1595.8 L684.9,1594.3 L685.4,1592.7 L686.0,1591.1 L686.5,1589.5 L687.0,1587.9 L687.5,1586.3 L688.1,1584.7 L688.6,1583.0 L689.1,1581.4 L689.6,1579.8 L690.1,1578.2 L690.6,1576.6 L691.1,1575.0 L691.6,1573.4 L692.1,1571.8 L692.6,1570.2 L693.1,1568.6 L693.6,1567.0 L694.1,1565.3 L694.6,1563.7 L695.1,1562.1 L695.5,1560.5 L696.0,1558.9 L696.5,1557.3 L697.0,1555.6 L697.4,1554.0 L697.9,1552.4 L698.4,1550.8 L698.8,1549.2 L699.3,1547.5 L699.8,1545.9 L700.2,1544.3 L700.7,1542.7 L701.2,1541.1 L701.6,1539.4 L702.1,1537.8 L702.5,1536.2 L703.0,1534.6 L703.4,1533.0 L703.9,1531.3 L704.4,1529.7 L704.8,1528.1 L705.3,1526.5 L705.7,1524.9 L706.2,1523.3 L706.6,1521.6 L707.1,1520.0 L707.5,1518.4 L708.0,1516.8 L708.4,1515.2 L708.9,1513.6 L709.3,1511.9 L709.8,1510.3 L710.2,1508.7 L710.7,1507.1 L711.1,1505.5 L711.6,1503.9 L712.0,1502.3 L712.5,1500.7 L712.9,1499.0 L713.4,1497.4 L713.8,1495.8 L714.3,1494.2 L714.8,1492.6 L715.2,1491.0 L715.7,1489.4 L716.1,1487.8 L716.6,1486.2 L717.1,1484.6 L717.5,1483.0 L718.0,1481.4 L718.5,1479.8 L718.9,1478.3 L719.4,1476.7 L719.9,1475.1 L720.4,1473.5 L720.8,1471.9 L721.3,1470.3 L721.8,1468.7 L722.3,1467.2 L722.8,1465.6 L723.3,1464.0 L723.8,1462.4 L724.3,1460.9 L724.8,1459.3 L725.3,1457.7 L725.8,1456.1 L726.3,1454.6 L726.8,1453.0 L727.3,1451.5 L727.8,1449.9 L728.4,1448.3 L728.9,1446.8 L729.4,1445.2 L729.9,1443.7 L730.5,1442.1 L731.0,1440.6 L731.6,1439.1 L732.1,1437.5 L732.7,1436.0 L733.2,1434.4 L733.8,1432.9 L734.3,1431.4 L734.9,1429.8 L735.5,1428.3 L736.0,1426.8 L736.6,1425.2 L737.2,1423.7 L737.8,1422.2 L738.3,1420.6 L738.9,1419.1 L739.5,1417.5 L740.1,1416.0 L740.7,1414.5 L741.3,1412.9 L741.9,1411.4 L742.5,1409.8 L743.1,1408.3 L743.7,1406.7 L744.3,1405.2 L744.9,1403.6 L745.5,1402.0 L746.1,1400.5 L746.8,1398.9 L747.4,1397.3 L748.0,1395.7 L748.6,1394.2 L749.3,1392.6 L749.9,1391.0 L750.5,1389.4 L751.2,1387.8 L751.8,1386.2 L752.4,1384.6 L753.1,1382.9 L753.7,1381.3 L754.4,1379.7 L755.0,1378.0 L755.6,1376.4 L756.3,1374.7 L756.9,1373.1 L757.6,1371.4 L758.3,1369.7 L758.9,1368.1 L759.6,1366.4 L760.2,1364.7 L760.9,1363.0 L761.6,1361.3 L762.2,1359.5 L762.9,1357.8 L763.6,1356.1 L764.3,1354.4 L765.0,1352.7 L765.7,1351.0 L766.4,1349.3 L767.1,1347.6 L767.9,1346.0 L768.7,1344.4 L769.4,1342.8 L770.2,1341.2 L771.1,1339.6 L771.9,1338.1 L772.8,1336.7 L773.7,1335.2 L774.6,1333.8 L775.6,1332.5 L776.6,1331.1 L777.6,1329.9 L778.7,1328.7 L779.7,1327.5 L780.9,1326.4 L782.0,1325.4 L783.2,1324.4 L784.4,1323.5 L785.7,1322.7 L786.9,1322.0 L788.2,1321.4 L789.5,1320.8 L790.9,1320.4 L792.2,1320.1 L793.5,1320.0 L794.9,1319.9 L796.3,1319.9 L797.6,1320.1 L799.0,1320.3 L800.3,1320.7 L801.7,1321.1 L803.1,1321.6 L804.4,1322.2 L805.7,1322.8 L807.1,1323.6 L808.4,1324.4 L809.7,1325.3 L811.0,1326.2 L812.3,1327.2 L813.5,1328.3 L814.7,1329.4 L815.9,1330.5 L817.1,1331.7 L818.3,1333.0 L819.4,1334.3 L820.5,1335.6 L821.5,1336.9 L822.5,1338.3 L823.5,1339.7 L824.4,1341.1 L825.4,1342.5 L826.2,1343.9 L827.1,1345.4 L827.9,1346.9 L828.7,1348.4 L829.4,1349.9 L830.1,1351.4 L830.8,1353.0 L831.5,1354.5 L832.2,1356.1 L832.8,1357.7 L833.4,1359.3 L834.0,1360.9 L834.6,1362.5 L835.2,1364.1 L835.8,1365.7 L836.3,1367.3 L836.9,1368.9 L837.4,1370.6 L837.9,1372.2 L838.5,1373.8 L839.0,1375.5 L839.5,1377.1 L840.0,1378.8 L840.5,1380.4 L841.1,1382.0 L841.6,1383.7 L842.1,1385.3 L842.7,1386.9 L843.2,1388.5 L843.7,1390.2 L844.3,1391.8 L844.8,1393.4 L845.4,1395.0 L845.9,1396.6 L846.5,1398.2 L847.0,1399.8 L847.6,1401.5 L848.1,1403.1 L848.7,1404.7 L849.3,1406.3 L849.8,1407.9 L850.4,1409.5 L851.0,1411.0 L851.5,1412.6 L852.1,1414.2 L852.7,1415.8 L853.2,1417.4 L853.8,1419.0 L854.4,1420.6 L855.0,1422.2 L855.5,1423.8 L856.1,1425.3 L856.7,1426.9 L857.3,1428.5 L857.8,1430.1 L858.4,1431.7 L859.0,1433.2 L859.6,1434.8 L860.1,1436.4 L860.7,1438.0 L861.3,1439.5 L861.9,1441.1 L862.4,1442.7 L863.0,1444.3 L863.6,1445.8 L864.1,1447.4 L864.7,1449.0 L865.3,1450.6 L865.8,1452.1 L866.4,1453.7 L867.0,1455.3 L867.5,1456.8 L868.1,1458.4 L868.7,1460.0 L869.2,1461.6 L869.8,1463.1 L870.3,1464.7 L870.9,1466.3 L871.4,1467.8 L872.0,1469.4 L872.5,1471.0 L873.1,1472.6 L873.6,1474.1 L874.2,1475.7 L874.7,1477.3 L875.2,1478.9 L875.8,1480.4 L876.3,1482.0 L876.8,1483.6 L877.3,1485.2 L877.8,1486.8 L878.4,1488.3 L878.9,1489.9 L879.4,1491.5 L879.9,1493.1 L880.4,1494.7 L880.9,1496.3 L881.4,1497.9 L881.9,1499.4 L882.4,1501.0 L882.8,1502.6 L883.3,1504.2 L883.8,1505.8 L884.3,1507.4 L884.8,1509.0 L885.3,1510.6 L885.8,1512.2 L886.2,1513.8 L886.7,1515.4 L887.2,1517.0 L887.7,1518.6 L888.1,1520.1 L888.6,1521.7 L889.1,1523.3 L889.6,1524.9 L890.0,1526.5 L890.5,1528.1 L891.0,1529.7 L891.5,1531.3 L891.9,1532.9 L892.4,1534.5 L892.9,1536.1 L893.3,1537.7 L893.8,1539.3 L894.3,1540.9 L894.8,1542.5 L895.2,1544.1 L895.7,1545.7 L896.2,1547.3 L896.7,1548.9 L897.2,1550.5 L897.6,1552.1 L898.1,1553.7 L898.6,1555.3 L899.1,1556.9 L899.6,1558.5 L900.1,1560.1 L900.6,1561.7 L901.1,1563.3 L901.6,1564.9 L902.1,1566.5 L902.6,1568.1 L903.1,1569.7 L903.6,1571.3 L904.1,1572.9 L904.6,1574.4 L905.1,1576.0 L905.7,1577.6 L906.2,1579.2 L906.7,1580.8 L907.2,1582.4 L907.8,1584.0 L908.3,1585.6 L908.9,1587.2 L909.4,1588.8 L910.0,1590.3 L910.5,1591.9 L911.1,1593.5 L911.7,1595.1 L912.2,1596.7 L912.8,1598.3 L913.4,1599.9 L914.0,1601.4 L914.6,1603.0 L915.1,1604.6 L915.7,1606.2 L916.4,1607.8 L917.0,1609.3 L917.6,1610.9 L918.2,1612.5 L918.8,1614.1 L919.5,1615.6 L920.1,1617.2 L920.8,1618.8 L921.4,1620.3 L922.1,1621.9 L922.7,1623.5 L923.4,1625.0 L924.1,1626.6 L924.8,1628.2 L925.5,1629.7 L926.2,1631.3 L926.9,1632.8 L927.6,1634.4 L928.3,1635.9 L929.1,1637.5 L929.8,1639.0 L930.6,1640.6 L931.3,1642.1 L932.1,1643.7 L932.8,1645.2 L933.6,1646.8 L934.4,1648.3 L935.2,1649.8 L936.0,1651.4 L936.8,1652.9 L937.6,1654.4 L938.5,1655.9 L939.3,1657.5 L940.2,1659.0 L941.0,1660.5 L941.9,1662.0 L942.8,1663.5 L943.6,1664.9 L944.5,1666.4 L945.4,1667.9 L946.3,1669.3 L947.2,1670.8 L948.2,1672.2 L949.1,1673.7 L950.1,1675.1 L951.0,1676.5 L952.0,1678.0 L952.9,1679.4 L953.9,1680.7 L954.9,1682.1 L955.9,1683.5 L956.9,1684.9 L958.0,1686.2 L959.0,1687.6 L960.0,1688.9 L961.1,1690.2 L962.1,1691.5 L963.2,1692.8 L964.3,1694.1 L965.4,1695.3 L966.5,1696.6 L967.6,1697.8 L968.7,1699.0 L969.8,1700.2 L971.0,1701.4 L972.1,1702.6 L973.3,1703.8 L974.5,1704.9 L975.7,1706.0 L976.9,1707.2 L978.1,1708.3 L979.3,1709.3 L980.5,1710.4 L981.7,1711.4 L983.0,1712.5 L984.3,1713.5 L985.5,1714.5 L986.8,1715.4 L988.1,1716.4 L989.4,1717.3 L990.7,1718.2 L992.1,1719.1 L993.4,1720.0 L994.7,1720.9 L996.1,1721.7 L997.5,1722.5 L998.9,1723.3 L1000.2,1724.1 L1001.6,1724.8 L1003.1,1725.6 L1004.5,1726.3 L1005.9,1727.0 L1007.3,1727.7 L1008.8,1728.4 L1010.3,1729.0 L1011.7,1729.7 L1013.2,1730.3 L1014.7,1730.9 L1016.2,1731.5 L1017.7,1732.1 L1019.2,1732.6 L1020.7,1733.2 L1022.2,1733.7 L1023.8,1734.2 L1025.3,1734.7 L1026.9,1735.2 L1028.4,1735.7 L1030.0,1736.1 L1031.6,1736.6 L1033.2,1737.0 L1034.7,1737.4 L1036.3,1737.8 L1037.9,1738.2 L1039.5,1738.6 L1041.2,1739.0 L1042.8,1739.3 L1044.4,1739.6 L1046.0,1740.0 L1047.7,1740.3 L1049.3,1740.6 L1051.0,1740.9 L1052.6,1741.2 L1054.3,1741.4 L1056.0,1741.7 L1057.6,1741.9 L1059.3,1742.2 L1061.0,1742.4 L1062.7,1742.6 L1064.4,1742.8 L1066.1,1743.0 L1067.8,1743.2 L1069.5,1743.4 L1071.2,1743.5 L1072.9,1743.7 L1074.6,1743.8 L1076.3,1744.0 L1078.0,1744.1 L1079.7,1744.2 L1081.5,1744.4 L1083.2,1744.5 L1084.9,1744.6 L1086.7,1744.7 L1088.4,1744.8 L1090.1,1744.8 L1091.9,1744.9 L1093.6,1745.0 L1095.4,1745.0 L1097.1,1745.1 L1098.9,1745.2 L1100.6,1745.2 L1102.4,1745.2 L1104.1,1745.3 L1105.9,1745.3 L1107.6,1745.3 L1109.4,1745.3 L1111.1,1745.4 L1112.9,1745.4 L1114.7,1745.4 L1116.4,1745.4 L1118.2,1745.4 L1119.9,1745.4 L1121.7,1745.4 L1123.4,1745.4 L1125.2,1745.4 L1126.9,1745.3 L1128.7,1745.3 L1130.5,1745.3 L1132.2,1745.3 L1134.0,1745.3 L1135.7,1745.2 L1137.5,1745.2 L1139.2,1745.2 L1140.9,1745.2 L1142.7,1745.1 L1144.4,1745.1 L1146.2,1745.1 L1147.9,1745.0 L1149.6,1745.0 L1151.4,1745.0 L1153.1,1745.0 L1154.8,1744.9 L1156.5,1744.9 L1158.3,1744.9 L1160.0,1744.9 L1161.7,1744.8 L1163.4,1744.8 L1165.1,1744.8 L1166.8,1744.8 L1168.5,1744.8 L1170.2,1744.8 L1171.9,1744.8 L1173.5,1744.7 L1175.2,1744.7 L1176.9,1744.7 L1178.6,1744.8 L1180.2,1744.8 L1181.9,1744.8 L1183.5,1744.8 L1185.2,1744.8 L1186.8,1744.8 L1188.5,1744.9 L1190.1,1744.9 L1191.7,1744.9 L1193.3,1745.0 L1194.9,1745.0 L1196.5,1745.1 L1198.1,1745.2 L1199.7,1745.2 L1201.3,1745.3 L1202.9,1745.4 L1204.5,1745.5 L1206.0,1745.6 L1207.6,1745.7 L1209.1,1745.8 L1210.7,1745.9 L1212.2,1746.1 L1213.7,1746.2 L1215.2,1746.3 L1216.7,1746.5 L1218.2,1746.7 L1219.7,1746.8" fill="none" stroke="#8000ff" stroke-width="5.4"/>
<g stroke="#000" stroke-width="3.6" fill="none">
<line x1="532.3" y1="274" x2="532.3" y2="1793" stroke-dasharray="23.5 23.2"/>
<line x1="774.6" y1="143" x2="774.6" y2="1849" stroke-dasharray="23.5 23.2"/>
</g>
<rect x="172" y="22.75" width="1399" height="1809.75" fill="none" stroke="#000" stroke-width="5.6"/>
<g stroke="#000" fill="none">
<line x1="172.0" y1="1832" x2="172.0" y2="1860" stroke-width="5"/>
<line x1="265.3" y1="1832" x2="265.3" y2="1847" stroke-width="4"/>
<line x1="358.5" y1="1832" x2="358.5" y2="1847" stroke-width="4"/>
<line x1="451.8" y1="1832" x2="451.8" y2="1847" stroke-width="4"/>
<line x1="545.1" y1="1832" x2="545.1" y2="1847" stroke-width="4"/>
<line x1="638.3" y1="1832" x2="638.3" y2="1860" stroke-width="5"/>
<line x1="731.6" y1="1832" x2="731.6" y2="1847" stroke-width="4"/>
<line x1="824.9" y1="1832" x2="824.9" y2="1847" stroke-width="4"/>
<line x1="918.1" y1="1832" x2="918.1" y2="1847" stroke-width="4"/>
<line x1="1011.4" y1="1832" x2="1011.4" y2="1847" stroke-width="4"/>
<line x1="1104.7" y1="1832" x2="1104.7" y2="1860" stroke-width="5"/>
<line x1="1197.9" y1="1832" x2="1197.9" y2="1847" stroke-width="4"/>
<line x1="1291.2" y1="1832" x2="1291.2" y2="1847" stroke-width="4"/>
<line x1="1384.5" y1="1832" x2="1384.5" y2="1847" stroke-width="4"/>
<line x1="1477.7" y1="1832" x2="1477.7" y2="1847" stroke-width="4"/>
<line x1="1571.0" y1="1832" x2="1571.0" y2="1860" stroke-width="5"/>
</g>
<g font-family="Liberation Sans, Arial, sans-serif" font-weight="bold" fill="#000">
<g transform="matrix(0.9122 0 0 1.0319 200.55 139.90)"><text font-size="100">O1s</text><rect x="82.28" y="-11.00" width="18.45" height="12.80" fill="#fbfbfb"/><rect x="114.83" y="-11.00" width="17.45" height="12.80" fill="#fbfbfb"/></g>
<g transform="matrix(0.8500 0 0 1.0408 516.60 243.50)"><text font-size="102">I</text></g>
<g transform="matrix(0.9205 0 0 1.0352 748.48 119.50)"><text font-size="102">II</text></g>
<g transform="matrix(0.9039 0 0 1.0365 1258.98 479.00)"><text font-size="91">BCY15</text><rect x="196.22" y="-10.01" width="16.79" height="11.65" fill="#fbfbfb"/><rect x="225.84" y="-10.01" width="15.88" height="11.65" fill="#fbfbfb"/></g>
<g transform="matrix(0.9075 0 0 1.0381 1007.35 1074.10)"><text font-size="91">Ni/BCY15-EG</text><rect x="312.50" y="-10.01" width="16.79" height="11.65" fill="#fbfbfb"/><rect x="342.12" y="-10.01" width="15.88" height="11.65" fill="#fbfbfb"/></g>
<g transform="matrix(0.9060 0 0 1.0317 1048.86 1655.00)"><text font-size="91">Ni/BCY15-W</text><rect x="312.50" y="-10.01" width="16.79" height="11.65" fill="#fbfbfb"/><rect x="342.12" y="-10.01" width="15.88" height="11.65" fill="#fbfbfb"/></g>
<g transform="matrix(0.9071 0 0 1.0000 111.89 1939.00)"><text font-size="78">525</text></g>
<g transform="matrix(0.8960 0 0 0.9821 579.21 1938.52)"><text font-size="78">530</text></g>
<g transform="matrix(0.9071 0 0 0.9821 1044.89 1938.52)"><text font-size="78">535</text></g>
<g transform="matrix(0.8880 0 0 0.9821 1511.22 1938.52)"><text font-size="78">540</text></g>
<g transform="matrix(0.9211 0 0 1.0333 394.97 2054.70)"><text font-size="100">Binding energy (eV)</text></g>
<text transform="matrix(0 -0.7357 1.0462 0 105.00 1438.45)" font-size="114">Intensity (arb. units)</text>
</g></svg></body></html>
